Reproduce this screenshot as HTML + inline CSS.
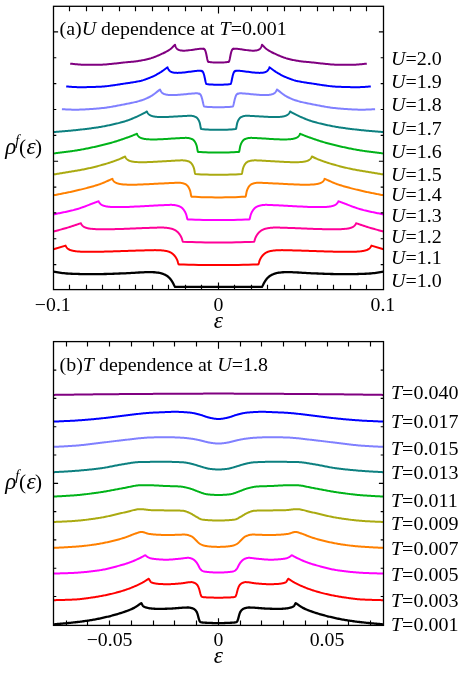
<!DOCTYPE html>
<html><head><meta charset="utf-8"><title>rho_f(epsilon): U and T dependence</title><style>
html,body{margin:0;padding:0;background:#fff;}
svg{display:block;will-change:transform;}
text{font-family:"Liberation Serif",serif;font-size:20px;fill:#000;}
.i{font-style:italic;}
.c{fill:none;stroke-width:2;stroke-linejoin:round;stroke-linecap:butt;}
.ax{fill:none;stroke:#000;stroke-width:1.3;}
.tk{stroke:#000;stroke-width:1.15;fill:none;}
</style></head><body>
<svg width="463" height="675" viewBox="0 0 463 675">
<rect width="463" height="675" fill="#fff"/>
<clipPath id="ca"><rect x="53.5" y="6.3" width="330.0" height="283.3"/></clipPath>
<g clip-path="url(#ca)"><g transform="translate(0,0.5)">
<path class="c" stroke="#000000" style="stroke-width:2.3" d="M53.50,271.10 L55.00,271.36 L56.50,271.63 L58.00,271.89 L59.50,272.13 L61.00,272.34 L62.50,272.53 L64.00,272.72 L65.50,272.88 L67.00,273.00 L68.50,273.10 L70.00,273.19 L71.50,273.26 L73.00,273.33 L74.50,273.38 L76.00,273.43 L77.50,273.47 L79.00,273.52 L80.50,273.56 L82.00,273.59 L83.50,273.63 L85.00,273.66 L86.50,273.68 L88.00,273.69 L89.50,273.70 L91.00,273.70 L92.50,273.69 L94.00,273.68 L95.50,273.66 L97.00,273.64 L98.50,273.62 L100.00,273.60 L101.50,273.58 L103.00,273.55 L104.50,273.51 L106.00,273.48 L107.50,273.43 L109.00,273.39 L110.50,273.34 L112.00,273.29 L113.50,273.24 L115.00,273.18 L116.50,273.13 L118.00,273.07 L119.50,273.01 L121.00,272.95 L122.50,272.90 L124.00,272.84 L125.50,272.78 L127.00,272.72 L128.50,272.64 L130.00,272.56 L131.50,272.47 L133.00,272.38 L134.50,272.29 L136.00,272.19 L137.50,272.10 L139.00,272.01 L140.50,271.93 L142.00,271.85 L143.50,271.78 L145.00,271.72 L146.50,271.67 L148.00,271.63 L149.50,271.61 L151.00,271.60 L152.50,271.64 L154.00,271.73 L155.50,271.86 L157.00,272.03 L158.00,272.15 L158.25,272.18 L158.50,272.21 L158.75,272.25 L159.00,272.29 L159.25,272.33 L159.50,272.38 L159.75,272.43 L160.00,272.49 L160.25,272.54 L160.50,272.61 L160.75,272.67 L161.00,272.74 L161.25,272.82 L161.50,272.89 L161.75,272.97 L162.00,273.05 L162.25,273.14 L162.50,273.23 L162.75,273.32 L163.00,273.41 L163.25,273.51 L163.50,273.61 L163.75,273.71 L164.00,273.82 L164.25,273.93 L164.50,274.04 L164.75,274.15 L165.00,274.27 L165.25,274.38 L165.50,274.50 L165.75,274.63 L166.00,274.75 L166.25,274.89 L166.50,275.03 L166.75,275.19 L167.00,275.36 L167.25,275.54 L167.50,275.73 L167.75,275.92 L168.00,276.13 L168.25,276.35 L168.50,276.57 L168.75,276.81 L169.00,277.05 L169.25,277.30 L169.50,277.55 L169.75,277.81 L170.00,278.08 L170.25,278.36 L170.50,278.65 L170.75,278.97 L171.00,279.31 L171.25,279.67 L171.50,280.05 L171.75,280.45 L172.00,280.85 L172.25,281.27 L172.50,281.69 L172.75,282.11 L173.00,282.56 L173.25,283.03 L173.50,283.53 L173.75,284.04 L174.00,284.55 L174.25,285.03 L174.50,285.47 L174.75,285.89 L175.00,286.30 L180.44,286.30 L185.88,286.30 L191.31,286.30 L196.75,286.30 L202.19,286.30 L207.62,286.30 L213.06,286.30 L218.50,286.30 L223.94,286.30 L229.38,286.30 L234.81,286.30 L240.25,286.30 L245.69,286.30 L251.12,286.30 L256.56,286.30 L262.00,286.30 L262.25,285.89 L262.50,285.47 L262.75,285.03 L263.00,284.55 L263.25,284.04 L263.50,283.53 L263.75,283.03 L264.00,282.56 L264.25,282.11 L264.50,281.69 L264.75,281.27 L265.00,280.85 L265.25,280.45 L265.50,280.05 L265.75,279.67 L266.00,279.31 L266.25,278.97 L266.50,278.65 L266.75,278.36 L267.00,278.08 L267.25,277.81 L267.50,277.55 L267.75,277.30 L268.00,277.05 L268.25,276.81 L268.50,276.57 L268.75,276.35 L269.00,276.13 L269.25,275.92 L269.50,275.73 L269.75,275.54 L270.00,275.36 L270.25,275.19 L270.50,275.03 L270.75,274.89 L271.00,274.75 L271.25,274.63 L271.50,274.50 L271.75,274.38 L272.00,274.27 L272.25,274.15 L272.50,274.04 L272.75,273.93 L273.00,273.82 L273.25,273.71 L273.50,273.61 L273.75,273.51 L274.00,273.41 L274.25,273.32 L274.50,273.23 L274.75,273.14 L275.00,273.05 L275.25,272.97 L275.50,272.89 L275.75,272.82 L276.00,272.74 L276.25,272.67 L276.50,272.61 L276.75,272.54 L277.00,272.49 L277.25,272.43 L277.50,272.38 L277.75,272.33 L278.00,272.29 L278.25,272.25 L278.50,272.21 L278.75,272.18 L279.00,272.15 L280.00,272.03 L281.50,271.86 L283.00,271.73 L284.50,271.64 L286.00,271.60 L287.50,271.61 L289.00,271.63 L290.50,271.67 L292.00,271.72 L293.50,271.78 L295.00,271.85 L296.50,271.93 L298.00,272.01 L299.50,272.10 L301.00,272.19 L302.50,272.29 L304.00,272.38 L305.50,272.47 L307.00,272.56 L308.50,272.64 L310.00,272.72 L311.50,272.78 L313.00,272.84 L314.50,272.90 L316.00,272.95 L317.50,273.01 L319.00,273.07 L320.50,273.13 L322.00,273.18 L323.50,273.24 L325.00,273.29 L326.50,273.34 L328.00,273.39 L329.50,273.43 L331.00,273.48 L332.50,273.51 L334.00,273.55 L335.50,273.58 L337.00,273.60 L338.50,273.62 L340.00,273.64 L341.50,273.66 L343.00,273.68 L344.50,273.69 L346.00,273.70 L347.50,273.70 L349.00,273.69 L350.50,273.68 L352.00,273.66 L353.50,273.63 L355.00,273.59 L356.50,273.56 L358.00,273.52 L359.50,273.47 L361.00,273.43 L362.50,273.38 L364.00,273.33 L365.50,273.26 L367.00,273.19 L368.50,273.10 L370.00,273.00 L371.50,272.88 L373.00,272.72 L374.50,272.53 L376.00,272.34 L377.50,272.13 L379.00,271.89 L380.50,271.63 L382.00,271.36 L383.50,271.10"/>
<path class="c" stroke="#ff0000" d="M53.50,248.80 L65.60,245.10 L65.85,245.63 L66.10,246.10 L66.35,246.51 L66.60,246.87 L66.85,247.18 L67.10,247.47 L67.35,247.73 L67.60,247.96 L67.85,248.17 L68.10,248.37 L68.35,248.54 L68.60,248.71 L68.85,248.86 L69.10,248.99 L69.35,249.12 L69.60,249.24 L69.85,249.35 L70.10,249.46 L70.35,249.56 L70.60,249.65 L70.85,249.73 L71.10,249.81 L71.35,249.89 L71.60,249.96 L71.85,250.03 L72.10,250.09 L72.35,250.15 L72.60,250.21 L72.85,250.26 L73.10,250.32 L73.35,250.36 L73.60,250.41 L73.85,250.45 L74.10,250.50 L74.35,250.54 L74.60,250.58 L74.85,250.61 L75.10,250.65 L75.35,250.68 L76.35,250.80 L77.85,250.94 L79.35,251.05 L80.85,251.14 L82.35,251.20 L83.85,251.25 L85.35,251.29 L86.85,251.31 L88.35,251.33 L89.85,251.33 L91.35,251.33 L92.85,251.33 L94.35,251.31 L95.85,251.30 L97.35,251.28 L98.85,251.25 L100.35,251.22 L101.85,251.19 L103.35,251.16 L104.85,251.12 L106.35,251.08 L107.85,251.04 L109.35,251.00 L110.85,250.95 L112.35,250.91 L113.85,250.86 L115.35,250.81 L116.85,250.76 L118.35,250.71 L119.85,250.66 L121.35,250.61 L122.85,250.56 L124.35,250.51 L125.85,250.46 L127.35,250.41 L128.85,250.36 L130.35,250.31 L131.85,250.26 L133.35,250.21 L134.85,250.16 L136.35,250.11 L137.85,250.06 L139.35,250.01 L140.85,249.97 L142.35,249.92 L143.85,249.88 L145.35,249.84 L146.85,249.80 L148.10,249.76 L148.35,249.76 L148.60,249.75 L148.85,249.74 L149.10,249.74 L149.35,249.73 L149.60,249.72 L149.85,249.72 L150.10,249.71 L150.35,249.71 L150.60,249.70 L150.85,249.69 L151.10,249.69 L151.35,249.68 L151.60,249.68 L151.85,249.67 L152.10,249.66 L152.35,249.66 L152.60,249.65 L152.85,249.65 L153.10,249.64 L153.35,249.64 L153.60,249.63 L153.85,249.63 L154.10,249.63 L154.35,249.63 L154.60,249.62 L154.85,249.62 L155.10,249.62 L155.35,249.62 L155.60,249.63 L155.85,249.63 L156.10,249.63 L156.35,249.64 L156.60,249.64 L156.85,249.65 L157.10,249.66 L157.35,249.66 L157.60,249.67 L157.85,249.68 L158.10,249.69 L158.35,249.70 L158.60,249.71 L158.85,249.72 L159.10,249.73 L159.35,249.74 L159.60,249.76 L159.85,249.77 L160.10,249.78 L160.35,249.80 L160.60,249.82 L160.85,249.83 L161.10,249.85 L161.35,249.87 L161.60,249.89 L161.85,249.91 L162.10,249.93 L162.35,249.95 L162.60,249.98 L162.85,250.00 L163.10,250.03 L163.35,250.06 L163.60,250.09 L163.85,250.12 L164.10,250.15 L164.35,250.19 L164.60,250.22 L164.85,250.26 L165.10,250.30 L165.35,250.35 L165.60,250.39 L165.85,250.41 L166.10,250.46 L166.35,250.51 L166.60,250.56 L166.85,250.62 L167.10,250.68 L167.35,250.74 L167.60,250.81 L167.85,250.88 L168.10,250.96 L168.35,251.04 L168.60,251.12 L168.85,251.21 L169.10,251.30 L169.35,251.40 L169.60,251.50 L169.85,251.61 L170.10,251.72 L170.35,251.84 L170.60,251.97 L170.85,252.11 L171.10,252.25 L171.35,252.40 L171.60,252.56 L171.85,252.72 L172.10,252.90 L172.35,253.08 L172.60,253.28 L172.85,253.48 L173.10,253.70 L173.35,253.93 L173.60,254.17 L173.85,254.42 L174.10,254.69 L174.35,254.98 L174.60,255.27 L174.85,255.59 L175.10,255.92 L175.35,256.27 L175.60,256.64 L175.85,257.03 L176.10,257.44 L176.35,257.87 L176.60,258.33 L176.85,258.82 L177.10,259.35 L177.35,259.95 L177.60,260.67 L177.85,261.53 L178.10,262.48 L178.35,263.30 L178.60,263.78 L178.85,263.90 L178.90,263.90 L183.85,264.06 L188.80,264.21 L193.75,264.33 L198.70,264.43 L203.65,264.50 L208.60,264.56 L213.55,264.59 L218.50,264.60 L223.45,264.59 L228.40,264.56 L233.35,264.50 L238.30,264.43 L243.25,264.33 L248.20,264.21 L253.15,264.06 L258.10,263.90 L258.15,263.90 L258.40,263.78 L258.65,263.30 L258.90,262.48 L259.15,261.53 L259.40,260.67 L259.65,259.95 L259.90,259.35 L260.15,258.82 L260.40,258.33 L260.65,257.87 L260.90,257.44 L261.15,257.03 L261.40,256.64 L261.65,256.27 L261.90,255.92 L262.15,255.59 L262.40,255.27 L262.65,254.98 L262.90,254.69 L263.15,254.42 L263.40,254.17 L263.65,253.93 L263.90,253.70 L264.15,253.48 L264.40,253.28 L264.65,253.08 L264.90,252.90 L265.15,252.72 L265.40,252.56 L265.65,252.40 L265.90,252.25 L266.15,252.11 L266.40,251.97 L266.65,251.84 L266.90,251.72 L267.15,251.61 L267.40,251.50 L267.65,251.40 L267.90,251.30 L268.15,251.21 L268.40,251.12 L268.65,251.04 L268.90,250.96 L269.15,250.88 L269.40,250.81 L269.65,250.74 L269.90,250.68 L270.15,250.62 L270.40,250.56 L270.65,250.51 L270.90,250.46 L271.15,250.41 L271.40,250.39 L271.65,250.35 L271.90,250.30 L272.15,250.26 L272.40,250.22 L272.65,250.19 L272.90,250.15 L273.15,250.12 L273.40,250.09 L273.65,250.06 L273.90,250.03 L274.15,250.00 L274.40,249.98 L274.65,249.95 L274.90,249.93 L275.15,249.91 L275.40,249.89 L275.65,249.87 L275.90,249.85 L276.15,249.83 L276.40,249.82 L276.65,249.80 L276.90,249.78 L277.15,249.77 L277.40,249.76 L277.65,249.74 L277.90,249.73 L278.15,249.72 L278.40,249.71 L278.65,249.70 L278.90,249.69 L279.15,249.68 L279.40,249.67 L279.65,249.66 L279.90,249.66 L280.15,249.65 L280.40,249.64 L280.65,249.64 L280.90,249.63 L281.15,249.63 L281.40,249.63 L281.65,249.62 L281.90,249.62 L282.15,249.62 L282.40,249.62 L282.65,249.63 L282.90,249.63 L283.15,249.63 L283.40,249.63 L283.65,249.64 L283.90,249.64 L284.15,249.65 L284.40,249.65 L284.65,249.66 L284.90,249.66 L285.15,249.67 L285.40,249.68 L285.65,249.68 L285.90,249.69 L286.15,249.69 L286.40,249.70 L286.65,249.71 L286.90,249.71 L287.15,249.72 L287.40,249.72 L287.65,249.73 L287.90,249.74 L288.15,249.74 L288.40,249.75 L288.65,249.76 L288.90,249.76 L290.15,249.80 L291.65,249.84 L293.15,249.88 L294.65,249.92 L296.15,249.97 L297.65,250.01 L299.15,250.06 L300.65,250.11 L302.15,250.16 L303.65,250.21 L305.15,250.26 L306.65,250.31 L308.15,250.36 L309.65,250.41 L311.15,250.46 L312.65,250.51 L314.15,250.56 L315.65,250.61 L317.15,250.66 L318.65,250.71 L320.15,250.76 L321.65,250.81 L323.15,250.86 L324.65,250.91 L326.15,250.95 L327.65,251.00 L329.15,251.04 L330.65,251.08 L332.15,251.12 L333.65,251.16 L335.15,251.19 L336.65,251.22 L338.15,251.25 L339.65,251.28 L341.15,251.30 L342.65,251.31 L344.15,251.33 L345.65,251.33 L347.15,251.33 L348.65,251.33 L350.15,251.31 L351.65,251.29 L353.15,251.25 L354.65,251.20 L356.15,251.14 L357.65,251.05 L359.15,250.94 L360.65,250.80 L361.65,250.68 L361.90,250.65 L362.15,250.61 L362.40,250.58 L362.65,250.54 L362.90,250.50 L363.15,250.45 L363.40,250.41 L363.65,250.36 L363.90,250.32 L364.15,250.26 L364.40,250.21 L364.65,250.15 L364.90,250.09 L365.15,250.03 L365.40,249.96 L365.65,249.89 L365.90,249.81 L366.15,249.73 L366.40,249.65 L366.65,249.56 L366.90,249.46 L367.15,249.35 L367.40,249.24 L367.65,249.12 L367.90,248.99 L368.15,248.86 L368.40,248.71 L368.65,248.54 L368.90,248.37 L369.15,248.17 L369.40,247.96 L369.65,247.73 L369.90,247.47 L370.15,247.18 L370.40,246.87 L370.65,246.51 L370.90,246.10 L371.15,245.63 L371.40,245.10 L383.50,248.80"/>
<path class="c" stroke="#ff0099" d="M53.50,231.00 L54.50,230.73 L55.50,230.46 L56.50,230.19 L57.50,229.93 L58.50,229.66 L59.50,229.39 L60.50,229.13 L61.50,228.86 L62.50,228.58 L63.50,228.31 L64.50,228.03 L65.50,227.74 L66.50,227.45 L67.50,227.15 L68.50,226.84 L69.50,226.53 L70.50,226.20 L71.50,225.88 L72.50,225.54 L73.50,225.21 L74.50,224.87 L75.50,224.53 L76.50,224.19 L77.50,223.84 L78.50,223.50 L79.50,223.17 L80.50,222.83 L80.90,222.70 L81.15,223.23 L81.40,223.70 L81.65,224.11 L81.90,224.46 L82.15,224.78 L82.40,225.07 L82.65,225.33 L82.90,225.56 L83.15,225.77 L83.40,225.96 L83.65,226.14 L83.90,226.30 L84.15,226.45 L84.40,226.59 L84.65,226.72 L84.90,226.84 L85.15,226.95 L85.40,227.05 L85.65,227.15 L85.90,227.24 L86.15,227.32 L86.40,227.40 L86.65,227.48 L86.90,227.55 L87.15,227.62 L87.40,227.68 L87.65,227.74 L87.90,227.79 L88.15,227.85 L88.40,227.90 L88.65,227.95 L88.90,227.99 L89.15,228.04 L89.40,228.08 L89.65,228.12 L89.90,228.15 L90.15,228.19 L90.40,228.22 L90.65,228.25 L91.65,228.37 L93.15,228.51 L94.65,228.61 L96.15,228.68 L97.65,228.74 L99.15,228.78 L100.65,228.80 L102.15,228.82 L103.65,228.82 L105.15,228.82 L106.65,228.81 L108.15,228.79 L109.65,228.76 L111.15,228.73 L112.65,228.70 L114.15,228.66 L115.65,228.62 L117.15,228.58 L118.65,228.53 L120.15,228.48 L121.65,228.43 L123.15,228.38 L124.65,228.32 L126.15,228.27 L127.65,228.21 L129.15,228.15 L130.65,228.09 L132.15,228.03 L133.65,227.97 L135.15,227.91 L136.65,227.85 L138.15,227.79 L139.65,227.74 L141.15,227.68 L142.65,227.62 L144.15,227.56 L145.65,227.50 L147.15,227.45 L148.65,227.40 L150.15,227.34 L151.65,227.29 L153.15,227.24 L154.65,227.19 L154.90,227.19 L155.15,227.18 L155.40,227.17 L155.65,227.16 L155.90,227.16 L156.15,227.15 L156.40,227.14 L156.65,227.13 L156.90,227.13 L157.15,227.12 L157.40,227.11 L157.65,227.11 L157.90,227.10 L158.15,227.09 L158.40,227.08 L158.65,227.08 L158.90,227.07 L159.15,227.06 L159.40,227.06 L159.65,227.05 L159.90,227.05 L160.15,227.04 L160.40,227.04 L160.65,227.04 L160.90,227.03 L161.15,227.03 L161.40,227.04 L161.65,227.04 L161.90,227.04 L162.15,227.05 L162.40,227.05 L162.65,227.06 L162.90,227.07 L163.15,227.08 L163.40,227.10 L163.65,227.11 L163.90,227.12 L164.15,227.14 L164.40,227.16 L164.65,227.17 L164.90,227.19 L165.15,227.21 L165.40,227.23 L165.65,227.26 L165.90,227.28 L166.15,227.30 L166.40,227.33 L166.65,227.35 L166.90,227.38 L167.15,227.41 L167.40,227.44 L167.65,227.48 L167.90,227.51 L168.15,227.55 L168.40,227.58 L168.65,227.62 L168.90,227.67 L169.15,227.71 L169.40,227.76 L169.65,227.80 L169.90,227.86 L170.15,227.91 L170.40,227.97 L170.65,228.03 L170.90,228.09 L171.15,228.15 L171.40,228.18 L171.65,228.25 L171.90,228.32 L172.15,228.40 L172.40,228.48 L172.65,228.56 L172.90,228.65 L173.15,228.75 L173.40,228.85 L173.65,228.95 L173.90,229.06 L174.15,229.18 L174.40,229.30 L174.65,229.43 L174.90,229.56 L175.15,229.70 L175.40,229.85 L175.65,230.01 L175.90,230.17 L176.15,230.35 L176.40,230.53 L176.65,230.72 L176.90,230.92 L177.15,231.13 L177.40,231.35 L177.65,231.58 L177.90,231.83 L178.15,232.09 L178.40,232.36 L178.65,232.64 L178.90,232.94 L179.15,233.25 L179.40,233.59 L179.65,233.93 L179.90,234.30 L180.15,234.68 L180.40,235.09 L180.65,235.51 L180.90,235.96 L181.15,236.43 L181.40,236.95 L181.65,237.53 L181.90,238.22 L182.15,239.05 L182.40,239.95 L182.65,240.73 L182.90,241.19 L183.15,241.30 L183.20,241.30 L187.61,241.46 L192.02,241.61 L196.44,241.73 L200.85,241.83 L205.26,241.90 L209.68,241.96 L214.09,241.99 L218.50,242.00 L222.91,241.99 L227.32,241.96 L231.74,241.90 L236.15,241.83 L240.56,241.73 L244.98,241.61 L249.39,241.46 L253.80,241.30 L253.85,241.30 L254.10,241.19 L254.35,240.73 L254.60,239.95 L254.85,239.05 L255.10,238.22 L255.35,237.53 L255.60,236.95 L255.85,236.43 L256.10,235.96 L256.35,235.51 L256.60,235.09 L256.85,234.68 L257.10,234.30 L257.35,233.93 L257.60,233.59 L257.85,233.25 L258.10,232.94 L258.35,232.64 L258.60,232.36 L258.85,232.09 L259.10,231.83 L259.35,231.58 L259.60,231.35 L259.85,231.13 L260.10,230.92 L260.35,230.72 L260.60,230.53 L260.85,230.35 L261.10,230.17 L261.35,230.01 L261.60,229.85 L261.85,229.70 L262.10,229.56 L262.35,229.43 L262.60,229.30 L262.85,229.18 L263.10,229.06 L263.35,228.95 L263.60,228.85 L263.85,228.75 L264.10,228.65 L264.35,228.56 L264.60,228.48 L264.85,228.40 L265.10,228.32 L265.35,228.25 L265.60,228.18 L265.85,228.15 L266.10,228.09 L266.35,228.03 L266.60,227.97 L266.85,227.91 L267.10,227.86 L267.35,227.80 L267.60,227.76 L267.85,227.71 L268.10,227.67 L268.35,227.62 L268.60,227.58 L268.85,227.55 L269.10,227.51 L269.35,227.48 L269.60,227.44 L269.85,227.41 L270.10,227.38 L270.35,227.35 L270.60,227.33 L270.85,227.30 L271.10,227.28 L271.35,227.26 L271.60,227.23 L271.85,227.21 L272.10,227.19 L272.35,227.17 L272.60,227.16 L272.85,227.14 L273.10,227.12 L273.35,227.11 L273.60,227.10 L273.85,227.08 L274.10,227.07 L274.35,227.06 L274.60,227.05 L274.85,227.05 L275.10,227.04 L275.35,227.04 L275.60,227.04 L275.85,227.03 L276.10,227.03 L276.35,227.04 L276.60,227.04 L276.85,227.04 L277.10,227.05 L277.35,227.05 L277.60,227.06 L277.85,227.06 L278.10,227.07 L278.35,227.08 L278.60,227.08 L278.85,227.09 L279.10,227.10 L279.35,227.11 L279.60,227.11 L279.85,227.12 L280.10,227.13 L280.35,227.13 L280.60,227.14 L280.85,227.15 L281.10,227.16 L281.35,227.16 L281.60,227.17 L281.85,227.18 L282.10,227.19 L282.35,227.19 L283.85,227.24 L285.35,227.29 L286.85,227.34 L288.35,227.40 L289.85,227.45 L291.35,227.50 L292.85,227.56 L294.35,227.62 L295.85,227.68 L297.35,227.74 L298.85,227.79 L300.35,227.85 L301.85,227.91 L303.35,227.97 L304.85,228.03 L306.35,228.09 L307.85,228.15 L309.35,228.21 L310.85,228.27 L312.35,228.32 L313.85,228.38 L315.35,228.43 L316.85,228.48 L318.35,228.53 L319.85,228.58 L321.35,228.62 L322.85,228.66 L324.35,228.70 L325.85,228.73 L327.35,228.76 L328.85,228.79 L330.35,228.81 L331.85,228.82 L333.35,228.82 L334.85,228.82 L336.35,228.80 L337.85,228.78 L339.35,228.74 L340.85,228.68 L342.35,228.61 L343.85,228.51 L345.35,228.37 L346.35,228.25 L346.60,228.22 L346.85,228.19 L347.10,228.15 L347.35,228.12 L347.60,228.08 L347.85,228.04 L348.10,227.99 L348.35,227.95 L348.60,227.90 L348.85,227.85 L349.10,227.79 L349.35,227.74 L349.60,227.68 L349.85,227.62 L350.10,227.55 L350.35,227.48 L350.60,227.40 L350.85,227.32 L351.10,227.24 L351.35,227.15 L351.60,227.05 L351.85,226.95 L352.10,226.84 L352.35,226.72 L352.60,226.59 L352.85,226.45 L353.10,226.30 L353.35,226.14 L353.60,225.96 L353.85,225.77 L354.10,225.56 L354.35,225.33 L354.60,225.07 L354.85,224.78 L355.10,224.46 L355.35,224.11 L355.60,223.70 L355.85,223.23 L356.10,222.70 L356.50,222.83 L357.50,223.17 L358.50,223.50 L359.50,223.84 L360.50,224.19 L361.50,224.53 L362.50,224.87 L363.50,225.21 L364.50,225.54 L365.50,225.88 L366.50,226.20 L367.50,226.53 L368.50,226.84 L369.50,227.15 L370.50,227.45 L371.50,227.74 L372.50,228.03 L373.50,228.31 L374.50,228.58 L375.50,228.86 L376.50,229.13 L377.50,229.39 L378.50,229.66 L379.50,229.93 L380.50,230.19 L381.50,230.46 L382.50,230.73 L383.50,231.00"/>
<path class="c" stroke="#ff00ff" d="M53.50,213.90 L54.50,213.68 L55.50,213.47 L56.50,213.26 L57.50,213.06 L58.50,212.85 L59.50,212.65 L60.50,212.45 L61.50,212.25 L62.50,212.05 L63.50,211.84 L64.50,211.64 L65.50,211.43 L66.50,211.22 L67.50,211.01 L68.50,210.79 L69.50,210.56 L70.50,210.33 L71.50,210.09 L72.50,209.85 L73.50,209.60 L74.50,209.33 L75.50,209.06 L76.50,208.78 L77.50,208.48 L78.50,208.17 L79.50,207.84 L80.50,207.51 L81.50,207.16 L82.50,206.81 L83.50,206.45 L84.50,206.08 L85.50,205.71 L86.50,205.33 L87.50,204.94 L88.50,204.56 L89.50,204.17 L90.50,203.78 L91.50,203.39 L92.50,203.00 L93.50,202.61 L94.50,202.23 L95.50,201.85 L96.50,201.47 L97.50,201.10 L98.50,200.74 L98.60,200.70 L98.85,201.23 L99.10,201.70 L99.35,202.10 L99.60,202.46 L99.85,202.78 L100.10,203.07 L100.35,203.32 L100.60,203.56 L100.85,203.77 L101.10,203.96 L101.35,204.13 L101.60,204.29 L101.85,204.44 L102.10,204.58 L102.35,204.71 L102.60,204.82 L102.85,204.93 L103.10,205.04 L103.35,205.13 L103.60,205.22 L103.85,205.30 L104.10,205.38 L104.35,205.46 L104.60,205.52 L104.85,205.59 L105.10,205.65 L105.35,205.71 L105.60,205.76 L105.85,205.81 L106.10,205.86 L106.35,205.91 L106.60,205.95 L106.85,205.99 L107.10,206.03 L107.35,206.07 L107.60,206.10 L107.85,206.14 L108.10,206.17 L108.35,206.20 L109.35,206.30 L110.85,206.42 L112.35,206.51 L113.85,206.57 L115.35,206.60 L116.85,206.62 L118.35,206.62 L119.85,206.61 L121.35,206.59 L122.85,206.57 L124.35,206.53 L125.85,206.48 L127.35,206.43 L128.85,206.38 L130.35,206.32 L131.85,206.25 L133.35,206.19 L134.85,206.12 L136.35,206.04 L137.85,205.97 L139.35,205.89 L140.85,205.81 L142.35,205.73 L143.85,205.65 L145.35,205.56 L146.85,205.48 L148.35,205.40 L149.85,205.32 L151.35,205.23 L152.85,205.15 L154.35,205.07 L155.85,204.99 L157.35,204.92 L158.85,204.84 L160.35,204.77 L161.85,204.70 L163.35,204.63 L164.85,204.56 L165.10,204.55 L165.35,204.54 L165.60,204.53 L165.85,204.52 L166.10,204.51 L166.35,204.50 L166.60,204.49 L166.85,204.48 L167.10,204.47 L167.35,204.46 L167.60,204.45 L167.85,204.44 L168.10,204.43 L168.35,204.42 L168.60,204.41 L168.85,204.40 L169.10,204.39 L169.35,204.38 L169.60,204.38 L169.85,204.37 L170.10,204.36 L170.35,204.36 L170.60,204.35 L170.85,204.35 L171.10,204.35 L171.35,204.35 L171.60,204.36 L171.85,204.37 L172.10,204.38 L172.35,204.39 L172.60,204.40 L172.85,204.42 L173.10,204.44 L173.35,204.46 L173.60,204.49 L173.85,204.51 L174.10,204.54 L174.35,204.58 L174.60,204.61 L174.85,204.65 L175.10,204.68 L175.35,204.72 L175.60,204.77 L175.85,204.81 L176.10,204.86 L176.35,204.92 L176.60,204.97 L176.85,205.03 L177.10,205.10 L177.35,205.17 L177.60,205.24 L177.85,205.32 L178.10,205.40 L178.35,205.49 L178.60,205.58 L178.85,205.68 L179.10,205.70 L179.35,205.80 L179.60,205.92 L179.85,206.04 L180.10,206.17 L180.35,206.31 L180.60,206.45 L180.85,206.61 L181.10,206.78 L181.35,206.95 L181.60,207.14 L181.85,207.35 L182.10,207.56 L182.35,207.79 L182.60,208.03 L182.85,208.29 L183.10,208.57 L183.35,208.87 L183.60,209.18 L183.85,209.52 L184.10,209.87 L184.35,210.25 L184.60,210.66 L184.85,211.09 L185.10,211.55 L185.35,212.04 L185.60,212.56 L185.85,213.13 L186.10,213.76 L186.35,214.51 L186.60,215.42 L186.85,216.50 L187.10,217.61 L187.35,218.47 L187.60,218.86 L187.80,218.90 L191.64,219.06 L195.48,219.21 L199.31,219.33 L203.15,219.43 L206.99,219.50 L210.82,219.56 L214.66,219.59 L218.50,219.60 L222.34,219.59 L226.18,219.56 L230.01,219.50 L233.85,219.43 L237.69,219.33 L241.52,219.21 L245.36,219.06 L249.20,218.90 L249.40,218.86 L249.65,218.47 L249.90,217.61 L250.15,216.50 L250.40,215.42 L250.65,214.51 L250.90,213.76 L251.15,213.13 L251.40,212.56 L251.65,212.04 L251.90,211.55 L252.15,211.09 L252.40,210.66 L252.65,210.25 L252.90,209.87 L253.15,209.52 L253.40,209.18 L253.65,208.87 L253.90,208.57 L254.15,208.29 L254.40,208.03 L254.65,207.79 L254.90,207.56 L255.15,207.35 L255.40,207.14 L255.65,206.95 L255.90,206.78 L256.15,206.61 L256.40,206.45 L256.65,206.31 L256.90,206.17 L257.15,206.04 L257.40,205.92 L257.65,205.80 L257.90,205.70 L258.15,205.68 L258.40,205.58 L258.65,205.49 L258.90,205.40 L259.15,205.32 L259.40,205.24 L259.65,205.17 L259.90,205.10 L260.15,205.03 L260.40,204.97 L260.65,204.92 L260.90,204.86 L261.15,204.81 L261.40,204.77 L261.65,204.72 L261.90,204.68 L262.15,204.65 L262.40,204.61 L262.65,204.58 L262.90,204.54 L263.15,204.51 L263.40,204.49 L263.65,204.46 L263.90,204.44 L264.15,204.42 L264.40,204.40 L264.65,204.39 L264.90,204.38 L265.15,204.37 L265.40,204.36 L265.65,204.35 L265.90,204.35 L266.15,204.35 L266.40,204.35 L266.65,204.36 L266.90,204.36 L267.15,204.37 L267.40,204.38 L267.65,204.38 L267.90,204.39 L268.15,204.40 L268.40,204.41 L268.65,204.42 L268.90,204.43 L269.15,204.44 L269.40,204.45 L269.65,204.46 L269.90,204.47 L270.15,204.48 L270.40,204.49 L270.65,204.50 L270.90,204.51 L271.15,204.52 L271.40,204.53 L271.65,204.54 L271.90,204.55 L272.15,204.56 L273.65,204.63 L275.15,204.70 L276.65,204.77 L278.15,204.84 L279.65,204.92 L281.15,204.99 L282.65,205.07 L284.15,205.15 L285.65,205.23 L287.15,205.32 L288.65,205.40 L290.15,205.48 L291.65,205.56 L293.15,205.65 L294.65,205.73 L296.15,205.81 L297.65,205.89 L299.15,205.97 L300.65,206.04 L302.15,206.12 L303.65,206.19 L305.15,206.25 L306.65,206.32 L308.15,206.38 L309.65,206.43 L311.15,206.48 L312.65,206.53 L314.15,206.57 L315.65,206.59 L317.15,206.61 L318.65,206.62 L320.15,206.62 L321.65,206.60 L323.15,206.57 L324.65,206.51 L326.15,206.42 L327.65,206.30 L328.65,206.20 L328.90,206.17 L329.15,206.14 L329.40,206.10 L329.65,206.07 L329.90,206.03 L330.15,205.99 L330.40,205.95 L330.65,205.91 L330.90,205.86 L331.15,205.81 L331.40,205.76 L331.65,205.71 L331.90,205.65 L332.15,205.59 L332.40,205.52 L332.65,205.46 L332.90,205.38 L333.15,205.30 L333.40,205.22 L333.65,205.13 L333.90,205.04 L334.15,204.93 L334.40,204.82 L334.65,204.71 L334.90,204.58 L335.15,204.44 L335.40,204.29 L335.65,204.13 L335.90,203.96 L336.15,203.77 L336.40,203.56 L336.65,203.32 L336.90,203.07 L337.15,202.78 L337.40,202.46 L337.65,202.10 L337.90,201.70 L338.15,201.23 L338.40,200.70 L338.50,200.74 L339.50,201.10 L340.50,201.47 L341.50,201.85 L342.50,202.23 L343.50,202.61 L344.50,203.00 L345.50,203.39 L346.50,203.78 L347.50,204.17 L348.50,204.56 L349.50,204.94 L350.50,205.33 L351.50,205.71 L352.50,206.08 L353.50,206.45 L354.50,206.81 L355.50,207.16 L356.50,207.51 L357.50,207.84 L358.50,208.17 L359.50,208.48 L360.50,208.78 L361.50,209.06 L362.50,209.33 L363.50,209.60 L364.50,209.85 L365.50,210.09 L366.50,210.33 L367.50,210.56 L368.50,210.79 L369.50,211.01 L370.50,211.22 L371.50,211.43 L372.50,211.64 L373.50,211.84 L374.50,212.05 L375.50,212.25 L376.50,212.45 L377.50,212.65 L378.50,212.85 L379.50,213.06 L380.50,213.26 L381.50,213.47 L382.50,213.68 L383.50,213.90"/>
<path class="c" stroke="#ff8000" d="M53.50,194.80 L54.50,194.60 L55.50,194.40 L56.50,194.20 L57.50,194.00 L58.50,193.80 L59.50,193.61 L60.50,193.41 L61.50,193.22 L62.50,193.02 L63.50,192.82 L64.50,192.63 L65.50,192.43 L66.50,192.23 L67.50,192.02 L68.50,191.82 L69.50,191.61 L70.50,191.40 L71.50,191.19 L72.50,190.97 L73.50,190.74 L74.50,190.52 L75.50,190.28 L76.50,190.05 L77.50,189.82 L78.50,189.58 L79.50,189.34 L80.50,189.10 L81.50,188.86 L82.50,188.61 L83.50,188.37 L84.50,188.12 L85.50,187.86 L86.50,187.60 L87.50,187.34 L88.50,187.08 L89.50,186.80 L90.50,186.53 L91.50,186.25 L92.50,185.96 L93.50,185.67 L94.50,185.37 L95.50,185.06 L96.50,184.75 L97.50,184.43 L98.50,184.10 L99.50,183.77 L100.50,183.43 L101.50,183.06 L102.50,182.66 L103.50,182.25 L104.50,181.82 L105.50,181.38 L106.50,180.93 L107.50,180.47 L108.50,180.01 L109.50,179.55 L110.50,179.10 L111.50,178.65 L112.30,178.30 L112.55,178.83 L112.80,179.30 L113.05,179.70 L113.30,180.06 L113.55,180.38 L113.80,180.67 L114.05,180.92 L114.30,181.15 L114.55,181.37 L114.80,181.56 L115.05,181.73 L115.30,181.89 L115.55,182.04 L115.80,182.18 L116.05,182.31 L116.30,182.42 L116.55,182.53 L116.80,182.63 L117.05,182.73 L117.30,182.82 L117.55,182.90 L117.80,182.98 L118.05,183.05 L118.30,183.12 L118.55,183.19 L118.80,183.25 L119.05,183.30 L119.30,183.36 L119.55,183.41 L119.80,183.46 L120.05,183.50 L120.30,183.55 L120.55,183.59 L120.80,183.62 L121.05,183.66 L121.30,183.70 L121.55,183.73 L121.80,183.76 L122.05,183.79 L123.05,183.89 L124.55,184.01 L126.05,184.09 L127.55,184.15 L129.05,184.18 L130.55,184.19 L132.05,184.19 L133.55,184.18 L135.05,184.16 L136.55,184.13 L138.05,184.09 L139.55,184.04 L141.05,183.99 L142.55,183.93 L144.05,183.87 L145.55,183.80 L147.05,183.73 L148.55,183.66 L150.05,183.58 L151.55,183.51 L153.05,183.43 L154.55,183.35 L156.05,183.27 L157.55,183.19 L159.05,183.11 L160.55,183.04 L162.05,182.96 L163.55,182.88 L165.05,182.80 L166.55,182.73 L168.05,182.66 L169.55,182.59 L171.05,182.52 L172.30,182.46 L172.55,182.45 L172.80,182.44 L173.05,182.43 L173.30,182.42 L173.55,182.41 L173.80,182.40 L174.05,182.39 L174.30,182.38 L174.55,182.37 L174.80,182.36 L175.05,182.35 L175.30,182.34 L175.55,182.33 L175.80,182.32 L176.05,182.31 L176.30,182.30 L176.55,182.29 L176.80,182.29 L177.05,182.28 L177.30,182.27 L177.55,182.26 L177.80,182.26 L178.05,182.26 L178.30,182.25 L178.55,182.25 L178.80,182.26 L179.05,182.26 L179.30,182.27 L179.55,182.28 L179.80,182.29 L180.05,182.31 L180.30,182.33 L180.55,182.35 L180.80,182.38 L181.05,182.41 L181.30,182.45 L181.55,182.48 L181.80,182.53 L182.05,182.57 L182.30,182.62 L182.55,182.68 L182.80,182.74 L183.05,182.80 L183.30,182.88 L183.55,182.95 L183.80,183.04 L184.05,183.13 L184.30,183.23 L184.55,183.34 L184.80,183.46 L185.05,183.44 L185.30,183.57 L185.55,183.71 L185.80,183.86 L186.05,184.03 L186.30,184.21 L186.55,184.41 L186.80,184.63 L187.05,184.86 L187.30,185.12 L187.55,185.40 L187.80,185.71 L188.05,186.04 L188.30,186.40 L188.55,186.80 L188.80,187.23 L189.05,187.70 L189.30,188.21 L189.55,188.78 L189.80,189.40 L190.05,190.13 L190.30,191.02 L190.55,192.14 L190.80,193.48 L191.05,194.82 L191.30,195.80 L191.55,196.18 L191.70,196.20 L195.05,196.36 L198.40,196.51 L201.75,196.63 L205.10,196.72 L208.45,196.80 L211.80,196.86 L215.15,196.89 L218.50,196.90 L221.85,196.89 L225.20,196.86 L228.55,196.80 L231.90,196.72 L235.25,196.63 L238.60,196.51 L241.95,196.36 L245.30,196.20 L245.45,196.18 L245.70,195.80 L245.95,194.82 L246.20,193.48 L246.45,192.14 L246.70,191.02 L246.95,190.13 L247.20,189.40 L247.45,188.78 L247.70,188.21 L247.95,187.70 L248.20,187.23 L248.45,186.80 L248.70,186.40 L248.95,186.04 L249.20,185.71 L249.45,185.40 L249.70,185.12 L249.95,184.86 L250.20,184.63 L250.45,184.41 L250.70,184.21 L250.95,184.03 L251.20,183.86 L251.45,183.71 L251.70,183.57 L251.95,183.44 L252.20,183.46 L252.45,183.34 L252.70,183.23 L252.95,183.13 L253.20,183.04 L253.45,182.95 L253.70,182.88 L253.95,182.80 L254.20,182.74 L254.45,182.68 L254.70,182.62 L254.95,182.57 L255.20,182.53 L255.45,182.48 L255.70,182.45 L255.95,182.41 L256.20,182.38 L256.45,182.35 L256.70,182.33 L256.95,182.31 L257.20,182.29 L257.45,182.28 L257.70,182.27 L257.95,182.26 L258.20,182.26 L258.45,182.25 L258.70,182.25 L258.95,182.26 L259.20,182.26 L259.45,182.26 L259.70,182.27 L259.95,182.28 L260.20,182.29 L260.45,182.29 L260.70,182.30 L260.95,182.31 L261.20,182.32 L261.45,182.33 L261.70,182.34 L261.95,182.35 L262.20,182.36 L262.45,182.37 L262.70,182.38 L262.95,182.39 L263.20,182.40 L263.45,182.41 L263.70,182.42 L263.95,182.43 L264.20,182.44 L264.45,182.45 L264.70,182.46 L265.95,182.52 L267.45,182.59 L268.95,182.66 L270.45,182.73 L271.95,182.80 L273.45,182.88 L274.95,182.96 L276.45,183.04 L277.95,183.11 L279.45,183.19 L280.95,183.27 L282.45,183.35 L283.95,183.43 L285.45,183.51 L286.95,183.58 L288.45,183.66 L289.95,183.73 L291.45,183.80 L292.95,183.87 L294.45,183.93 L295.95,183.99 L297.45,184.04 L298.95,184.09 L300.45,184.13 L301.95,184.16 L303.45,184.18 L304.95,184.19 L306.45,184.19 L307.95,184.18 L309.45,184.15 L310.95,184.09 L312.45,184.01 L313.95,183.89 L314.95,183.79 L315.20,183.76 L315.45,183.73 L315.70,183.70 L315.95,183.66 L316.20,183.62 L316.45,183.59 L316.70,183.55 L316.95,183.50 L317.20,183.46 L317.45,183.41 L317.70,183.36 L317.95,183.30 L318.20,183.25 L318.45,183.19 L318.70,183.12 L318.95,183.05 L319.20,182.98 L319.45,182.90 L319.70,182.82 L319.95,182.73 L320.20,182.63 L320.45,182.53 L320.70,182.42 L320.95,182.31 L321.20,182.18 L321.45,182.04 L321.70,181.89 L321.95,181.73 L322.20,181.56 L322.45,181.37 L322.70,181.15 L322.95,180.92 L323.20,180.67 L323.45,180.38 L323.70,180.06 L323.95,179.70 L324.20,179.30 L324.45,178.83 L324.70,178.30 L325.50,178.65 L326.50,179.10 L327.50,179.55 L328.50,180.01 L329.50,180.47 L330.50,180.93 L331.50,181.38 L332.50,181.82 L333.50,182.25 L334.50,182.66 L335.50,183.06 L336.50,183.43 L337.50,183.77 L338.50,184.10 L339.50,184.43 L340.50,184.75 L341.50,185.06 L342.50,185.37 L343.50,185.67 L344.50,185.96 L345.50,186.25 L346.50,186.53 L347.50,186.80 L348.50,187.08 L349.50,187.34 L350.50,187.60 L351.50,187.86 L352.50,188.12 L353.50,188.37 L354.50,188.61 L355.50,188.86 L356.50,189.10 L357.50,189.34 L358.50,189.58 L359.50,189.82 L360.50,190.05 L361.50,190.28 L362.50,190.52 L363.50,190.74 L364.50,190.97 L365.50,191.19 L366.50,191.40 L367.50,191.61 L368.50,191.82 L369.50,192.02 L370.50,192.23 L371.50,192.43 L372.50,192.63 L373.50,192.82 L374.50,193.02 L375.50,193.22 L376.50,193.41 L377.50,193.61 L378.50,193.80 L379.50,194.00 L380.50,194.20 L381.50,194.40 L382.50,194.60 L383.50,194.80"/>
<path class="c" stroke="#aaaa11" d="M53.50,174.00 L54.50,173.83 L55.50,173.67 L56.50,173.50 L57.50,173.34 L58.50,173.17 L59.50,173.01 L60.50,172.84 L61.50,172.67 L62.50,172.51 L63.50,172.34 L64.50,172.17 L65.50,172.00 L66.50,171.84 L67.50,171.67 L68.50,171.50 L69.50,171.33 L70.50,171.16 L71.50,171.00 L72.50,170.83 L73.50,170.67 L74.50,170.50 L75.50,170.34 L76.50,170.17 L77.50,170.00 L78.50,169.82 L79.50,169.65 L80.50,169.47 L81.50,169.28 L82.50,169.09 L83.50,168.90 L84.50,168.70 L85.50,168.49 L86.50,168.28 L87.50,168.07 L88.50,167.85 L89.50,167.62 L90.50,167.40 L91.50,167.16 L92.50,166.92 L93.50,166.68 L94.50,166.43 L95.50,166.18 L96.50,165.93 L97.50,165.67 L98.50,165.40 L99.50,165.13 L100.50,164.86 L101.50,164.58 L102.50,164.30 L103.50,164.02 L104.50,163.73 L105.50,163.44 L106.50,163.14 L107.50,162.84 L108.50,162.53 L109.50,162.21 L110.50,161.89 L111.50,161.56 L112.50,161.22 L113.50,160.88 L114.50,160.53 L115.50,160.17 L116.50,159.80 L117.50,159.42 L118.50,159.04 L119.50,158.64 L120.50,158.20 L121.50,157.74 L122.50,157.26 L123.50,156.77 L124.50,156.28 L125.10,156.00 L125.35,156.53 L125.60,157.00 L125.85,157.40 L126.10,157.76 L126.35,158.08 L126.60,158.36 L126.85,158.62 L127.10,158.85 L127.35,159.06 L127.60,159.25 L127.85,159.43 L128.10,159.59 L128.35,159.73 L128.60,159.87 L128.85,159.99 L129.10,160.11 L129.35,160.22 L129.60,160.32 L129.85,160.41 L130.10,160.50 L130.35,160.58 L130.60,160.66 L130.85,160.73 L131.10,160.79 L131.35,160.86 L131.60,160.91 L131.85,160.97 L132.10,161.02 L132.35,161.07 L132.60,161.12 L132.85,161.16 L133.10,161.20 L133.35,161.24 L133.60,161.28 L133.85,161.31 L134.10,161.34 L134.35,161.37 L134.60,161.40 L134.85,161.43 L135.85,161.52 L137.35,161.62 L138.85,161.68 L140.35,161.72 L141.85,161.73 L143.35,161.72 L144.85,161.70 L146.35,161.66 L147.85,161.62 L149.35,161.56 L150.85,161.50 L152.35,161.43 L153.85,161.35 L155.35,161.27 L156.85,161.19 L158.35,161.10 L159.85,161.02 L161.35,160.93 L162.85,160.83 L164.35,160.74 L165.85,160.65 L167.35,160.56 L168.85,160.47 L170.35,160.38 L171.85,160.29 L173.35,160.21 L174.85,160.13 L175.35,160.10 L175.60,160.09 L175.85,160.08 L176.10,160.07 L176.35,160.06 L176.60,160.04 L176.85,160.03 L177.10,160.02 L177.35,160.01 L177.60,159.99 L177.85,159.98 L178.10,159.97 L178.35,159.96 L178.60,159.95 L178.85,159.94 L179.10,159.93 L179.35,159.92 L179.60,159.90 L179.85,159.89 L180.10,159.88 L180.35,159.88 L180.60,159.87 L180.85,159.86 L181.10,159.86 L181.35,159.85 L181.60,159.85 L181.85,159.85 L182.10,159.85 L182.35,159.85 L182.60,159.86 L182.85,159.87 L183.10,159.88 L183.35,159.89 L183.60,159.91 L183.85,159.93 L184.10,159.95 L184.35,159.97 L184.60,160.00 L184.85,160.03 L185.10,160.06 L185.35,160.10 L185.60,160.14 L185.85,160.18 L186.10,160.22 L186.35,160.27 L186.60,160.33 L186.85,160.39 L187.10,160.46 L187.35,160.53 L187.60,160.61 L187.85,160.69 L188.10,160.79 L188.35,160.77 L188.60,160.87 L188.85,160.98 L189.10,161.10 L189.35,161.23 L189.60,161.38 L189.85,161.53 L190.10,161.71 L190.35,161.90 L190.60,162.10 L190.85,162.33 L191.10,162.57 L191.35,162.84 L191.60,163.14 L191.85,163.46 L192.10,163.82 L192.35,164.20 L192.60,164.62 L192.85,165.09 L193.10,165.59 L193.35,166.15 L193.60,166.77 L193.85,167.49 L194.10,168.38 L194.35,169.51 L194.60,170.85 L194.85,172.21 L195.10,173.19 L195.35,173.57 L195.50,173.60 L198.38,173.76 L201.25,173.91 L204.12,174.03 L207.00,174.12 L209.88,174.20 L212.75,174.26 L215.62,174.29 L218.50,174.30 L221.38,174.29 L224.25,174.26 L227.12,174.20 L230.00,174.12 L232.88,174.03 L235.75,173.91 L238.62,173.76 L241.50,173.60 L241.65,173.57 L241.90,173.19 L242.15,172.21 L242.40,170.85 L242.65,169.51 L242.90,168.38 L243.15,167.49 L243.40,166.77 L243.65,166.15 L243.90,165.59 L244.15,165.09 L244.40,164.62 L244.65,164.20 L244.90,163.82 L245.15,163.46 L245.40,163.14 L245.65,162.84 L245.90,162.57 L246.15,162.33 L246.40,162.10 L246.65,161.90 L246.90,161.71 L247.15,161.53 L247.40,161.38 L247.65,161.23 L247.90,161.10 L248.15,160.98 L248.40,160.87 L248.65,160.77 L248.90,160.79 L249.15,160.69 L249.40,160.61 L249.65,160.53 L249.90,160.46 L250.15,160.39 L250.40,160.33 L250.65,160.27 L250.90,160.22 L251.15,160.18 L251.40,160.14 L251.65,160.10 L251.90,160.06 L252.15,160.03 L252.40,160.00 L252.65,159.97 L252.90,159.95 L253.15,159.93 L253.40,159.91 L253.65,159.89 L253.90,159.88 L254.15,159.87 L254.40,159.86 L254.65,159.85 L254.90,159.85 L255.15,159.85 L255.40,159.85 L255.65,159.85 L255.90,159.86 L256.15,159.86 L256.40,159.87 L256.65,159.88 L256.90,159.88 L257.15,159.89 L257.40,159.90 L257.65,159.92 L257.90,159.93 L258.15,159.94 L258.40,159.95 L258.65,159.96 L258.90,159.97 L259.15,159.98 L259.40,159.99 L259.65,160.01 L259.90,160.02 L260.15,160.03 L260.40,160.04 L260.65,160.06 L260.90,160.07 L261.15,160.08 L261.40,160.09 L261.65,160.10 L262.15,160.13 L263.65,160.21 L265.15,160.29 L266.65,160.38 L268.15,160.47 L269.65,160.56 L271.15,160.65 L272.65,160.74 L274.15,160.83 L275.65,160.93 L277.15,161.02 L278.65,161.10 L280.15,161.19 L281.65,161.27 L283.15,161.35 L284.65,161.43 L286.15,161.50 L287.65,161.56 L289.15,161.62 L290.65,161.66 L292.15,161.70 L293.65,161.72 L295.15,161.73 L296.65,161.72 L298.15,161.68 L299.65,161.62 L301.15,161.52 L302.15,161.43 L302.40,161.40 L302.65,161.37 L302.90,161.34 L303.15,161.31 L303.40,161.28 L303.65,161.24 L303.90,161.20 L304.15,161.16 L304.40,161.12 L304.65,161.07 L304.90,161.02 L305.15,160.97 L305.40,160.91 L305.65,160.86 L305.90,160.79 L306.15,160.73 L306.40,160.66 L306.65,160.58 L306.90,160.50 L307.15,160.41 L307.40,160.32 L307.65,160.22 L307.90,160.11 L308.15,159.99 L308.40,159.87 L308.65,159.73 L308.90,159.59 L309.15,159.43 L309.40,159.25 L309.65,159.06 L309.90,158.85 L310.15,158.62 L310.40,158.36 L310.65,158.08 L310.90,157.76 L311.15,157.40 L311.40,157.00 L311.65,156.53 L311.90,156.00 L312.50,156.28 L313.50,156.77 L314.50,157.26 L315.50,157.74 L316.50,158.20 L317.50,158.64 L318.50,159.04 L319.50,159.42 L320.50,159.80 L321.50,160.17 L322.50,160.53 L323.50,160.88 L324.50,161.22 L325.50,161.56 L326.50,161.89 L327.50,162.21 L328.50,162.53 L329.50,162.84 L330.50,163.14 L331.50,163.44 L332.50,163.73 L333.50,164.02 L334.50,164.30 L335.50,164.58 L336.50,164.86 L337.50,165.13 L338.50,165.40 L339.50,165.67 L340.50,165.93 L341.50,166.18 L342.50,166.43 L343.50,166.68 L344.50,166.92 L345.50,167.16 L346.50,167.40 L347.50,167.62 L348.50,167.85 L349.50,168.07 L350.50,168.28 L351.50,168.49 L352.50,168.70 L353.50,168.90 L354.50,169.09 L355.50,169.28 L356.50,169.47 L357.50,169.65 L358.50,169.82 L359.50,170.00 L360.50,170.17 L361.50,170.34 L362.50,170.50 L363.50,170.67 L364.50,170.83 L365.50,171.00 L366.50,171.16 L367.50,171.33 L368.50,171.50 L369.50,171.67 L370.50,171.84 L371.50,172.00 L372.50,172.17 L373.50,172.34 L374.50,172.51 L375.50,172.67 L376.50,172.84 L377.50,173.01 L378.50,173.17 L379.50,173.34 L380.50,173.50 L381.50,173.67 L382.50,173.83 L383.50,174.00"/>
<path class="c" stroke="#00b319" d="M53.50,153.00 L54.50,152.87 L55.50,152.74 L56.50,152.61 L57.50,152.48 L58.50,152.35 L59.50,152.22 L60.50,152.10 L61.50,151.97 L62.50,151.85 L63.50,151.72 L64.50,151.60 L65.50,151.47 L66.50,151.34 L67.50,151.21 L68.50,151.08 L69.50,150.94 L70.50,150.81 L71.50,150.67 L72.50,150.53 L73.50,150.38 L74.50,150.24 L75.50,150.08 L76.50,149.93 L77.50,149.77 L78.50,149.60 L79.50,149.43 L80.50,149.25 L81.50,149.07 L82.50,148.89 L83.50,148.70 L84.50,148.50 L85.50,148.31 L86.50,148.10 L87.50,147.90 L88.50,147.69 L89.50,147.48 L90.50,147.27 L91.50,147.05 L92.50,146.84 L93.50,146.62 L94.50,146.40 L95.50,146.18 L96.50,145.95 L97.50,145.73 L98.50,145.50 L99.50,145.27 L100.50,145.03 L101.50,144.79 L102.50,144.55 L103.50,144.30 L104.50,144.05 L105.50,143.80 L106.50,143.54 L107.50,143.28 L108.50,143.01 L109.50,142.74 L110.50,142.47 L111.50,142.19 L112.50,141.90 L113.50,141.61 L114.50,141.31 L115.50,141.00 L116.50,140.69 L117.50,140.37 L118.50,140.05 L119.50,139.72 L120.50,139.39 L121.50,139.05 L122.50,138.71 L123.50,138.36 L124.50,138.01 L125.50,137.66 L126.50,137.30 L127.50,136.94 L128.50,136.58 L129.50,136.22 L130.50,135.84 L131.50,135.45 L132.50,135.06 L133.50,134.66 L134.50,134.26 L135.50,133.86 L136.50,133.46 L136.90,133.30 L137.15,133.83 L137.40,134.30 L137.65,134.70 L137.90,135.06 L138.15,135.38 L138.40,135.66 L138.65,135.92 L138.90,136.15 L139.15,136.36 L139.40,136.55 L139.65,136.72 L139.90,136.88 L140.15,137.03 L140.40,137.16 L140.65,137.28 L140.90,137.40 L141.15,137.51 L141.40,137.61 L141.65,137.70 L141.90,137.78 L142.15,137.86 L142.40,137.94 L142.65,138.01 L142.90,138.07 L143.15,138.14 L143.40,138.19 L143.65,138.25 L143.90,138.30 L144.15,138.35 L144.40,138.39 L144.65,138.43 L144.90,138.47 L145.15,138.51 L145.40,138.54 L145.65,138.57 L145.90,138.61 L146.15,138.63 L146.40,138.66 L146.65,138.69 L147.65,138.77 L149.15,138.86 L150.65,138.91 L152.15,138.93 L153.65,138.93 L155.15,138.91 L156.65,138.88 L158.15,138.83 L159.65,138.77 L161.15,138.70 L162.65,138.63 L164.15,138.55 L165.65,138.47 L167.15,138.38 L168.65,138.29 L170.15,138.20 L171.65,138.10 L173.15,138.01 L174.65,137.92 L176.15,137.83 L177.65,137.74 L179.15,137.66 L179.65,137.63 L179.90,137.61 L180.15,137.60 L180.40,137.59 L180.65,137.58 L180.90,137.56 L181.15,137.55 L181.40,137.54 L181.65,137.52 L181.90,137.51 L182.15,137.50 L182.40,137.49 L182.65,137.47 L182.90,137.46 L183.15,137.45 L183.40,137.44 L183.65,137.43 L183.90,137.42 L184.15,137.41 L184.40,137.40 L184.65,137.39 L184.90,137.38 L185.15,137.37 L185.40,137.37 L185.65,137.36 L185.90,137.36 L186.15,137.36 L186.40,137.37 L186.65,137.38 L186.90,137.39 L187.15,137.40 L187.40,137.42 L187.65,137.44 L187.90,137.47 L188.15,137.50 L188.40,137.54 L188.65,137.58 L188.90,137.62 L189.15,137.67 L189.40,137.72 L189.65,137.78 L189.90,137.85 L190.15,137.92 L190.40,138.00 L190.65,138.08 L190.90,138.18 L191.15,138.28 L191.40,138.40 L191.65,138.52 L191.90,138.49 L192.15,138.63 L192.40,138.77 L192.65,138.94 L192.90,139.11 L193.15,139.31 L193.40,139.52 L193.65,139.76 L193.90,140.01 L194.15,140.29 L194.40,140.60 L194.65,140.94 L194.90,141.32 L195.15,141.72 L195.40,142.17 L195.65,142.66 L195.90,143.21 L196.15,143.81 L196.40,144.49 L196.65,145.30 L196.90,146.33 L197.15,147.62 L197.40,149.08 L197.65,150.41 L197.90,151.20 L198.15,151.40 L198.20,151.40 L200.74,151.56 L203.27,151.71 L205.81,151.83 L208.35,151.93 L210.89,152.00 L213.43,152.06 L215.96,152.09 L218.50,152.10 L221.04,152.09 L223.57,152.06 L226.11,152.00 L228.65,151.93 L231.19,151.83 L233.73,151.71 L236.26,151.56 L238.80,151.40 L238.85,151.40 L239.10,151.20 L239.35,150.41 L239.60,149.08 L239.85,147.62 L240.10,146.33 L240.35,145.30 L240.60,144.49 L240.85,143.81 L241.10,143.21 L241.35,142.66 L241.60,142.17 L241.85,141.72 L242.10,141.32 L242.35,140.94 L242.60,140.60 L242.85,140.29 L243.10,140.01 L243.35,139.76 L243.60,139.52 L243.85,139.31 L244.10,139.11 L244.35,138.94 L244.60,138.77 L244.85,138.63 L245.10,138.49 L245.35,138.52 L245.60,138.40 L245.85,138.28 L246.10,138.18 L246.35,138.08 L246.60,138.00 L246.85,137.92 L247.10,137.85 L247.35,137.78 L247.60,137.72 L247.85,137.67 L248.10,137.62 L248.35,137.58 L248.60,137.54 L248.85,137.50 L249.10,137.47 L249.35,137.44 L249.60,137.42 L249.85,137.40 L250.10,137.39 L250.35,137.38 L250.60,137.37 L250.85,137.36 L251.10,137.36 L251.35,137.36 L251.60,137.37 L251.85,137.37 L252.10,137.38 L252.35,137.39 L252.60,137.40 L252.85,137.41 L253.10,137.42 L253.35,137.43 L253.60,137.44 L253.85,137.45 L254.10,137.46 L254.35,137.47 L254.60,137.49 L254.85,137.50 L255.10,137.51 L255.35,137.52 L255.60,137.54 L255.85,137.55 L256.10,137.56 L256.35,137.58 L256.60,137.59 L256.85,137.60 L257.10,137.61 L257.35,137.63 L257.85,137.66 L259.35,137.74 L260.85,137.83 L262.35,137.92 L263.85,138.01 L265.35,138.10 L266.85,138.20 L268.35,138.29 L269.85,138.38 L271.35,138.47 L272.85,138.55 L274.35,138.63 L275.85,138.70 L277.35,138.77 L278.85,138.83 L280.35,138.88 L281.85,138.91 L283.35,138.93 L284.85,138.93 L286.35,138.91 L287.85,138.86 L289.35,138.77 L290.35,138.69 L290.60,138.66 L290.85,138.63 L291.10,138.61 L291.35,138.57 L291.60,138.54 L291.85,138.51 L292.10,138.47 L292.35,138.43 L292.60,138.39 L292.85,138.35 L293.10,138.30 L293.35,138.25 L293.60,138.19 L293.85,138.14 L294.10,138.07 L294.35,138.01 L294.60,137.94 L294.85,137.86 L295.10,137.78 L295.35,137.70 L295.60,137.61 L295.85,137.51 L296.10,137.40 L296.35,137.28 L296.60,137.16 L296.85,137.03 L297.10,136.88 L297.35,136.72 L297.60,136.55 L297.85,136.36 L298.10,136.15 L298.35,135.92 L298.60,135.66 L298.85,135.38 L299.10,135.06 L299.35,134.70 L299.60,134.30 L299.85,133.83 L300.10,133.30 L300.50,133.46 L301.50,133.86 L302.50,134.26 L303.50,134.66 L304.50,135.06 L305.50,135.45 L306.50,135.84 L307.50,136.22 L308.50,136.58 L309.50,136.94 L310.50,137.30 L311.50,137.66 L312.50,138.01 L313.50,138.36 L314.50,138.71 L315.50,139.05 L316.50,139.39 L317.50,139.72 L318.50,140.05 L319.50,140.37 L320.50,140.69 L321.50,141.00 L322.50,141.31 L323.50,141.61 L324.50,141.90 L325.50,142.19 L326.50,142.47 L327.50,142.74 L328.50,143.01 L329.50,143.28 L330.50,143.54 L331.50,143.80 L332.50,144.05 L333.50,144.30 L334.50,144.55 L335.50,144.79 L336.50,145.03 L337.50,145.27 L338.50,145.50 L339.50,145.73 L340.50,145.95 L341.50,146.18 L342.50,146.40 L343.50,146.62 L344.50,146.84 L345.50,147.05 L346.50,147.27 L347.50,147.48 L348.50,147.69 L349.50,147.90 L350.50,148.10 L351.50,148.31 L352.50,148.50 L353.50,148.70 L354.50,148.89 L355.50,149.07 L356.50,149.25 L357.50,149.43 L358.50,149.60 L359.50,149.77 L360.50,149.93 L361.50,150.08 L362.50,150.24 L363.50,150.38 L364.50,150.53 L365.50,150.67 L366.50,150.81 L367.50,150.94 L368.50,151.08 L369.50,151.21 L370.50,151.34 L371.50,151.47 L372.50,151.60 L373.50,151.72 L374.50,151.85 L375.50,151.97 L376.50,152.10 L377.50,152.22 L378.50,152.35 L379.50,152.48 L380.50,152.61 L381.50,152.74 L382.50,152.87 L383.50,153.00"/>
<path class="c" stroke="#0d8080" d="M53.50,131.60 L54.50,131.51 L55.50,131.43 L56.50,131.34 L57.50,131.26 L58.50,131.17 L59.50,131.09 L60.50,131.01 L61.50,130.92 L62.50,130.84 L63.50,130.76 L64.50,130.67 L65.50,130.59 L66.50,130.50 L67.50,130.41 L68.50,130.32 L69.50,130.23 L70.50,130.14 L71.50,130.05 L72.50,129.95 L73.50,129.85 L74.50,129.75 L75.50,129.65 L76.50,129.54 L77.50,129.44 L78.50,129.33 L79.50,129.22 L80.50,129.11 L81.50,128.99 L82.50,128.88 L83.50,128.76 L84.50,128.64 L85.50,128.52 L86.50,128.40 L87.50,128.27 L88.50,128.15 L89.50,128.02 L90.50,127.89 L91.50,127.75 L92.50,127.61 L93.50,127.48 L94.50,127.33 L95.50,127.19 L96.50,127.04 L97.50,126.89 L98.50,126.74 L99.50,126.58 L100.50,126.42 L101.50,126.25 L102.50,126.08 L103.50,125.89 L104.50,125.70 L105.50,125.51 L106.50,125.31 L107.50,125.10 L108.50,124.89 L109.50,124.68 L110.50,124.46 L111.50,124.24 L112.50,124.01 L113.50,123.79 L114.50,123.56 L115.50,123.33 L116.50,123.09 L117.50,122.85 L118.50,122.61 L119.50,122.35 L120.50,122.09 L121.50,121.82 L122.50,121.55 L123.50,121.26 L124.50,120.96 L125.50,120.64 L126.50,120.31 L127.50,119.97 L128.50,119.61 L129.50,119.24 L130.50,118.85 L131.50,118.45 L132.50,118.04 L133.50,117.63 L134.50,117.20 L135.50,116.76 L136.50,116.31 L137.50,115.86 L138.50,115.40 L139.50,114.93 L140.50,114.46 L141.50,113.96 L142.50,113.43 L143.50,112.88 L144.50,112.32 L145.50,111.77 L146.50,111.22 L146.90,111.00 L147.15,111.53 L147.40,112.00 L147.65,112.40 L147.90,112.76 L148.15,113.08 L148.40,113.36 L148.65,113.62 L148.90,113.85 L149.15,114.05 L149.40,114.24 L149.65,114.42 L149.90,114.57 L150.15,114.72 L150.40,114.85 L150.65,114.98 L150.90,115.09 L151.15,115.20 L151.40,115.30 L151.65,115.39 L151.90,115.47 L152.15,115.55 L152.40,115.62 L152.65,115.69 L152.90,115.76 L153.15,115.82 L153.40,115.87 L153.65,115.93 L153.90,115.98 L154.15,116.02 L154.40,116.07 L154.65,116.11 L154.90,116.14 L155.15,116.18 L155.40,116.21 L155.65,116.24 L155.90,116.27 L156.15,116.30 L156.40,116.32 L156.65,116.35 L157.65,116.43 L159.15,116.50 L160.65,116.55 L162.15,116.56 L163.65,116.55 L165.15,116.52 L166.65,116.47 L168.15,116.42 L169.65,116.35 L171.15,116.28 L172.65,116.20 L174.15,116.11 L175.65,116.02 L177.15,115.93 L178.65,115.84 L180.15,115.75 L181.65,115.66 L183.15,115.58 L184.15,115.52 L184.40,115.51 L184.65,115.49 L184.90,115.48 L185.15,115.47 L185.40,115.45 L185.65,115.44 L185.90,115.43 L186.15,115.42 L186.40,115.40 L186.65,115.39 L186.90,115.38 L187.15,115.37 L187.40,115.35 L187.65,115.34 L187.90,115.33 L188.15,115.32 L188.40,115.31 L188.65,115.30 L188.90,115.29 L189.15,115.28 L189.40,115.27 L189.65,115.27 L189.90,115.27 L190.15,115.27 L190.40,115.27 L190.65,115.27 L190.90,115.28 L191.15,115.30 L191.40,115.32 L191.65,115.34 L191.90,115.37 L192.15,115.40 L192.40,115.44 L192.65,115.48 L192.90,115.53 L193.15,115.59 L193.40,115.65 L193.65,115.72 L193.90,115.80 L194.15,115.88 L194.40,115.97 L194.65,116.08 L194.90,116.19 L195.15,116.32 L195.40,116.46 L195.65,116.41 L195.90,116.56 L196.15,116.72 L196.40,116.90 L196.65,117.11 L196.90,117.33 L197.15,117.58 L197.40,117.85 L197.65,118.15 L197.90,118.48 L198.15,118.85 L198.40,119.25 L198.65,119.70 L198.90,120.20 L199.15,120.75 L199.40,121.38 L199.65,122.12 L199.90,123.04 L200.15,124.22 L200.40,125.65 L200.65,127.09 L200.90,128.15 L201.15,128.57 L201.30,128.60 L203.45,128.76 L205.60,128.91 L207.75,129.03 L209.90,129.13 L212.05,129.20 L214.20,129.26 L216.35,129.29 L218.50,129.30 L220.65,129.29 L222.80,129.26 L224.95,129.20 L227.10,129.13 L229.25,129.03 L231.40,128.91 L233.55,128.76 L235.70,128.60 L235.85,128.57 L236.10,128.15 L236.35,127.09 L236.60,125.65 L236.85,124.22 L237.10,123.04 L237.35,122.12 L237.60,121.38 L237.85,120.75 L238.10,120.20 L238.35,119.70 L238.60,119.25 L238.85,118.85 L239.10,118.48 L239.35,118.15 L239.60,117.85 L239.85,117.58 L240.10,117.33 L240.35,117.11 L240.60,116.90 L240.85,116.72 L241.10,116.56 L241.35,116.41 L241.60,116.46 L241.85,116.32 L242.10,116.19 L242.35,116.08 L242.60,115.97 L242.85,115.88 L243.10,115.80 L243.35,115.72 L243.60,115.65 L243.85,115.59 L244.10,115.53 L244.35,115.48 L244.60,115.44 L244.85,115.40 L245.10,115.37 L245.35,115.34 L245.60,115.32 L245.85,115.30 L246.10,115.28 L246.35,115.27 L246.60,115.27 L246.85,115.27 L247.10,115.27 L247.35,115.27 L247.60,115.27 L247.85,115.28 L248.10,115.29 L248.35,115.30 L248.60,115.31 L248.85,115.32 L249.10,115.33 L249.35,115.34 L249.60,115.35 L249.85,115.37 L250.10,115.38 L250.35,115.39 L250.60,115.40 L250.85,115.42 L251.10,115.43 L251.35,115.44 L251.60,115.45 L251.85,115.47 L252.10,115.48 L252.35,115.49 L252.60,115.51 L252.85,115.52 L253.85,115.58 L255.35,115.66 L256.85,115.75 L258.35,115.84 L259.85,115.93 L261.35,116.02 L262.85,116.11 L264.35,116.20 L265.85,116.28 L267.35,116.35 L268.85,116.42 L270.35,116.47 L271.85,116.52 L273.35,116.55 L274.85,116.56 L276.35,116.55 L277.85,116.50 L279.35,116.43 L280.35,116.35 L280.60,116.32 L280.85,116.30 L281.10,116.27 L281.35,116.24 L281.60,116.21 L281.85,116.18 L282.10,116.14 L282.35,116.11 L282.60,116.07 L282.85,116.02 L283.10,115.98 L283.35,115.93 L283.60,115.87 L283.85,115.82 L284.10,115.76 L284.35,115.69 L284.60,115.62 L284.85,115.55 L285.10,115.47 L285.35,115.39 L285.60,115.30 L285.85,115.20 L286.10,115.09 L286.35,114.98 L286.60,114.85 L286.85,114.72 L287.10,114.57 L287.35,114.42 L287.60,114.24 L287.85,114.05 L288.10,113.85 L288.35,113.62 L288.60,113.36 L288.85,113.08 L289.10,112.76 L289.35,112.40 L289.60,112.00 L289.85,111.53 L290.10,111.00 L290.50,111.22 L291.50,111.77 L292.50,112.32 L293.50,112.88 L294.50,113.43 L295.50,113.96 L296.50,114.46 L297.50,114.93 L298.50,115.40 L299.50,115.86 L300.50,116.31 L301.50,116.76 L302.50,117.20 L303.50,117.63 L304.50,118.04 L305.50,118.45 L306.50,118.85 L307.50,119.24 L308.50,119.61 L309.50,119.97 L310.50,120.31 L311.50,120.64 L312.50,120.96 L313.50,121.26 L314.50,121.55 L315.50,121.82 L316.50,122.09 L317.50,122.35 L318.50,122.61 L319.50,122.85 L320.50,123.09 L321.50,123.33 L322.50,123.56 L323.50,123.79 L324.50,124.01 L325.50,124.24 L326.50,124.46 L327.50,124.68 L328.50,124.89 L329.50,125.10 L330.50,125.31 L331.50,125.51 L332.50,125.70 L333.50,125.89 L334.50,126.08 L335.50,126.25 L336.50,126.42 L337.50,126.58 L338.50,126.74 L339.50,126.89 L340.50,127.04 L341.50,127.19 L342.50,127.33 L343.50,127.48 L344.50,127.61 L345.50,127.75 L346.50,127.89 L347.50,128.02 L348.50,128.15 L349.50,128.27 L350.50,128.40 L351.50,128.52 L352.50,128.64 L353.50,128.76 L354.50,128.88 L355.50,128.99 L356.50,129.11 L357.50,129.22 L358.50,129.33 L359.50,129.44 L360.50,129.54 L361.50,129.65 L362.50,129.75 L363.50,129.85 L364.50,129.95 L365.50,130.05 L366.50,130.14 L367.50,130.23 L368.50,130.32 L369.50,130.41 L370.50,130.50 L371.50,130.59 L372.50,130.67 L373.50,130.76 L374.50,130.84 L375.50,130.92 L376.50,131.01 L377.50,131.09 L378.50,131.17 L379.50,131.26 L380.50,131.34 L381.50,131.43 L382.50,131.51 L383.50,131.60"/>
<path class="c" stroke="#8080ff" d="M61.90,108.70 L62.90,108.74 L63.90,108.79 L64.90,108.83 L65.90,108.89 L66.90,108.94 L67.90,108.99 L68.90,109.03 L69.90,109.08 L70.90,109.12 L71.90,109.15 L72.90,109.18 L73.90,109.19 L74.90,109.20 L75.90,109.20 L76.90,109.19 L77.90,109.17 L78.90,109.15 L79.90,109.12 L80.90,109.09 L81.90,109.05 L82.90,109.01 L83.90,108.96 L84.90,108.91 L85.90,108.86 L86.90,108.80 L87.90,108.74 L88.90,108.67 L89.90,108.60 L90.90,108.53 L91.90,108.45 L92.90,108.38 L93.90,108.30 L94.90,108.22 L95.90,108.14 L96.90,108.06 L97.90,107.98 L98.90,107.89 L99.90,107.81 L100.90,107.72 L101.90,107.62 L102.90,107.52 L103.90,107.40 L104.90,107.27 L105.90,107.14 L106.90,107.00 L107.90,106.85 L108.90,106.70 L109.90,106.54 L110.90,106.37 L111.90,106.20 L112.90,106.02 L113.90,105.84 L114.90,105.66 L115.90,105.47 L116.90,105.28 L117.90,105.09 L118.90,104.89 L119.90,104.70 L120.90,104.50 L121.90,104.30 L122.90,104.11 L123.90,103.91 L124.90,103.72 L125.90,103.53 L126.90,103.33 L127.90,103.14 L128.90,102.94 L129.90,102.74 L130.90,102.54 L131.90,102.33 L132.90,102.11 L133.90,101.88 L134.90,101.65 L135.90,101.41 L136.90,101.16 L137.90,100.89 L138.90,100.62 L139.90,100.33 L140.90,100.02 L141.90,99.69 L142.90,99.34 L143.90,98.97 L144.90,98.57 L145.90,98.15 L146.90,97.71 L147.90,97.24 L148.90,96.76 L149.90,96.25 L150.90,95.70 L151.90,95.09 L152.90,94.42 L153.90,93.70 L154.90,92.96 L155.90,92.19 L156.90,91.41 L157.90,90.64 L158.90,89.88 L159.90,89.14 L160.10,89.00 L160.35,89.64 L160.60,90.18 L160.85,90.64 L161.10,91.04 L161.35,91.39 L161.60,91.70 L161.85,91.97 L162.10,92.21 L162.35,92.43 L162.60,92.63 L162.85,92.80 L163.10,92.96 L163.35,93.11 L163.60,93.24 L163.85,93.36 L164.10,93.47 L164.35,93.57 L164.60,93.66 L164.85,93.75 L165.10,93.82 L165.35,93.90 L165.60,93.96 L165.85,94.02 L166.10,94.08 L166.35,94.13 L166.60,94.18 L166.85,94.22 L167.10,94.26 L167.35,94.30 L167.60,94.33 L167.85,94.36 L168.10,94.39 L168.35,94.41 L168.60,94.44 L168.85,94.46 L169.10,94.47 L169.35,94.49 L169.60,94.50 L169.85,94.52 L170.85,94.55 L172.35,94.56 L173.85,94.53 L175.35,94.47 L176.85,94.38 L178.35,94.28 L179.85,94.17 L181.35,94.04 L182.85,93.91 L184.35,93.77 L185.85,93.63 L187.35,93.49 L188.85,93.35 L190.35,93.21 L190.60,93.19 L190.85,93.17 L191.10,93.15 L191.35,93.13 L191.60,93.11 L191.85,93.09 L192.10,93.07 L192.35,93.05 L192.60,93.03 L192.85,93.01 L193.10,92.99 L193.35,92.97 L193.60,92.95 L193.85,92.93 L194.10,92.91 L194.35,92.89 L194.60,92.88 L194.85,92.86 L195.10,92.84 L195.35,92.83 L195.60,92.82 L195.85,92.80 L196.10,92.80 L196.35,92.79 L196.60,92.79 L196.85,92.80 L197.10,92.81 L197.35,92.83 L197.60,92.86 L197.85,92.91 L198.10,92.97 L198.35,93.04 L198.60,93.14 L198.85,93.27 L199.10,93.43 L199.35,93.11 L199.60,93.26 L199.85,93.45 L200.10,93.68 L200.35,93.98 L200.60,94.34 L200.85,94.78 L201.10,95.30 L201.35,95.92 L201.60,96.63 L201.85,97.44 L202.10,98.34 L202.35,99.32 L202.60,100.37 L202.85,101.46 L203.10,102.54 L203.35,103.59 L203.60,104.54 L203.85,105.34 L204.10,105.90 L204.30,106.10 L206.08,106.26 L207.85,106.41 L209.62,106.53 L211.40,106.62 L213.18,106.70 L214.95,106.76 L216.72,106.79 L218.50,106.80 L220.28,106.79 L222.05,106.76 L223.82,106.70 L225.60,106.62 L227.38,106.53 L229.15,106.41 L230.92,106.26 L232.70,106.10 L232.90,105.90 L233.15,105.34 L233.40,104.54 L233.65,103.59 L233.90,102.54 L234.15,101.46 L234.40,100.37 L234.65,99.32 L234.90,98.34 L235.15,97.44 L235.40,96.63 L235.65,95.92 L235.90,95.30 L236.15,94.78 L236.40,94.34 L236.65,93.98 L236.90,93.68 L237.15,93.45 L237.40,93.26 L237.65,93.11 L237.90,93.43 L238.15,93.27 L238.40,93.14 L238.65,93.04 L238.90,92.97 L239.15,92.91 L239.40,92.86 L239.65,92.83 L239.90,92.81 L240.15,92.80 L240.40,92.79 L240.65,92.79 L240.90,92.80 L241.15,92.80 L241.40,92.82 L241.65,92.83 L241.90,92.84 L242.15,92.86 L242.40,92.88 L242.65,92.89 L242.90,92.91 L243.15,92.93 L243.40,92.95 L243.65,92.97 L243.90,92.99 L244.15,93.01 L244.40,93.03 L244.65,93.05 L244.90,93.07 L245.15,93.09 L245.40,93.11 L245.65,93.13 L245.90,93.15 L246.15,93.17 L246.40,93.19 L246.65,93.21 L248.15,93.35 L249.65,93.49 L251.15,93.63 L252.65,93.77 L254.15,93.91 L255.65,94.04 L257.15,94.17 L258.65,94.28 L260.15,94.38 L261.65,94.47 L263.15,94.53 L264.65,94.56 L266.15,94.55 L267.15,94.52 L267.40,94.50 L267.65,94.49 L267.90,94.47 L268.15,94.46 L268.40,94.44 L268.65,94.41 L268.90,94.39 L269.15,94.36 L269.40,94.33 L269.65,94.30 L269.90,94.26 L270.15,94.22 L270.40,94.18 L270.65,94.13 L270.90,94.08 L271.15,94.02 L271.40,93.96 L271.65,93.90 L271.90,93.82 L272.15,93.75 L272.40,93.66 L272.65,93.57 L272.90,93.47 L273.15,93.36 L273.40,93.24 L273.65,93.11 L273.90,92.96 L274.15,92.80 L274.40,92.63 L274.65,92.43 L274.90,92.21 L275.15,91.97 L275.40,91.70 L275.65,91.39 L275.90,91.04 L276.15,90.64 L276.40,90.18 L276.65,89.64 L276.90,89.00 L277.10,89.14 L278.10,89.88 L279.10,90.64 L280.10,91.41 L281.10,92.19 L282.10,92.96 L283.10,93.70 L284.10,94.42 L285.10,95.09 L286.10,95.70 L287.10,96.25 L288.10,96.76 L289.10,97.24 L290.10,97.71 L291.10,98.15 L292.10,98.57 L293.10,98.97 L294.10,99.34 L295.10,99.69 L296.10,100.02 L297.10,100.33 L298.10,100.62 L299.10,100.89 L300.10,101.16 L301.10,101.41 L302.10,101.65 L303.10,101.88 L304.10,102.11 L305.10,102.33 L306.10,102.54 L307.10,102.74 L308.10,102.94 L309.10,103.14 L310.10,103.33 L311.10,103.53 L312.10,103.72 L313.10,103.91 L314.10,104.11 L315.10,104.30 L316.10,104.50 L317.10,104.70 L318.10,104.89 L319.10,105.09 L320.10,105.28 L321.10,105.47 L322.10,105.66 L323.10,105.84 L324.10,106.02 L325.10,106.20 L326.10,106.37 L327.10,106.54 L328.10,106.70 L329.10,106.85 L330.10,107.00 L331.10,107.14 L332.10,107.27 L333.10,107.40 L334.10,107.52 L335.10,107.62 L336.10,107.72 L337.10,107.81 L338.10,107.89 L339.10,107.98 L340.10,108.06 L341.10,108.14 L342.10,108.22 L343.10,108.30 L344.10,108.38 L345.10,108.45 L346.10,108.53 L347.10,108.60 L348.10,108.67 L349.10,108.74 L350.10,108.80 L351.10,108.86 L352.10,108.91 L353.10,108.96 L354.10,109.01 L355.10,109.05 L356.10,109.09 L357.10,109.12 L358.10,109.15 L359.10,109.17 L360.10,109.19 L361.10,109.20 L362.10,109.20 L363.10,109.19 L364.10,109.18 L365.10,109.15 L366.10,109.12 L367.10,109.08 L368.10,109.03 L369.10,108.99 L370.10,108.94 L371.10,108.89 L372.10,108.83 L373.10,108.79 L374.10,108.74 L375.10,108.70"/>
<path class="c" stroke="#0000ff" d="M66.20,86.00 L67.20,86.05 L68.20,86.11 L69.20,86.18 L70.20,86.24 L71.20,86.31 L72.20,86.38 L73.20,86.44 L74.20,86.50 L75.20,86.56 L76.20,86.61 L77.20,86.65 L78.20,86.68 L79.20,86.70 L80.20,86.70 L81.20,86.70 L82.20,86.69 L83.20,86.68 L84.20,86.67 L85.20,86.66 L86.20,86.64 L87.20,86.62 L88.20,86.60 L89.20,86.57 L90.20,86.55 L91.20,86.52 L92.20,86.49 L93.20,86.45 L94.20,86.42 L95.20,86.39 L96.20,86.35 L97.20,86.31 L98.20,86.27 L99.20,86.23 L100.20,86.19 L101.20,86.14 L102.20,86.08 L103.20,86.01 L104.20,85.93 L105.20,85.83 L106.20,85.73 L107.20,85.62 L108.20,85.51 L109.20,85.38 L110.20,85.25 L111.20,85.11 L112.20,84.97 L113.20,84.83 L114.20,84.68 L115.20,84.52 L116.20,84.37 L117.20,84.21 L118.20,84.05 L119.20,83.90 L120.20,83.74 L121.20,83.58 L122.20,83.42 L123.20,83.27 L124.20,83.12 L125.20,82.97 L126.20,82.83 L127.20,82.68 L128.20,82.54 L129.20,82.39 L130.20,82.25 L131.20,82.10 L132.20,81.95 L133.20,81.79 L134.20,81.62 L135.20,81.45 L136.20,81.27 L137.20,81.09 L138.20,80.89 L139.20,80.68 L140.20,80.45 L141.20,80.21 L142.20,79.94 L143.20,79.65 L144.20,79.33 L145.20,79.00 L146.20,78.65 L147.20,78.29 L148.20,77.91 L149.20,77.52 L150.20,77.12 L151.20,76.70 L152.20,76.26 L153.20,75.79 L154.20,75.30 L155.20,74.79 L156.20,74.26 L157.20,73.71 L158.20,73.15 L159.20,72.57 L160.20,71.98 L161.20,71.35 L162.20,70.68 L163.20,69.98 L164.20,69.26 L165.20,68.53 L166.20,67.80 L167.20,67.08 L167.60,66.80 L167.85,67.53 L168.10,68.13 L168.35,68.64 L168.60,69.07 L168.85,69.44 L169.10,69.77 L169.35,70.05 L169.60,70.30 L169.85,70.52 L170.10,70.72 L170.35,70.90 L170.60,71.06 L170.85,71.20 L171.10,71.33 L171.35,71.44 L171.60,71.55 L171.85,71.64 L172.10,71.73 L172.35,71.81 L172.60,71.88 L172.85,71.94 L173.10,72.00 L173.35,72.05 L173.60,72.10 L173.85,72.14 L174.10,72.18 L174.35,72.21 L174.60,72.24 L174.85,72.27 L175.10,72.29 L175.35,72.31 L175.60,72.33 L175.85,72.34 L176.10,72.35 L176.35,72.36 L176.60,72.37 L176.85,72.37 L177.10,72.38 L177.35,72.38 L178.35,72.36 L179.85,72.30 L181.35,72.20 L182.85,72.06 L184.35,71.90 L185.85,71.73 L187.35,71.54 L188.85,71.35 L190.35,71.15 L191.85,70.96 L193.35,70.76 L193.60,70.73 L193.85,70.70 L194.10,70.67 L194.35,70.64 L194.60,70.61 L194.85,70.58 L195.10,70.55 L195.35,70.52 L195.60,70.50 L195.85,70.47 L196.10,70.44 L196.35,70.41 L196.60,70.38 L196.85,70.36 L197.10,70.33 L197.35,70.30 L197.60,70.28 L197.85,70.25 L198.10,70.23 L198.35,70.21 L198.60,70.19 L198.85,70.17 L199.10,70.16 L199.35,70.15 L199.60,70.15 L199.85,70.16 L200.10,70.18 L200.35,70.22 L200.60,70.27 L200.85,70.35 L201.10,70.45 L201.35,70.59 L201.60,70.23 L201.85,70.34 L202.10,70.50 L202.35,70.71 L202.60,70.98 L202.85,71.32 L203.10,71.76 L203.35,72.30 L203.60,72.94 L203.85,73.71 L204.10,74.59 L204.35,75.58 L204.60,76.67 L204.85,77.83 L205.10,79.02 L205.35,80.19 L205.60,81.30 L205.85,82.27 L206.10,83.03 L206.35,83.50 L206.50,83.60 L208.00,83.76 L209.50,83.91 L211.00,84.03 L212.50,84.12 L214.00,84.20 L215.50,84.26 L217.00,84.29 L218.50,84.30 L220.00,84.29 L221.50,84.26 L223.00,84.20 L224.50,84.12 L226.00,84.03 L227.50,83.91 L229.00,83.76 L230.50,83.60 L230.65,83.50 L230.90,83.03 L231.15,82.27 L231.40,81.30 L231.65,80.19 L231.90,79.02 L232.15,77.83 L232.40,76.67 L232.65,75.58 L232.90,74.59 L233.15,73.71 L233.40,72.94 L233.65,72.30 L233.90,71.76 L234.15,71.32 L234.40,70.98 L234.65,70.71 L234.90,70.50 L235.15,70.34 L235.40,70.23 L235.65,70.59 L235.90,70.45 L236.15,70.35 L236.40,70.27 L236.65,70.22 L236.90,70.18 L237.15,70.16 L237.40,70.15 L237.65,70.15 L237.90,70.16 L238.15,70.17 L238.40,70.19 L238.65,70.21 L238.90,70.23 L239.15,70.25 L239.40,70.28 L239.65,70.30 L239.90,70.33 L240.15,70.36 L240.40,70.38 L240.65,70.41 L240.90,70.44 L241.15,70.47 L241.40,70.50 L241.65,70.52 L241.90,70.55 L242.15,70.58 L242.40,70.61 L242.65,70.64 L242.90,70.67 L243.15,70.70 L243.40,70.73 L243.65,70.76 L245.15,70.96 L246.65,71.15 L248.15,71.35 L249.65,71.54 L251.15,71.73 L252.65,71.90 L254.15,72.06 L255.65,72.20 L257.15,72.30 L258.65,72.36 L259.65,72.38 L259.90,72.38 L260.15,72.37 L260.40,72.37 L260.65,72.36 L260.90,72.35 L261.15,72.34 L261.40,72.33 L261.65,72.31 L261.90,72.29 L262.15,72.27 L262.40,72.24 L262.65,72.21 L262.90,72.18 L263.15,72.14 L263.40,72.10 L263.65,72.05 L263.90,72.00 L264.15,71.94 L264.40,71.88 L264.65,71.81 L264.90,71.73 L265.15,71.64 L265.40,71.55 L265.65,71.44 L265.90,71.33 L266.15,71.20 L266.40,71.06 L266.65,70.90 L266.90,70.72 L267.15,70.52 L267.40,70.30 L267.65,70.05 L267.90,69.77 L268.15,69.44 L268.40,69.07 L268.65,68.64 L268.90,68.13 L269.15,67.53 L269.40,66.80 L269.80,67.08 L270.80,67.80 L271.80,68.53 L272.80,69.26 L273.80,69.98 L274.80,70.68 L275.80,71.35 L276.80,71.98 L277.80,72.57 L278.80,73.15 L279.80,73.71 L280.80,74.26 L281.80,74.79 L282.80,75.30 L283.80,75.79 L284.80,76.26 L285.80,76.70 L286.80,77.12 L287.80,77.52 L288.80,77.91 L289.80,78.29 L290.80,78.65 L291.80,79.00 L292.80,79.33 L293.80,79.65 L294.80,79.94 L295.80,80.21 L296.80,80.45 L297.80,80.68 L298.80,80.89 L299.80,81.09 L300.80,81.27 L301.80,81.45 L302.80,81.62 L303.80,81.79 L304.80,81.95 L305.80,82.10 L306.80,82.25 L307.80,82.39 L308.80,82.54 L309.80,82.68 L310.80,82.83 L311.80,82.97 L312.80,83.12 L313.80,83.27 L314.80,83.42 L315.80,83.58 L316.80,83.74 L317.80,83.90 L318.80,84.05 L319.80,84.21 L320.80,84.37 L321.80,84.52 L322.80,84.68 L323.80,84.83 L324.80,84.97 L325.80,85.11 L326.80,85.25 L327.80,85.38 L328.80,85.51 L329.80,85.62 L330.80,85.73 L331.80,85.83 L332.80,85.93 L333.80,86.01 L334.80,86.08 L335.80,86.14 L336.80,86.19 L337.80,86.23 L338.80,86.27 L339.80,86.31 L340.80,86.35 L341.80,86.39 L342.80,86.42 L343.80,86.45 L344.80,86.49 L345.80,86.52 L346.80,86.55 L347.80,86.57 L348.80,86.60 L349.80,86.62 L350.80,86.64 L351.80,86.66 L352.80,86.67 L353.80,86.68 L354.80,86.69 L355.80,86.70 L356.80,86.70 L357.80,86.70 L358.80,86.68 L359.80,86.65 L360.80,86.61 L361.80,86.56 L362.80,86.50 L363.80,86.44 L364.80,86.38 L365.80,86.31 L366.80,86.24 L367.80,86.18 L368.80,86.11 L369.80,86.05 L370.80,86.00"/>
<path class="c" stroke="#800080" d="M70.20,63.20 L71.20,63.28 L72.20,63.37 L73.20,63.46 L74.20,63.56 L75.20,63.65 L76.20,63.75 L77.20,63.85 L78.20,63.94 L79.20,64.03 L80.20,64.11 L81.20,64.17 L82.20,64.23 L83.20,64.27 L84.20,64.29 L85.20,64.30 L86.20,64.30 L87.20,64.30 L88.20,64.29 L89.20,64.29 L90.20,64.29 L91.20,64.28 L92.20,64.27 L93.20,64.27 L94.20,64.26 L95.20,64.25 L96.20,64.24 L97.20,64.23 L98.20,64.22 L99.20,64.21 L100.20,64.20 L101.20,64.18 L102.20,64.14 L103.20,64.09 L104.20,64.03 L105.20,63.96 L106.20,63.89 L107.20,63.80 L108.20,63.71 L109.20,63.61 L110.20,63.51 L111.20,63.41 L112.20,63.30 L113.20,63.19 L114.20,63.09 L115.20,62.98 L116.20,62.88 L117.20,62.78 L118.20,62.68 L119.20,62.57 L120.20,62.45 L121.20,62.33 L122.20,62.21 L123.20,62.10 L124.20,61.99 L125.20,61.88 L126.20,61.78 L127.20,61.69 L128.20,61.60 L129.20,61.51 L130.20,61.43 L131.20,61.34 L132.20,61.24 L133.20,61.14 L134.20,61.03 L135.20,60.92 L136.20,60.79 L137.20,60.64 L138.20,60.49 L139.20,60.33 L140.20,60.17 L141.20,59.99 L142.20,59.80 L143.20,59.61 L144.20,59.40 L145.20,59.19 L146.20,58.96 L147.20,58.73 L148.20,58.48 L149.20,58.22 L150.20,57.94 L151.20,57.65 L152.20,57.32 L153.20,56.98 L154.20,56.61 L155.20,56.23 L156.20,55.83 L157.20,55.41 L158.20,54.99 L159.20,54.55 L160.20,54.11 L161.20,53.67 L162.20,53.21 L163.20,52.75 L164.20,52.26 L165.20,51.76 L166.20,51.23 L167.20,50.67 L168.20,50.07 L169.20,49.44 L170.20,48.76 L171.20,47.95 L172.20,47.03 L173.20,46.05 L174.20,45.06 L175.00,44.30 L175.25,45.15 L175.50,45.85 L175.75,46.42 L176.00,46.90 L176.25,47.31 L176.50,47.66 L176.75,47.97 L177.00,48.23 L177.25,48.46 L177.50,48.67 L177.75,48.85 L178.00,49.01 L178.25,49.15 L178.50,49.28 L178.75,49.39 L179.00,49.49 L179.25,49.58 L179.50,49.66 L179.75,49.73 L180.00,49.80 L180.25,49.86 L180.50,49.91 L180.75,49.95 L181.00,49.99 L181.25,50.03 L181.50,50.06 L181.75,50.08 L182.00,50.10 L182.25,50.12 L182.50,50.14 L182.75,50.15 L183.00,50.16 L183.25,50.16 L183.50,50.16 L183.75,50.16 L184.00,50.16 L184.25,50.16 L184.50,50.15 L184.75,50.14 L185.75,50.09 L187.25,49.97 L188.75,49.81 L190.25,49.62 L191.75,49.42 L193.25,49.20 L194.75,48.98 L195.75,48.84 L196.00,48.80 L196.25,48.77 L196.50,48.73 L196.75,48.70 L197.00,48.67 L197.25,48.63 L197.50,48.60 L197.75,48.56 L198.00,48.53 L198.25,48.50 L198.50,48.47 L198.75,48.43 L199.00,48.40 L199.25,48.37 L199.50,48.34 L199.75,48.31 L200.00,48.28 L200.25,48.26 L200.50,48.23 L200.75,48.21 L201.00,48.19 L201.25,48.17 L201.50,48.17 L201.75,48.16 L202.00,48.17 L202.25,48.20 L202.50,48.24 L202.75,48.30 L203.00,48.39 L203.25,48.51 L203.50,48.13 L203.75,48.22 L204.00,48.35 L204.25,48.52 L204.50,48.77 L204.75,49.09 L205.00,49.52 L205.25,50.06 L205.50,50.73 L205.75,51.54 L206.00,52.49 L206.25,53.57 L206.50,54.75 L206.75,56.00 L207.00,57.26 L207.25,58.48 L207.50,59.57 L207.75,60.47 L208.00,61.10 L208.25,61.39 L208.30,61.40 L209.58,61.56 L210.85,61.71 L212.12,61.83 L213.40,61.92 L214.68,62.00 L215.95,62.06 L217.22,62.09 L218.50,62.10 L219.78,62.09 L221.05,62.06 L222.32,62.00 L223.60,61.92 L224.88,61.83 L226.15,61.71 L227.42,61.56 L228.70,61.40 L228.75,61.39 L229.00,61.10 L229.25,60.47 L229.50,59.57 L229.75,58.48 L230.00,57.26 L230.25,56.00 L230.50,54.75 L230.75,53.57 L231.00,52.49 L231.25,51.54 L231.50,50.73 L231.75,50.06 L232.00,49.52 L232.25,49.09 L232.50,48.77 L232.75,48.52 L233.00,48.35 L233.25,48.22 L233.50,48.13 L233.75,48.51 L234.00,48.39 L234.25,48.30 L234.50,48.24 L234.75,48.20 L235.00,48.17 L235.25,48.16 L235.50,48.17 L235.75,48.17 L236.00,48.19 L236.25,48.21 L236.50,48.23 L236.75,48.26 L237.00,48.28 L237.25,48.31 L237.50,48.34 L237.75,48.37 L238.00,48.40 L238.25,48.43 L238.50,48.47 L238.75,48.50 L239.00,48.53 L239.25,48.56 L239.50,48.60 L239.75,48.63 L240.00,48.67 L240.25,48.70 L240.50,48.73 L240.75,48.77 L241.00,48.80 L241.25,48.84 L242.25,48.98 L243.75,49.20 L245.25,49.42 L246.75,49.62 L248.25,49.81 L249.75,49.97 L251.25,50.09 L252.25,50.14 L252.50,50.15 L252.75,50.16 L253.00,50.16 L253.25,50.16 L253.50,50.16 L253.75,50.16 L254.00,50.16 L254.25,50.15 L254.50,50.14 L254.75,50.12 L255.00,50.10 L255.25,50.08 L255.50,50.06 L255.75,50.03 L256.00,49.99 L256.25,49.95 L256.50,49.91 L256.75,49.86 L257.00,49.80 L257.25,49.73 L257.50,49.66 L257.75,49.58 L258.00,49.49 L258.25,49.39 L258.50,49.28 L258.75,49.15 L259.00,49.01 L259.25,48.85 L259.50,48.67 L259.75,48.46 L260.00,48.23 L260.25,47.97 L260.50,47.66 L260.75,47.31 L261.00,46.90 L261.25,46.42 L261.50,45.85 L261.75,45.15 L262.00,44.30 L262.80,45.06 L263.80,46.05 L264.80,47.03 L265.80,47.95 L266.80,48.76 L267.80,49.44 L268.80,50.07 L269.80,50.67 L270.80,51.23 L271.80,51.76 L272.80,52.26 L273.80,52.75 L274.80,53.21 L275.80,53.67 L276.80,54.11 L277.80,54.55 L278.80,54.99 L279.80,55.41 L280.80,55.83 L281.80,56.23 L282.80,56.61 L283.80,56.98 L284.80,57.32 L285.80,57.65 L286.80,57.94 L287.80,58.22 L288.80,58.48 L289.80,58.73 L290.80,58.96 L291.80,59.19 L292.80,59.40 L293.80,59.61 L294.80,59.80 L295.80,59.99 L296.80,60.17 L297.80,60.33 L298.80,60.49 L299.80,60.64 L300.80,60.79 L301.80,60.92 L302.80,61.03 L303.80,61.14 L304.80,61.24 L305.80,61.34 L306.80,61.43 L307.80,61.51 L308.80,61.60 L309.80,61.69 L310.80,61.78 L311.80,61.88 L312.80,61.99 L313.80,62.10 L314.80,62.21 L315.80,62.33 L316.80,62.45 L317.80,62.57 L318.80,62.68 L319.80,62.78 L320.80,62.88 L321.80,62.98 L322.80,63.09 L323.80,63.19 L324.80,63.30 L325.80,63.41 L326.80,63.51 L327.80,63.61 L328.80,63.71 L329.80,63.80 L330.80,63.89 L331.80,63.96 L332.80,64.03 L333.80,64.09 L334.80,64.14 L335.80,64.18 L336.80,64.20 L337.80,64.21 L338.80,64.22 L339.80,64.23 L340.80,64.24 L341.80,64.25 L342.80,64.26 L343.80,64.27 L344.80,64.27 L345.80,64.28 L346.80,64.29 L347.80,64.29 L348.80,64.29 L349.80,64.30 L350.80,64.30 L351.80,64.30 L352.80,64.29 L353.80,64.27 L354.80,64.23 L355.80,64.17 L356.80,64.11 L357.80,64.03 L358.80,63.94 L359.80,63.85 L360.80,63.75 L361.80,63.65 L362.80,63.56 L363.80,63.46 L364.80,63.37 L365.80,63.28 L366.80,63.20"/>
</g></g>
<path class="tk" d="M69.50,289.60v-4.90 M69.50,6.30v4.90 M86.50,289.60v-4.90 M86.50,6.30v4.90 M102.50,289.60v-4.90 M102.50,6.30v4.90 M119.50,289.60v-4.90 M119.50,6.30v4.90 M135.50,289.60v-4.90 M135.50,6.30v4.90 M152.50,289.60v-4.90 M152.50,6.30v4.90 M168.50,289.60v-4.90 M168.50,6.30v4.90 M185.50,289.60v-4.90 M185.50,6.30v4.90 M201.50,289.60v-4.90 M201.50,6.30v4.90 M218.50,289.60v-7.10 M218.50,6.30v7.10 M234.50,289.60v-4.90 M234.50,6.30v4.90 M251.50,289.60v-4.90 M251.50,6.30v4.90 M267.50,289.60v-4.90 M267.50,6.30v4.90 M284.50,289.60v-4.90 M284.50,6.30v4.90 M300.50,289.60v-4.90 M300.50,6.30v4.90 M317.50,289.60v-4.90 M317.50,6.30v4.90 M333.50,289.60v-4.90 M333.50,6.30v4.90 M350.50,289.60v-4.90 M350.50,6.30v4.90 M366.50,289.60v-4.90 M366.50,6.30v4.90 M53.50,31.90h4.6 M383.50,31.90h-4.6 M53.50,57.76h2.8 M383.50,57.76h-2.8 M53.50,83.62h2.8 M383.50,83.62h-2.8 M53.50,109.48h2.8 M383.50,109.48h-2.8 M53.50,135.34h2.8 M383.50,135.34h-2.8 M53.50,161.20h4.6 M383.50,161.20h-4.6 M53.50,187.06h2.8 M383.50,187.06h-2.8 M53.50,212.92h2.8 M383.50,212.92h-2.8 M53.50,238.78h2.8 M383.50,238.78h-2.8 M53.50,264.64h2.8 M383.50,264.64h-2.8"/>
<rect class="ax" x="53.5" y="6.3" width="330.0" height="283.3"/>
<text transform="translate(59.60,35.10) scale(1,0.975)" style="font-size:19.95px" text-anchor="start">(a)<tspan class="i">U</tspan> dependence at <tspan class="i">T</tspan>=0.001</text>
<text transform="translate(391.00,64.80) scale(1,0.975)" style="font-size:20.00px" text-anchor="start"><tspan class="i">U</tspan>=2.0</text>
<text transform="translate(391.00,87.50) scale(1,0.975)" style="font-size:20.00px" text-anchor="start"><tspan class="i">U</tspan>=1.9</text>
<text transform="translate(391.00,111.00) scale(1,0.975)" style="font-size:20.00px" text-anchor="start"><tspan class="i">U</tspan>=1.8</text>
<text transform="translate(391.00,134.70) scale(1,0.975)" style="font-size:20.00px" text-anchor="start"><tspan class="i">U</tspan>=1.7</text>
<text transform="translate(391.00,158.20) scale(1,0.975)" style="font-size:20.00px" text-anchor="start"><tspan class="i">U</tspan>=1.6</text>
<text transform="translate(391.00,181.10) scale(1,0.975)" style="font-size:20.00px" text-anchor="start"><tspan class="i">U</tspan>=1.5</text>
<text transform="translate(391.00,201.30) scale(1,0.975)" style="font-size:20.00px" text-anchor="start"><tspan class="i">U</tspan>=1.4</text>
<text transform="translate(391.00,222.30) scale(1,0.975)" style="font-size:20.00px" text-anchor="start"><tspan class="i">U</tspan>=1.3</text>
<text transform="translate(391.00,243.20) scale(1,0.975)" style="font-size:20.00px" text-anchor="start"><tspan class="i">U</tspan>=1.2</text>
<text transform="translate(391.00,263.80) scale(1,0.975)" style="font-size:20.00px" text-anchor="start"><tspan class="i">U</tspan>=1.1</text>
<text transform="translate(391.00,286.50) scale(1,0.975)" style="font-size:20.00px" text-anchor="start"><tspan class="i">U</tspan>=1.0</text>
<text transform="translate(52.80,310.80) scale(1,0.975)" style="font-size:19.80px" text-anchor="middle">−0.1</text>
<text transform="translate(218.50,310.80) scale(1,0.975)" style="font-size:19.80px" text-anchor="middle">0</text>
<text transform="translate(382.90,310.80) scale(1,0.975)" style="font-size:19.80px" text-anchor="middle">0.1</text>
<text transform="translate(218.30,327.80) scale(1,0.975)" style="font-size:23.50px" text-anchor="middle" class="i">ε</text>
<text transform="translate(5.20,154.30) scale(1,0.975)" style="font-size:20.00px" text-anchor="start"><tspan class="i" style="font-size:23px">ρ</tspan><tspan class="i" dx="-0.9" dy="-9.5" style="font-size:14.5px">f</tspan><tspan dx="-0.4" dy="9.5" style="font-size:21.2px">(</tspan><tspan class="i" dx="0.4" style="font-size:23.5px">ε</tspan><tspan dx="-0.6" style="font-size:21.2px">)</tspan></text>
<clipPath id="cb"><rect x="53.5" y="341.6" width="330.0" height="283.8"/></clipPath>
<g clip-path="url(#cb)"><g>
<path class="c" stroke="#800080" d="M53.50,394.89 L54.50,394.89 L55.50,394.87 L56.50,394.86 L57.50,394.85 L58.50,394.83 L59.50,394.82 L60.50,394.81 L61.50,394.79 L62.50,394.78 L63.50,394.77 L64.50,394.75 L65.50,394.74 L66.50,394.72 L67.50,394.71 L68.50,394.70 L69.50,394.68 L70.50,394.67 L71.50,394.65 L72.50,394.64 L73.50,394.63 L74.50,394.61 L75.50,394.60 L76.50,394.58 L77.50,394.57 L78.50,394.56 L79.50,394.54 L80.50,394.53 L81.50,394.52 L82.50,394.50 L83.50,394.49 L84.50,394.48 L85.50,394.47 L86.50,394.45 L87.50,394.44 L88.50,394.43 L89.50,394.42 L90.50,394.40 L91.50,394.39 L92.50,394.38 L93.50,394.37 L94.50,394.36 L95.50,394.35 L96.50,394.34 L97.50,394.33 L98.50,394.32 L99.50,394.31 L100.50,394.30 L101.50,394.29 L102.50,394.28 L103.50,394.27 L104.50,394.26 L105.50,394.25 L106.50,394.24 L107.50,394.23 L108.50,394.22 L109.50,394.21 L110.50,394.20 L111.50,394.19 L112.50,394.18 L113.50,394.17 L114.50,394.17 L115.50,394.16 L116.50,394.15 L117.50,394.14 L118.50,394.13 L119.50,394.12 L120.50,394.11 L121.50,394.10 L122.50,394.10 L123.50,394.09 L124.50,394.08 L125.50,394.07 L126.50,394.06 L127.50,394.05 L128.50,394.05 L129.50,394.04 L130.50,394.03 L131.50,394.02 L132.50,394.02 L133.50,394.01 L134.50,394.00 L135.50,393.99 L136.50,393.98 L137.50,393.98 L138.50,393.97 L139.50,393.96 L140.50,393.96 L141.50,393.95 L142.50,393.94 L143.50,393.93 L144.50,393.93 L145.50,393.92 L146.50,393.91 L147.50,393.91 L148.50,393.90 L149.50,393.89 L150.50,393.89 L151.50,393.88 L152.50,393.88 L153.50,393.87 L154.50,393.86 L155.50,393.86 L156.50,393.85 L157.50,393.85 L158.50,393.84 L159.50,393.83 L160.50,393.83 L161.50,393.82 L162.50,393.82 L163.50,393.81 L164.50,393.81 L165.50,393.80 L166.50,393.80 L167.50,393.79 L168.50,393.79 L169.50,393.78 L170.50,393.78 L171.50,393.77 L172.50,393.77 L173.50,393.76 L174.00,393.76 L174.50,393.76 L175.00,393.75 L175.50,393.75 L176.00,393.75 L176.50,393.75 L177.00,393.74 L177.50,393.74 L178.00,393.74 L178.50,393.74 L179.00,393.73 L179.50,393.73 L180.00,393.73 L180.50,393.72 L181.00,393.72 L181.50,393.72 L182.00,393.72 L182.50,393.71 L183.00,393.71 L183.50,393.71 L184.00,393.71 L184.50,393.70 L185.00,393.70 L185.50,393.70 L186.00,393.70 L186.50,393.69 L187.00,393.69 L187.50,393.69 L188.00,393.69 L188.50,393.68 L189.00,393.68 L189.50,393.68 L190.00,393.68 L190.50,393.68 L191.00,393.67 L191.50,393.67 L192.00,393.67 L192.50,393.67 L193.00,393.66 L193.50,393.66 L194.00,393.66 L194.50,393.66 L195.00,393.66 L195.50,393.65 L196.00,393.65 L196.50,393.65 L197.00,393.65 L197.50,393.65 L198.00,393.64 L198.50,393.64 L199.00,393.64 L199.50,393.64 L200.00,393.64 L200.50,393.63 L201.00,393.63 L201.50,393.63 L202.00,393.63 L202.50,393.63 L203.00,393.63 L203.50,393.62 L204.00,393.62 L204.50,393.62 L205.00,393.62 L205.50,393.62 L206.00,393.62 L206.50,393.62 L207.00,393.61 L207.50,393.61 L208.00,393.61 L208.50,393.61 L209.00,393.61 L209.50,393.61 L210.00,393.61 L210.50,393.61 L211.00,393.61 L211.50,393.61 L212.00,393.61 L212.50,393.60 L213.00,393.60 L213.50,393.60 L214.00,393.60 L214.50,393.60 L215.00,393.60 L215.50,393.60 L216.00,393.60 L216.50,393.60 L217.00,393.60 L217.50,393.60 L218.00,393.60 L218.50,393.60 L219.00,393.60 L219.50,393.60 L220.00,393.60 L220.50,393.60 L221.00,393.60 L221.50,393.60 L222.00,393.60 L222.50,393.60 L223.00,393.60 L223.50,393.60 L224.00,393.60 L224.50,393.60 L225.00,393.61 L225.50,393.61 L226.00,393.61 L226.50,393.61 L227.00,393.61 L227.50,393.61 L228.00,393.61 L228.50,393.61 L229.00,393.61 L229.50,393.61 L230.00,393.61 L230.50,393.62 L231.00,393.62 L231.50,393.62 L232.00,393.62 L232.50,393.62 L233.00,393.62 L233.50,393.62 L234.00,393.63 L234.50,393.63 L235.00,393.63 L235.50,393.63 L236.00,393.63 L236.50,393.63 L237.00,393.64 L237.50,393.64 L238.00,393.64 L238.50,393.64 L239.00,393.64 L239.50,393.65 L240.00,393.65 L240.50,393.65 L241.00,393.65 L241.50,393.65 L242.00,393.66 L242.50,393.66 L243.00,393.66 L243.50,393.66 L244.00,393.66 L244.50,393.67 L245.00,393.67 L245.50,393.67 L246.00,393.67 L246.50,393.68 L247.00,393.68 L247.50,393.68 L248.00,393.68 L248.50,393.68 L249.00,393.69 L249.50,393.69 L250.00,393.69 L250.50,393.69 L251.00,393.70 L251.50,393.70 L252.00,393.70 L252.50,393.70 L253.00,393.71 L253.50,393.71 L254.00,393.71 L254.50,393.71 L255.00,393.72 L255.50,393.72 L256.00,393.72 L256.50,393.72 L257.00,393.73 L257.50,393.73 L258.00,393.73 L258.50,393.74 L259.00,393.74 L259.50,393.74 L260.00,393.74 L260.50,393.75 L261.00,393.75 L261.50,393.75 L262.00,393.75 L262.50,393.76 L263.00,393.76 L263.50,393.76 L264.50,393.77 L265.50,393.77 L266.50,393.78 L267.50,393.78 L268.50,393.79 L269.50,393.79 L270.50,393.80 L271.50,393.80 L272.50,393.81 L273.50,393.81 L274.50,393.82 L275.50,393.82 L276.50,393.83 L277.50,393.83 L278.50,393.84 L279.50,393.85 L280.50,393.85 L281.50,393.86 L282.50,393.86 L283.50,393.87 L284.50,393.88 L285.50,393.88 L286.50,393.89 L287.50,393.89 L288.50,393.90 L289.50,393.91 L290.50,393.91 L291.50,393.92 L292.50,393.93 L293.50,393.93 L294.50,393.94 L295.50,393.95 L296.50,393.96 L297.50,393.96 L298.50,393.97 L299.50,393.98 L300.50,393.98 L301.50,393.99 L302.50,394.00 L303.50,394.01 L304.50,394.02 L305.50,394.02 L306.50,394.03 L307.50,394.04 L308.50,394.05 L309.50,394.05 L310.50,394.06 L311.50,394.07 L312.50,394.08 L313.50,394.09 L314.50,394.10 L315.50,394.10 L316.50,394.11 L317.50,394.12 L318.50,394.13 L319.50,394.14 L320.50,394.15 L321.50,394.16 L322.50,394.17 L323.50,394.17 L324.50,394.18 L325.50,394.19 L326.50,394.20 L327.50,394.21 L328.50,394.22 L329.50,394.23 L330.50,394.24 L331.50,394.25 L332.50,394.26 L333.50,394.27 L334.50,394.28 L335.50,394.29 L336.50,394.30 L337.50,394.31 L338.50,394.32 L339.50,394.33 L340.50,394.34 L341.50,394.35 L342.50,394.36 L343.50,394.37 L344.50,394.38 L345.50,394.39 L346.50,394.40 L347.50,394.42 L348.50,394.43 L349.50,394.44 L350.50,394.45 L351.50,394.47 L352.50,394.48 L353.50,394.49 L354.50,394.50 L355.50,394.52 L356.50,394.53 L357.50,394.54 L358.50,394.56 L359.50,394.57 L360.50,394.58 L361.50,394.60 L362.50,394.61 L363.50,394.63 L364.50,394.64 L365.50,394.65 L366.50,394.67 L367.50,394.68 L368.50,394.70 L369.50,394.71 L370.50,394.72 L371.50,394.74 L372.50,394.75 L373.50,394.77 L374.50,394.78 L375.50,394.79 L376.50,394.81 L377.50,394.82 L378.50,394.83 L379.50,394.85 L380.50,394.86 L381.50,394.87 L382.50,394.89 L383.50,394.89"/>
<path class="c" stroke="#0000ff" d="M53.50,421.58 L54.50,421.55 L55.50,421.51 L56.50,421.47 L57.50,421.42 L58.50,421.38 L59.50,421.34 L60.50,421.29 L61.50,421.25 L62.50,421.21 L63.50,421.17 L64.50,421.12 L65.50,421.08 L66.50,421.03 L67.50,420.99 L68.50,420.94 L69.50,420.89 L70.50,420.84 L71.50,420.79 L72.50,420.74 L73.50,420.68 L74.50,420.63 L75.50,420.57 L76.50,420.51 L77.50,420.44 L78.50,420.37 L79.50,420.30 L80.50,420.23 L81.50,420.16 L82.50,420.08 L83.50,420.00 L84.50,419.92 L85.50,419.84 L86.50,419.76 L87.50,419.67 L88.50,419.58 L89.50,419.50 L90.50,419.41 L91.50,419.31 L92.50,419.22 L93.50,419.13 L94.50,419.03 L95.50,418.94 L96.50,418.84 L97.50,418.75 L98.50,418.65 L99.50,418.55 L100.50,418.45 L101.50,418.35 L102.50,418.24 L103.50,418.13 L104.50,418.02 L105.50,417.90 L106.50,417.79 L107.50,417.67 L108.50,417.55 L109.50,417.42 L110.50,417.30 L111.50,417.17 L112.50,417.05 L113.50,416.92 L114.50,416.79 L115.50,416.66 L116.50,416.54 L117.50,416.41 L118.50,416.28 L119.50,416.16 L120.50,416.04 L121.50,415.91 L122.50,415.79 L123.50,415.67 L124.50,415.56 L125.50,415.44 L126.50,415.32 L127.50,415.21 L128.50,415.09 L129.50,414.96 L130.50,414.84 L131.50,414.72 L132.50,414.59 L133.50,414.47 L134.50,414.35 L135.50,414.23 L136.50,414.10 L137.50,413.99 L138.50,413.87 L139.50,413.75 L140.50,413.64 L141.50,413.53 L142.50,413.43 L143.50,413.33 L144.50,413.23 L145.50,413.14 L146.50,413.06 L147.50,412.98 L148.50,412.90 L149.50,412.84 L150.50,412.77 L151.50,412.72 L152.50,412.66 L153.50,412.61 L154.50,412.56 L155.50,412.51 L156.50,412.47 L157.50,412.43 L158.50,412.38 L159.50,412.34 L160.50,412.31 L161.50,412.27 L162.50,412.23 L163.50,412.19 L164.50,412.16 L165.50,412.12 L166.50,412.08 L167.50,412.04 L168.50,411.99 L169.50,411.95 L170.50,411.91 L171.50,411.87 L172.50,411.84 L173.50,411.82 L174.00,411.81 L174.50,411.81 L175.00,411.81 L175.50,411.81 L176.00,411.81 L176.50,411.82 L177.00,411.82 L177.50,411.83 L178.00,411.85 L178.50,411.86 L179.00,411.88 L179.50,411.89 L180.00,411.91 L180.50,411.94 L181.00,411.96 L181.50,411.98 L182.00,412.01 L182.50,412.04 L183.00,412.07 L183.50,412.10 L184.00,412.13 L184.50,412.16 L185.00,412.20 L185.50,412.24 L186.00,412.27 L186.50,412.31 L187.00,412.35 L187.50,412.39 L188.00,412.43 L188.50,412.47 L189.00,412.52 L189.50,412.56 L190.00,412.61 L190.50,412.67 L191.00,412.73 L191.50,412.80 L192.00,412.87 L192.50,412.95 L193.00,413.04 L193.50,413.14 L194.00,413.24 L194.50,413.34 L195.00,413.45 L195.50,413.57 L196.00,413.69 L196.50,413.81 L197.00,413.93 L197.50,414.06 L198.00,414.19 L198.50,414.32 L199.00,414.45 L199.50,414.58 L200.00,414.72 L200.50,414.86 L201.00,415.01 L201.50,415.16 L202.00,415.32 L202.50,415.49 L203.00,415.67 L203.50,415.85 L204.00,416.02 L204.50,416.20 L205.00,416.38 L205.50,416.56 L206.00,416.73 L206.50,416.89 L207.00,417.05 L207.50,417.20 L208.00,417.33 L208.50,417.46 L209.00,417.58 L209.50,417.69 L210.00,417.80 L210.50,417.91 L211.00,418.01 L211.50,418.11 L212.00,418.21 L212.50,418.30 L213.00,418.40 L213.50,418.48 L214.00,418.57 L214.50,418.64 L215.00,418.71 L215.50,418.78 L216.00,418.83 L216.50,418.88 L217.00,418.92 L217.50,418.94 L218.00,418.96 L218.50,418.97 L219.00,418.96 L219.50,418.94 L220.00,418.92 L220.50,418.88 L221.00,418.83 L221.50,418.78 L222.00,418.71 L222.50,418.64 L223.00,418.57 L223.50,418.48 L224.00,418.40 L224.50,418.30 L225.00,418.21 L225.50,418.11 L226.00,418.01 L226.50,417.91 L227.00,417.80 L227.50,417.69 L228.00,417.58 L228.50,417.46 L229.00,417.33 L229.50,417.20 L230.00,417.05 L230.50,416.89 L231.00,416.73 L231.50,416.56 L232.00,416.38 L232.50,416.20 L233.00,416.02 L233.50,415.85 L234.00,415.67 L234.50,415.49 L235.00,415.32 L235.50,415.16 L236.00,415.01 L236.50,414.86 L237.00,414.72 L237.50,414.58 L238.00,414.45 L238.50,414.32 L239.00,414.19 L239.50,414.06 L240.00,413.93 L240.50,413.81 L241.00,413.69 L241.50,413.57 L242.00,413.45 L242.50,413.34 L243.00,413.24 L243.50,413.14 L244.00,413.04 L244.50,412.95 L245.00,412.87 L245.50,412.80 L246.00,412.73 L246.50,412.67 L247.00,412.61 L247.50,412.56 L248.00,412.52 L248.50,412.47 L249.00,412.43 L249.50,412.39 L250.00,412.35 L250.50,412.31 L251.00,412.27 L251.50,412.24 L252.00,412.20 L252.50,412.16 L253.00,412.13 L253.50,412.10 L254.00,412.07 L254.50,412.04 L255.00,412.01 L255.50,411.98 L256.00,411.96 L256.50,411.94 L257.00,411.91 L257.50,411.89 L258.00,411.88 L258.50,411.86 L259.00,411.85 L259.50,411.83 L260.00,411.82 L260.50,411.82 L261.00,411.81 L261.50,411.81 L262.00,411.81 L262.50,411.81 L263.00,411.81 L263.50,411.82 L264.50,411.84 L265.50,411.87 L266.50,411.91 L267.50,411.95 L268.50,411.99 L269.50,412.04 L270.50,412.08 L271.50,412.12 L272.50,412.16 L273.50,412.19 L274.50,412.23 L275.50,412.27 L276.50,412.31 L277.50,412.34 L278.50,412.38 L279.50,412.43 L280.50,412.47 L281.50,412.51 L282.50,412.56 L283.50,412.61 L284.50,412.66 L285.50,412.72 L286.50,412.77 L287.50,412.84 L288.50,412.90 L289.50,412.98 L290.50,413.06 L291.50,413.14 L292.50,413.23 L293.50,413.33 L294.50,413.43 L295.50,413.53 L296.50,413.64 L297.50,413.75 L298.50,413.87 L299.50,413.99 L300.50,414.10 L301.50,414.23 L302.50,414.35 L303.50,414.47 L304.50,414.59 L305.50,414.72 L306.50,414.84 L307.50,414.96 L308.50,415.09 L309.50,415.21 L310.50,415.32 L311.50,415.44 L312.50,415.56 L313.50,415.67 L314.50,415.79 L315.50,415.91 L316.50,416.04 L317.50,416.16 L318.50,416.28 L319.50,416.41 L320.50,416.54 L321.50,416.66 L322.50,416.79 L323.50,416.92 L324.50,417.05 L325.50,417.17 L326.50,417.30 L327.50,417.42 L328.50,417.55 L329.50,417.67 L330.50,417.79 L331.50,417.90 L332.50,418.02 L333.50,418.13 L334.50,418.24 L335.50,418.35 L336.50,418.45 L337.50,418.55 L338.50,418.65 L339.50,418.75 L340.50,418.84 L341.50,418.94 L342.50,419.03 L343.50,419.13 L344.50,419.22 L345.50,419.31 L346.50,419.41 L347.50,419.50 L348.50,419.58 L349.50,419.67 L350.50,419.76 L351.50,419.84 L352.50,419.92 L353.50,420.00 L354.50,420.08 L355.50,420.16 L356.50,420.23 L357.50,420.30 L358.50,420.37 L359.50,420.44 L360.50,420.51 L361.50,420.57 L362.50,420.63 L363.50,420.68 L364.50,420.74 L365.50,420.79 L366.50,420.84 L367.50,420.89 L368.50,420.94 L369.50,420.99 L370.50,421.03 L371.50,421.08 L372.50,421.12 L373.50,421.17 L374.50,421.21 L375.50,421.25 L376.50,421.29 L377.50,421.34 L378.50,421.38 L379.50,421.42 L380.50,421.47 L381.50,421.51 L382.50,421.55 L383.50,421.58"/>
<path class="c" stroke="#8080ff" d="M53.50,446.87 L54.50,446.84 L55.50,446.79 L56.50,446.74 L57.50,446.69 L58.50,446.64 L59.50,446.59 L60.50,446.54 L61.50,446.49 L62.50,446.44 L63.50,446.39 L64.50,446.34 L65.50,446.28 L66.50,446.23 L67.50,446.17 L68.50,446.12 L69.50,446.06 L70.50,446.00 L71.50,445.94 L72.50,445.87 L73.50,445.80 L74.50,445.73 L75.50,445.66 L76.50,445.58 L77.50,445.49 L78.50,445.40 L79.50,445.31 L80.50,445.21 L81.50,445.11 L82.50,445.00 L83.50,444.89 L84.50,444.78 L85.50,444.67 L86.50,444.55 L87.50,444.43 L88.50,444.31 L89.50,444.19 L90.50,444.06 L91.50,443.94 L92.50,443.81 L93.50,443.69 L94.50,443.57 L95.50,443.44 L96.50,443.32 L97.50,443.20 L98.50,443.08 L99.50,442.96 L100.50,442.84 L101.50,442.72 L102.50,442.60 L103.50,442.48 L104.50,442.36 L105.50,442.24 L106.50,442.12 L107.50,441.99 L108.50,441.87 L109.50,441.75 L110.50,441.62 L111.50,441.50 L112.50,441.37 L113.50,441.25 L114.50,441.12 L115.50,441.00 L116.50,440.88 L117.50,440.76 L118.50,440.64 L119.50,440.52 L120.50,440.40 L121.50,440.29 L122.50,440.18 L123.50,440.06 L124.50,439.95 L125.50,439.84 L126.50,439.73 L127.50,439.62 L128.50,439.51 L129.50,439.39 L130.50,439.27 L131.50,439.16 L132.50,439.04 L133.50,438.92 L134.50,438.80 L135.50,438.69 L136.50,438.57 L137.50,438.46 L138.50,438.35 L139.50,438.25 L140.50,438.15 L141.50,438.05 L142.50,437.96 L143.50,437.88 L144.50,437.80 L145.50,437.73 L146.50,437.67 L147.50,437.61 L148.50,437.56 L149.50,437.52 L150.50,437.49 L151.50,437.46 L152.50,437.43 L153.50,437.40 L154.50,437.37 L155.50,437.35 L156.50,437.32 L157.50,437.30 L158.50,437.28 L159.50,437.26 L160.50,437.25 L161.50,437.23 L162.50,437.22 L163.50,437.21 L164.50,437.21 L165.50,437.20 L166.50,437.20 L167.50,437.21 L168.50,437.22 L169.50,437.24 L170.50,437.26 L171.50,437.28 L172.50,437.31 L173.50,437.34 L174.00,437.36 L174.50,437.37 L175.00,437.39 L175.50,437.41 L176.00,437.43 L176.50,437.45 L177.00,437.47 L177.50,437.49 L178.00,437.51 L178.50,437.53 L179.00,437.56 L179.50,437.58 L180.00,437.60 L180.50,437.63 L181.00,437.66 L181.50,437.69 L182.00,437.72 L182.50,437.75 L183.00,437.79 L183.50,437.83 L184.00,437.87 L184.50,437.92 L185.00,437.96 L185.50,438.01 L186.00,438.06 L186.50,438.11 L187.00,438.16 L187.50,438.22 L188.00,438.27 L188.50,438.33 L189.00,438.39 L189.50,438.45 L190.00,438.51 L190.50,438.57 L191.00,438.64 L191.50,438.71 L192.00,438.78 L192.50,438.86 L193.00,438.94 L193.50,439.03 L194.00,439.11 L194.50,439.20 L195.00,439.30 L195.50,439.39 L196.00,439.49 L196.50,439.59 L197.00,439.68 L197.50,439.79 L198.00,439.89 L198.50,439.99 L199.00,440.10 L199.50,440.20 L200.00,440.31 L200.50,440.42 L201.00,440.54 L201.50,440.66 L202.00,440.79 L202.50,440.92 L203.00,441.05 L203.50,441.18 L204.00,441.32 L204.50,441.45 L205.00,441.59 L205.50,441.72 L206.00,441.84 L206.50,441.97 L207.00,442.08 L207.50,442.19 L208.00,442.30 L208.50,442.40 L209.00,442.49 L209.50,442.57 L210.00,442.66 L210.50,442.74 L211.00,442.82 L211.50,442.90 L212.00,442.98 L212.50,443.05 L213.00,443.12 L213.50,443.19 L214.00,443.26 L214.50,443.32 L215.00,443.37 L215.50,443.42 L216.00,443.47 L216.50,443.51 L217.00,443.53 L217.50,443.56 L218.00,443.57 L218.50,443.57 L219.00,443.57 L219.50,443.56 L220.00,443.53 L220.50,443.51 L221.00,443.47 L221.50,443.42 L222.00,443.37 L222.50,443.32 L223.00,443.26 L223.50,443.19 L224.00,443.12 L224.50,443.05 L225.00,442.98 L225.50,442.90 L226.00,442.82 L226.50,442.74 L227.00,442.66 L227.50,442.57 L228.00,442.49 L228.50,442.40 L229.00,442.30 L229.50,442.19 L230.00,442.08 L230.50,441.97 L231.00,441.84 L231.50,441.72 L232.00,441.59 L232.50,441.45 L233.00,441.32 L233.50,441.18 L234.00,441.05 L234.50,440.92 L235.00,440.79 L235.50,440.66 L236.00,440.54 L236.50,440.42 L237.00,440.31 L237.50,440.20 L238.00,440.10 L238.50,439.99 L239.00,439.89 L239.50,439.79 L240.00,439.68 L240.50,439.59 L241.00,439.49 L241.50,439.39 L242.00,439.30 L242.50,439.20 L243.00,439.11 L243.50,439.03 L244.00,438.94 L244.50,438.86 L245.00,438.78 L245.50,438.71 L246.00,438.64 L246.50,438.57 L247.00,438.51 L247.50,438.45 L248.00,438.39 L248.50,438.33 L249.00,438.27 L249.50,438.22 L250.00,438.16 L250.50,438.11 L251.00,438.06 L251.50,438.01 L252.00,437.96 L252.50,437.92 L253.00,437.87 L253.50,437.83 L254.00,437.79 L254.50,437.75 L255.00,437.72 L255.50,437.69 L256.00,437.66 L256.50,437.63 L257.00,437.60 L257.50,437.58 L258.00,437.56 L258.50,437.53 L259.00,437.51 L259.50,437.49 L260.00,437.47 L260.50,437.45 L261.00,437.43 L261.50,437.41 L262.00,437.39 L262.50,437.37 L263.00,437.36 L263.50,437.34 L264.50,437.31 L265.50,437.28 L266.50,437.26 L267.50,437.24 L268.50,437.22 L269.50,437.21 L270.50,437.20 L271.50,437.20 L272.50,437.21 L273.50,437.21 L274.50,437.22 L275.50,437.23 L276.50,437.25 L277.50,437.26 L278.50,437.28 L279.50,437.30 L280.50,437.32 L281.50,437.35 L282.50,437.37 L283.50,437.40 L284.50,437.43 L285.50,437.46 L286.50,437.49 L287.50,437.52 L288.50,437.56 L289.50,437.61 L290.50,437.67 L291.50,437.73 L292.50,437.80 L293.50,437.88 L294.50,437.96 L295.50,438.05 L296.50,438.15 L297.50,438.25 L298.50,438.35 L299.50,438.46 L300.50,438.57 L301.50,438.69 L302.50,438.80 L303.50,438.92 L304.50,439.04 L305.50,439.16 L306.50,439.27 L307.50,439.39 L308.50,439.51 L309.50,439.62 L310.50,439.73 L311.50,439.84 L312.50,439.95 L313.50,440.06 L314.50,440.18 L315.50,440.29 L316.50,440.40 L317.50,440.52 L318.50,440.64 L319.50,440.76 L320.50,440.88 L321.50,441.00 L322.50,441.12 L323.50,441.25 L324.50,441.37 L325.50,441.50 L326.50,441.62 L327.50,441.75 L328.50,441.87 L329.50,441.99 L330.50,442.12 L331.50,442.24 L332.50,442.36 L333.50,442.48 L334.50,442.60 L335.50,442.72 L336.50,442.84 L337.50,442.96 L338.50,443.08 L339.50,443.20 L340.50,443.32 L341.50,443.44 L342.50,443.57 L343.50,443.69 L344.50,443.81 L345.50,443.94 L346.50,444.06 L347.50,444.19 L348.50,444.31 L349.50,444.43 L350.50,444.55 L351.50,444.67 L352.50,444.78 L353.50,444.89 L354.50,445.00 L355.50,445.11 L356.50,445.21 L357.50,445.31 L358.50,445.40 L359.50,445.49 L360.50,445.58 L361.50,445.66 L362.50,445.73 L363.50,445.80 L364.50,445.87 L365.50,445.94 L366.50,446.00 L367.50,446.06 L368.50,446.12 L369.50,446.17 L370.50,446.23 L371.50,446.28 L372.50,446.34 L373.50,446.39 L374.50,446.44 L375.50,446.49 L376.50,446.54 L377.50,446.59 L378.50,446.64 L379.50,446.69 L380.50,446.74 L381.50,446.79 L382.50,446.84 L383.50,446.87"/>
<path class="c" stroke="#0d8080" d="M53.50,472.17 L54.50,472.13 L55.50,472.08 L56.50,472.02 L57.50,471.97 L58.50,471.91 L59.50,471.85 L60.50,471.80 L61.50,471.74 L62.50,471.69 L63.50,471.63 L64.50,471.57 L65.50,471.52 L66.50,471.46 L67.50,471.40 L68.50,471.34 L69.50,471.28 L70.50,471.21 L71.50,471.15 L72.50,471.08 L73.50,471.01 L74.50,470.94 L75.50,470.86 L76.50,470.78 L77.50,470.71 L78.50,470.63 L79.50,470.54 L80.50,470.46 L81.50,470.37 L82.50,470.29 L83.50,470.20 L84.50,470.10 L85.50,470.01 L86.50,469.91 L87.50,469.82 L88.50,469.72 L89.50,469.61 L90.50,469.51 L91.50,469.40 L92.50,469.29 L93.50,469.18 L94.50,469.07 L95.50,468.95 L96.50,468.83 L97.50,468.71 L98.50,468.59 L99.50,468.46 L100.50,468.33 L101.50,468.19 L102.50,468.04 L103.50,467.88 L104.50,467.72 L105.50,467.55 L106.50,467.37 L107.50,467.18 L108.50,466.99 L109.50,466.80 L110.50,466.60 L111.50,466.41 L112.50,466.21 L113.50,466.00 L114.50,465.80 L115.50,465.60 L116.50,465.41 L117.50,465.21 L118.50,465.02 L119.50,464.83 L120.50,464.65 L121.50,464.47 L122.50,464.30 L123.50,464.14 L124.50,463.98 L125.50,463.82 L126.50,463.67 L127.50,463.51 L128.50,463.35 L129.50,463.18 L130.50,463.02 L131.50,462.86 L132.50,462.71 L133.50,462.57 L134.50,462.44 L135.50,462.32 L136.50,462.22 L137.50,462.13 L138.50,462.07 L139.50,462.02 L140.50,462.00 L141.50,461.98 L142.50,461.96 L143.50,461.95 L144.50,461.94 L145.50,461.92 L146.50,461.91 L147.50,461.90 L148.50,461.89 L149.50,461.88 L150.50,461.87 L151.50,461.86 L152.50,461.85 L153.50,461.85 L154.50,461.84 L155.50,461.83 L156.50,461.83 L157.50,461.82 L158.50,461.82 L159.50,461.81 L160.50,461.81 L161.50,461.81 L162.50,461.80 L163.50,461.80 L164.50,461.80 L165.50,461.80 L166.50,461.80 L167.50,461.81 L168.50,461.81 L169.50,461.83 L170.50,461.84 L171.50,461.86 L172.50,461.88 L173.50,461.91 L174.00,461.92 L174.50,461.94 L175.00,461.95 L175.50,461.97 L176.00,461.99 L176.50,462.00 L177.00,462.02 L177.50,462.04 L178.00,462.06 L178.50,462.08 L179.00,462.10 L179.50,462.13 L180.00,462.15 L180.50,462.17 L181.00,462.20 L181.50,462.22 L182.00,462.25 L182.50,462.28 L183.00,462.32 L183.50,462.35 L184.00,462.40 L184.50,462.45 L185.00,462.51 L185.50,462.58 L186.00,462.66 L186.50,462.74 L187.00,462.83 L187.50,462.92 L188.00,463.02 L188.50,463.12 L189.00,463.23 L189.50,463.34 L190.00,463.45 L190.50,463.56 L191.00,463.68 L191.50,463.79 L192.00,463.91 L192.50,464.04 L193.00,464.16 L193.50,464.30 L194.00,464.44 L194.50,464.59 L195.00,464.74 L195.50,464.89 L196.00,465.05 L196.50,465.21 L197.00,465.37 L197.50,465.53 L198.00,465.69 L198.50,465.84 L199.00,466.00 L199.50,466.15 L200.00,466.30 L200.50,466.45 L201.00,466.60 L201.50,466.75 L202.00,466.90 L202.50,467.05 L203.00,467.20 L203.50,467.35 L204.00,467.51 L204.50,467.65 L205.00,467.80 L205.50,467.94 L206.00,468.08 L206.50,468.21 L207.00,468.33 L207.50,468.44 L208.00,468.55 L208.50,468.65 L209.00,468.73 L209.50,468.81 L210.00,468.88 L210.50,468.94 L211.00,469.00 L211.50,469.06 L212.00,469.11 L212.50,469.16 L213.00,469.20 L213.50,469.25 L214.00,469.29 L214.50,469.33 L215.00,469.36 L215.50,469.39 L216.00,469.42 L216.50,469.44 L217.00,469.46 L217.50,469.47 L218.00,469.48 L218.50,469.48 L219.00,469.48 L219.50,469.47 L220.00,469.46 L220.50,469.44 L221.00,469.42 L221.50,469.39 L222.00,469.36 L222.50,469.33 L223.00,469.29 L223.50,469.25 L224.00,469.20 L224.50,469.16 L225.00,469.11 L225.50,469.06 L226.00,469.00 L226.50,468.94 L227.00,468.88 L227.50,468.81 L228.00,468.73 L228.50,468.65 L229.00,468.55 L229.50,468.44 L230.00,468.33 L230.50,468.21 L231.00,468.08 L231.50,467.94 L232.00,467.80 L232.50,467.65 L233.00,467.51 L233.50,467.35 L234.00,467.20 L234.50,467.05 L235.00,466.90 L235.50,466.75 L236.00,466.60 L236.50,466.45 L237.00,466.30 L237.50,466.15 L238.00,466.00 L238.50,465.84 L239.00,465.69 L239.50,465.53 L240.00,465.37 L240.50,465.21 L241.00,465.05 L241.50,464.89 L242.00,464.74 L242.50,464.59 L243.00,464.44 L243.50,464.30 L244.00,464.16 L244.50,464.04 L245.00,463.91 L245.50,463.79 L246.00,463.68 L246.50,463.56 L247.00,463.45 L247.50,463.34 L248.00,463.23 L248.50,463.12 L249.00,463.02 L249.50,462.92 L250.00,462.83 L250.50,462.74 L251.00,462.66 L251.50,462.58 L252.00,462.51 L252.50,462.45 L253.00,462.40 L253.50,462.35 L254.00,462.32 L254.50,462.28 L255.00,462.25 L255.50,462.22 L256.00,462.20 L256.50,462.17 L257.00,462.15 L257.50,462.13 L258.00,462.10 L258.50,462.08 L259.00,462.06 L259.50,462.04 L260.00,462.02 L260.50,462.00 L261.00,461.99 L261.50,461.97 L262.00,461.95 L262.50,461.94 L263.00,461.92 L263.50,461.91 L264.50,461.88 L265.50,461.86 L266.50,461.84 L267.50,461.83 L268.50,461.81 L269.50,461.81 L270.50,461.80 L271.50,461.80 L272.50,461.80 L273.50,461.80 L274.50,461.80 L275.50,461.81 L276.50,461.81 L277.50,461.81 L278.50,461.82 L279.50,461.82 L280.50,461.83 L281.50,461.83 L282.50,461.84 L283.50,461.85 L284.50,461.85 L285.50,461.86 L286.50,461.87 L287.50,461.88 L288.50,461.89 L289.50,461.90 L290.50,461.91 L291.50,461.92 L292.50,461.94 L293.50,461.95 L294.50,461.96 L295.50,461.98 L296.50,462.00 L297.50,462.02 L298.50,462.07 L299.50,462.13 L300.50,462.22 L301.50,462.32 L302.50,462.44 L303.50,462.57 L304.50,462.71 L305.50,462.86 L306.50,463.02 L307.50,463.18 L308.50,463.35 L309.50,463.51 L310.50,463.67 L311.50,463.82 L312.50,463.98 L313.50,464.14 L314.50,464.30 L315.50,464.47 L316.50,464.65 L317.50,464.83 L318.50,465.02 L319.50,465.21 L320.50,465.41 L321.50,465.60 L322.50,465.80 L323.50,466.00 L324.50,466.21 L325.50,466.41 L326.50,466.60 L327.50,466.80 L328.50,466.99 L329.50,467.18 L330.50,467.37 L331.50,467.55 L332.50,467.72 L333.50,467.88 L334.50,468.04 L335.50,468.19 L336.50,468.33 L337.50,468.46 L338.50,468.59 L339.50,468.71 L340.50,468.83 L341.50,468.95 L342.50,469.07 L343.50,469.18 L344.50,469.29 L345.50,469.40 L346.50,469.51 L347.50,469.61 L348.50,469.72 L349.50,469.82 L350.50,469.91 L351.50,470.01 L352.50,470.10 L353.50,470.20 L354.50,470.29 L355.50,470.37 L356.50,470.46 L357.50,470.54 L358.50,470.63 L359.50,470.71 L360.50,470.78 L361.50,470.86 L362.50,470.94 L363.50,471.01 L364.50,471.08 L365.50,471.15 L366.50,471.21 L367.50,471.28 L368.50,471.34 L369.50,471.40 L370.50,471.46 L371.50,471.52 L372.50,471.57 L373.50,471.63 L374.50,471.69 L375.50,471.74 L376.50,471.80 L377.50,471.85 L378.50,471.91 L379.50,471.97 L380.50,472.02 L381.50,472.08 L382.50,472.13 L383.50,472.17"/>
<path class="c" stroke="#00b319" d="M53.50,496.57 L54.50,496.53 L55.50,496.48 L56.50,496.43 L57.50,496.37 L58.50,496.32 L59.50,496.26 L60.50,496.21 L61.50,496.15 L62.50,496.10 L63.50,496.04 L64.50,495.99 L65.50,495.93 L66.50,495.87 L67.50,495.81 L68.50,495.75 L69.50,495.69 L70.50,495.62 L71.50,495.56 L72.50,495.49 L73.50,495.41 L74.50,495.34 L75.50,495.26 L76.50,495.17 L77.50,495.08 L78.50,494.99 L79.50,494.89 L80.50,494.79 L81.50,494.69 L82.50,494.58 L83.50,494.47 L84.50,494.36 L85.50,494.24 L86.50,494.12 L87.50,494.00 L88.50,493.87 L89.50,493.75 L90.50,493.62 L91.50,493.48 L92.50,493.35 L93.50,493.21 L94.50,493.08 L95.50,492.94 L96.50,492.80 L97.50,492.66 L98.50,492.51 L99.50,492.37 L100.50,492.22 L101.50,492.07 L102.50,491.92 L103.50,491.76 L104.50,491.59 L105.50,491.42 L106.50,491.25 L107.50,491.07 L108.50,490.89 L109.50,490.70 L110.50,490.52 L111.50,490.33 L112.50,490.14 L113.50,489.95 L114.50,489.76 L115.50,489.56 L116.50,489.37 L117.50,489.18 L118.50,488.99 L119.50,488.80 L120.50,488.61 L121.50,488.43 L122.50,488.25 L123.50,488.06 L124.50,487.89 L125.50,487.70 L126.50,487.51 L127.50,487.31 L128.50,487.10 L129.50,486.88 L130.50,486.66 L131.50,486.44 L132.50,486.23 L133.50,486.04 L134.50,485.86 L135.50,485.69 L136.50,485.56 L137.50,485.45 L138.50,485.37 L139.50,485.33 L140.50,485.31 L141.50,485.30 L142.50,485.30 L143.50,485.30 L144.50,485.30 L145.50,485.30 L146.50,485.30 L147.50,485.30 L148.50,485.30 L149.50,485.30 L150.50,485.31 L151.50,485.32 L152.50,485.34 L153.50,485.37 L154.50,485.40 L155.50,485.45 L156.50,485.49 L157.50,485.55 L158.50,485.60 L159.50,485.66 L160.50,485.72 L161.50,485.77 L162.50,485.83 L163.50,485.88 L164.50,485.93 L165.50,485.98 L166.50,486.02 L167.50,486.05 L168.50,486.08 L169.50,486.11 L170.50,486.14 L171.50,486.17 L172.50,486.20 L173.50,486.22 L174.00,486.24 L174.50,486.26 L175.00,486.27 L175.50,486.29 L176.00,486.31 L176.50,486.33 L177.00,486.35 L177.50,486.37 L178.00,486.39 L178.50,486.42 L179.00,486.45 L179.50,486.48 L180.00,486.52 L180.50,486.56 L181.00,486.61 L181.50,486.66 L182.00,486.73 L182.50,486.80 L183.00,486.88 L183.50,486.97 L184.00,487.06 L184.50,487.16 L185.00,487.26 L185.50,487.37 L186.00,487.49 L186.50,487.61 L187.00,487.73 L187.50,487.85 L188.00,487.98 L188.50,488.11 L189.00,488.24 L189.50,488.38 L190.00,488.52 L190.50,488.67 L191.00,488.83 L191.50,488.99 L192.00,489.17 L192.50,489.35 L193.00,489.54 L193.50,489.73 L194.00,489.93 L194.50,490.14 L195.00,490.34 L195.50,490.54 L196.00,490.74 L196.50,490.93 L197.00,491.12 L197.50,491.31 L198.00,491.49 L198.50,491.68 L199.00,491.86 L199.50,492.04 L200.00,492.22 L200.50,492.40 L201.00,492.58 L201.50,492.77 L202.00,492.94 L202.50,493.12 L203.00,493.29 L203.50,493.45 L204.00,493.60 L204.50,493.75 L205.00,493.88 L205.50,494.00 L206.00,494.11 L206.50,494.21 L207.00,494.29 L207.50,494.36 L208.00,494.42 L208.50,494.47 L209.00,494.52 L209.50,494.57 L210.00,494.61 L210.50,494.65 L211.00,494.69 L211.50,494.72 L212.00,494.76 L212.50,494.79 L213.00,494.82 L213.50,494.85 L214.00,494.87 L214.50,494.90 L215.00,494.92 L215.50,494.94 L216.00,494.95 L216.50,494.97 L217.00,494.98 L217.50,494.98 L218.00,494.99 L218.50,494.99 L219.00,494.99 L219.50,494.98 L220.00,494.98 L220.50,494.97 L221.00,494.95 L221.50,494.94 L222.00,494.92 L222.50,494.90 L223.00,494.87 L223.50,494.85 L224.00,494.82 L224.50,494.79 L225.00,494.76 L225.50,494.72 L226.00,494.69 L226.50,494.65 L227.00,494.61 L227.50,494.57 L228.00,494.52 L228.50,494.47 L229.00,494.42 L229.50,494.36 L230.00,494.29 L230.50,494.21 L231.00,494.11 L231.50,494.00 L232.00,493.88 L232.50,493.75 L233.00,493.60 L233.50,493.45 L234.00,493.29 L234.50,493.12 L235.00,492.94 L235.50,492.77 L236.00,492.58 L236.50,492.40 L237.00,492.22 L237.50,492.04 L238.00,491.86 L238.50,491.68 L239.00,491.49 L239.50,491.31 L240.00,491.12 L240.50,490.93 L241.00,490.74 L241.50,490.54 L242.00,490.34 L242.50,490.14 L243.00,489.93 L243.50,489.73 L244.00,489.54 L244.50,489.35 L245.00,489.17 L245.50,488.99 L246.00,488.83 L246.50,488.67 L247.00,488.52 L247.50,488.38 L248.00,488.24 L248.50,488.11 L249.00,487.98 L249.50,487.85 L250.00,487.73 L250.50,487.61 L251.00,487.49 L251.50,487.37 L252.00,487.26 L252.50,487.16 L253.00,487.06 L253.50,486.97 L254.00,486.88 L254.50,486.80 L255.00,486.73 L255.50,486.66 L256.00,486.61 L256.50,486.56 L257.00,486.52 L257.50,486.48 L258.00,486.45 L258.50,486.42 L259.00,486.39 L259.50,486.37 L260.00,486.35 L260.50,486.33 L261.00,486.31 L261.50,486.29 L262.00,486.27 L262.50,486.26 L263.00,486.24 L263.50,486.22 L264.50,486.20 L265.50,486.17 L266.50,486.14 L267.50,486.11 L268.50,486.08 L269.50,486.05 L270.50,486.02 L271.50,485.98 L272.50,485.93 L273.50,485.88 L274.50,485.83 L275.50,485.77 L276.50,485.72 L277.50,485.66 L278.50,485.60 L279.50,485.55 L280.50,485.49 L281.50,485.45 L282.50,485.40 L283.50,485.37 L284.50,485.34 L285.50,485.32 L286.50,485.31 L287.50,485.30 L288.50,485.30 L289.50,485.30 L290.50,485.30 L291.50,485.30 L292.50,485.30 L293.50,485.30 L294.50,485.30 L295.50,485.30 L296.50,485.31 L297.50,485.33 L298.50,485.37 L299.50,485.45 L300.50,485.56 L301.50,485.69 L302.50,485.86 L303.50,486.04 L304.50,486.23 L305.50,486.44 L306.50,486.66 L307.50,486.88 L308.50,487.10 L309.50,487.31 L310.50,487.51 L311.50,487.70 L312.50,487.89 L313.50,488.06 L314.50,488.25 L315.50,488.43 L316.50,488.61 L317.50,488.80 L318.50,488.99 L319.50,489.18 L320.50,489.37 L321.50,489.56 L322.50,489.76 L323.50,489.95 L324.50,490.14 L325.50,490.33 L326.50,490.52 L327.50,490.70 L328.50,490.89 L329.50,491.07 L330.50,491.25 L331.50,491.42 L332.50,491.59 L333.50,491.76 L334.50,491.92 L335.50,492.07 L336.50,492.22 L337.50,492.37 L338.50,492.51 L339.50,492.66 L340.50,492.80 L341.50,492.94 L342.50,493.08 L343.50,493.21 L344.50,493.35 L345.50,493.48 L346.50,493.62 L347.50,493.75 L348.50,493.87 L349.50,494.00 L350.50,494.12 L351.50,494.24 L352.50,494.36 L353.50,494.47 L354.50,494.58 L355.50,494.69 L356.50,494.79 L357.50,494.89 L358.50,494.99 L359.50,495.08 L360.50,495.17 L361.50,495.26 L362.50,495.34 L363.50,495.41 L364.50,495.49 L365.50,495.56 L366.50,495.62 L367.50,495.69 L368.50,495.75 L369.50,495.81 L370.50,495.87 L371.50,495.93 L372.50,495.99 L373.50,496.04 L374.50,496.10 L375.50,496.15 L376.50,496.21 L377.50,496.26 L378.50,496.32 L379.50,496.37 L380.50,496.43 L381.50,496.48 L382.50,496.53 L383.50,496.57"/>
<path class="c" stroke="#aaaa11" d="M53.50,521.98 L54.50,521.94 L55.50,521.90 L56.50,521.85 L57.50,521.81 L58.50,521.76 L59.50,521.72 L60.50,521.67 L61.50,521.63 L62.50,521.58 L63.50,521.54 L64.50,521.49 L65.50,521.45 L66.50,521.40 L67.50,521.35 L68.50,521.30 L69.50,521.24 L70.50,521.19 L71.50,521.13 L72.50,521.07 L73.50,521.00 L74.50,520.93 L75.50,520.86 L76.50,520.78 L77.50,520.70 L78.50,520.61 L79.50,520.52 L80.50,520.42 L81.50,520.32 L82.50,520.21 L83.50,520.10 L84.50,519.99 L85.50,519.87 L86.50,519.75 L87.50,519.62 L88.50,519.49 L89.50,519.36 L90.50,519.22 L91.50,519.08 L92.50,518.94 L93.50,518.79 L94.50,518.65 L95.50,518.50 L96.50,518.34 L97.50,518.19 L98.50,518.03 L99.50,517.88 L100.50,517.71 L101.50,517.54 L102.50,517.37 L103.50,517.18 L104.50,516.98 L105.50,516.78 L106.50,516.57 L107.50,516.36 L108.50,516.14 L109.50,515.91 L110.50,515.68 L111.50,515.45 L112.50,515.21 L113.50,514.97 L114.50,514.73 L115.50,514.49 L116.50,514.25 L117.50,514.01 L118.50,513.78 L119.50,513.54 L120.50,513.31 L121.50,513.08 L122.50,512.85 L123.50,512.63 L124.50,512.41 L125.50,512.18 L126.50,511.95 L127.50,511.70 L128.50,511.44 L129.50,511.18 L130.50,510.91 L131.50,510.64 L132.50,510.38 L133.50,510.14 L134.50,509.91 L135.50,509.70 L136.50,509.51 L137.50,509.36 L138.50,509.24 L139.50,509.17 L140.50,509.14 L141.50,509.15 L142.50,509.22 L143.50,509.32 L144.50,509.44 L145.50,509.58 L146.50,509.73 L147.50,509.86 L148.50,509.97 L149.50,510.05 L150.50,510.11 L151.50,510.14 L152.50,510.17 L153.50,510.20 L154.50,510.22 L155.50,510.24 L156.50,510.26 L157.50,510.27 L158.50,510.29 L159.50,510.30 L160.50,510.32 L161.50,510.33 L162.50,510.34 L163.50,510.36 L164.50,510.38 L165.50,510.39 L166.50,510.41 L167.50,510.42 L168.50,510.44 L169.50,510.45 L170.50,510.46 L171.50,510.48 L172.50,510.49 L173.50,510.50 L174.00,510.50 L174.50,510.51 L175.00,510.52 L175.50,510.53 L176.00,510.53 L176.50,510.54 L177.00,510.55 L177.50,510.56 L178.00,510.57 L178.50,510.58 L179.00,510.59 L179.50,510.60 L180.00,510.62 L180.50,510.63 L181.00,510.65 L181.50,510.67 L182.00,510.70 L182.50,510.73 L183.00,510.78 L183.50,510.85 L184.00,510.94 L184.50,511.04 L185.00,511.17 L185.50,511.32 L186.00,511.48 L186.50,511.66 L187.00,511.84 L187.50,512.04 L188.00,512.25 L188.50,512.46 L189.00,512.68 L189.50,512.90 L190.00,513.13 L190.50,513.38 L191.00,513.63 L191.50,513.90 L192.00,514.19 L192.50,514.48 L193.00,514.79 L193.50,515.09 L194.00,515.40 L194.50,515.71 L195.00,516.01 L195.50,516.30 L196.00,516.59 L196.50,516.88 L197.00,517.17 L197.50,517.45 L198.00,517.74 L198.50,518.02 L199.00,518.29 L199.50,518.55 L200.00,518.79 L200.50,519.01 L201.00,519.21 L201.50,519.37 L202.00,519.51 L202.50,519.61 L203.00,519.70 L203.50,519.77 L204.00,519.83 L204.50,519.87 L205.00,519.92 L205.50,519.96 L206.00,520.00 L206.50,520.04 L207.00,520.08 L207.50,520.12 L208.00,520.15 L208.50,520.18 L209.00,520.21 L209.50,520.24 L210.00,520.27 L210.50,520.30 L211.00,520.32 L211.50,520.34 L212.00,520.36 L212.50,520.38 L213.00,520.40 L213.50,520.42 L214.00,520.43 L214.50,520.45 L215.00,520.46 L215.50,520.47 L216.00,520.48 L216.50,520.48 L217.00,520.49 L217.50,520.49 L218.00,520.49 L218.50,520.50 L219.00,520.49 L219.50,520.49 L220.00,520.49 L220.50,520.48 L221.00,520.48 L221.50,520.47 L222.00,520.46 L222.50,520.45 L223.00,520.43 L223.50,520.42 L224.00,520.40 L224.50,520.38 L225.00,520.36 L225.50,520.34 L226.00,520.32 L226.50,520.30 L227.00,520.27 L227.50,520.24 L228.00,520.21 L228.50,520.18 L229.00,520.15 L229.50,520.12 L230.00,520.08 L230.50,520.04 L231.00,520.00 L231.50,519.96 L232.00,519.92 L232.50,519.87 L233.00,519.83 L233.50,519.77 L234.00,519.70 L234.50,519.61 L235.00,519.51 L235.50,519.37 L236.00,519.21 L236.50,519.01 L237.00,518.79 L237.50,518.55 L238.00,518.29 L238.50,518.02 L239.00,517.74 L239.50,517.45 L240.00,517.17 L240.50,516.88 L241.00,516.59 L241.50,516.30 L242.00,516.01 L242.50,515.71 L243.00,515.40 L243.50,515.09 L244.00,514.79 L244.50,514.48 L245.00,514.19 L245.50,513.90 L246.00,513.63 L246.50,513.38 L247.00,513.13 L247.50,512.90 L248.00,512.68 L248.50,512.46 L249.00,512.25 L249.50,512.04 L250.00,511.84 L250.50,511.66 L251.00,511.48 L251.50,511.32 L252.00,511.17 L252.50,511.04 L253.00,510.94 L253.50,510.85 L254.00,510.78 L254.50,510.73 L255.00,510.70 L255.50,510.67 L256.00,510.65 L256.50,510.63 L257.00,510.62 L257.50,510.60 L258.00,510.59 L258.50,510.58 L259.00,510.57 L259.50,510.56 L260.00,510.55 L260.50,510.54 L261.00,510.53 L261.50,510.53 L262.00,510.52 L262.50,510.51 L263.00,510.50 L263.50,510.50 L264.50,510.49 L265.50,510.48 L266.50,510.46 L267.50,510.45 L268.50,510.44 L269.50,510.42 L270.50,510.41 L271.50,510.39 L272.50,510.38 L273.50,510.36 L274.50,510.34 L275.50,510.33 L276.50,510.32 L277.50,510.30 L278.50,510.29 L279.50,510.27 L280.50,510.26 L281.50,510.24 L282.50,510.22 L283.50,510.20 L284.50,510.17 L285.50,510.14 L286.50,510.11 L287.50,510.05 L288.50,509.97 L289.50,509.86 L290.50,509.73 L291.50,509.58 L292.50,509.44 L293.50,509.32 L294.50,509.22 L295.50,509.15 L296.50,509.14 L297.50,509.17 L298.50,509.24 L299.50,509.36 L300.50,509.51 L301.50,509.70 L302.50,509.91 L303.50,510.14 L304.50,510.38 L305.50,510.64 L306.50,510.91 L307.50,511.18 L308.50,511.44 L309.50,511.70 L310.50,511.95 L311.50,512.18 L312.50,512.41 L313.50,512.63 L314.50,512.85 L315.50,513.08 L316.50,513.31 L317.50,513.54 L318.50,513.78 L319.50,514.01 L320.50,514.25 L321.50,514.49 L322.50,514.73 L323.50,514.97 L324.50,515.21 L325.50,515.45 L326.50,515.68 L327.50,515.91 L328.50,516.14 L329.50,516.36 L330.50,516.57 L331.50,516.78 L332.50,516.98 L333.50,517.18 L334.50,517.37 L335.50,517.54 L336.50,517.71 L337.50,517.88 L338.50,518.03 L339.50,518.19 L340.50,518.34 L341.50,518.50 L342.50,518.65 L343.50,518.79 L344.50,518.94 L345.50,519.08 L346.50,519.22 L347.50,519.36 L348.50,519.49 L349.50,519.62 L350.50,519.75 L351.50,519.87 L352.50,519.99 L353.50,520.10 L354.50,520.21 L355.50,520.32 L356.50,520.42 L357.50,520.52 L358.50,520.61 L359.50,520.70 L360.50,520.78 L361.50,520.86 L362.50,520.93 L363.50,521.00 L364.50,521.07 L365.50,521.13 L366.50,521.19 L367.50,521.24 L368.50,521.30 L369.50,521.35 L370.50,521.40 L371.50,521.45 L372.50,521.49 L373.50,521.54 L374.50,521.58 L375.50,521.63 L376.50,521.67 L377.50,521.72 L378.50,521.76 L379.50,521.81 L380.50,521.85 L381.50,521.90 L382.50,521.94 L383.50,521.98"/>
<path class="c" stroke="#ff8000" d="M53.50,547.88 L54.50,547.84 L55.50,547.79 L56.50,547.74 L57.50,547.69 L58.50,547.64 L59.50,547.59 L60.50,547.54 L61.50,547.49 L62.50,547.43 L63.50,547.38 L64.50,547.33 L65.50,547.28 L66.50,547.23 L67.50,547.17 L68.50,547.12 L69.50,547.06 L70.50,547.00 L71.50,546.94 L72.50,546.87 L73.50,546.80 L74.50,546.73 L75.50,546.66 L76.50,546.58 L77.50,546.50 L78.50,546.42 L79.50,546.33 L80.50,546.24 L81.50,546.15 L82.50,546.05 L83.50,545.95 L84.50,545.84 L85.50,545.73 L86.50,545.62 L87.50,545.50 L88.50,545.38 L89.50,545.26 L90.50,545.13 L91.50,545.00 L92.50,544.86 L93.50,544.72 L94.50,544.56 L95.50,544.41 L96.50,544.24 L97.50,544.08 L98.50,543.90 L99.50,543.73 L100.50,543.54 L101.50,543.36 L102.50,543.16 L103.50,542.97 L104.50,542.77 L105.50,542.57 L106.50,542.36 L107.50,542.16 L108.50,541.94 L109.50,541.72 L110.50,541.50 L111.50,541.27 L112.50,541.03 L113.50,540.78 L114.50,540.53 L115.50,540.28 L116.50,540.01 L117.50,539.74 L118.50,539.47 L119.50,539.19 L120.50,538.90 L121.50,538.61 L122.50,538.31 L123.50,538.01 L124.50,537.69 L125.50,537.36 L126.50,537.01 L127.50,536.64 L128.50,536.25 L129.50,535.85 L130.50,535.45 L131.50,535.05 L132.50,534.66 L133.50,534.28 L134.50,533.91 L135.50,533.56 L136.50,533.19 L137.50,532.82 L138.50,532.46 L139.50,532.15 L140.50,531.94 L141.50,531.88 L142.50,531.99 L143.50,532.23 L144.50,532.54 L145.50,532.86 L146.50,533.19 L147.50,533.50 L148.50,533.77 L149.50,533.96 L150.50,534.10 L151.50,534.23 L152.50,534.34 L153.50,534.44 L154.50,534.52 L155.50,534.60 L156.50,534.67 L157.50,534.72 L158.50,534.78 L159.50,534.82 L160.50,534.86 L161.50,534.90 L162.50,534.94 L163.50,534.97 L164.50,535.01 L165.50,535.03 L166.50,535.06 L167.50,535.08 L168.50,535.09 L169.50,535.09 L170.50,535.09 L171.50,535.06 L172.50,535.01 L173.50,534.95 L174.00,534.92 L174.50,534.89 L175.00,534.85 L175.50,534.82 L176.00,534.79 L176.50,534.76 L177.00,534.74 L177.50,534.72 L178.00,534.70 L178.50,534.69 L179.00,534.68 L179.50,534.67 L180.00,534.66 L180.50,534.65 L181.00,534.64 L181.50,534.63 L182.00,534.62 L182.50,534.62 L183.00,534.61 L183.50,534.61 L184.00,534.61 L184.50,534.61 L185.00,534.62 L185.50,534.65 L186.00,534.69 L186.50,534.76 L187.00,534.85 L187.50,534.95 L188.00,535.08 L188.50,535.23 L189.00,535.39 L189.50,535.57 L190.00,535.75 L190.50,535.96 L191.00,536.17 L191.50,536.42 L192.00,536.69 L192.50,537.01 L193.00,537.39 L193.50,537.80 L194.00,538.26 L194.50,538.73 L195.00,539.22 L195.50,539.73 L196.00,540.25 L196.50,540.78 L197.00,541.30 L197.50,541.80 L198.00,542.27 L198.50,542.70 L199.00,543.10 L199.50,543.47 L200.00,543.81 L200.50,544.12 L201.00,544.40 L201.50,544.66 L202.00,544.88 L202.50,545.09 L203.00,545.27 L203.50,545.43 L204.00,545.58 L204.50,545.71 L205.00,545.82 L205.50,545.92 L206.00,546.01 L206.50,546.09 L207.00,546.17 L207.50,546.24 L208.00,546.31 L208.50,546.37 L209.00,546.42 L209.50,546.47 L210.00,546.52 L210.50,546.56 L211.00,546.60 L211.50,546.63 L212.00,546.66 L212.50,546.69 L213.00,546.72 L213.50,546.74 L214.00,546.77 L214.50,546.79 L215.00,546.82 L215.50,546.84 L216.00,546.85 L216.50,546.87 L217.00,546.88 L217.50,546.89 L218.00,546.89 L218.50,546.89 L219.00,546.89 L219.50,546.89 L220.00,546.88 L220.50,546.87 L221.00,546.85 L221.50,546.84 L222.00,546.82 L222.50,546.79 L223.00,546.77 L223.50,546.74 L224.00,546.72 L224.50,546.69 L225.00,546.66 L225.50,546.63 L226.00,546.60 L226.50,546.56 L227.00,546.52 L227.50,546.47 L228.00,546.42 L228.50,546.37 L229.00,546.31 L229.50,546.24 L230.00,546.17 L230.50,546.09 L231.00,546.01 L231.50,545.92 L232.00,545.82 L232.50,545.71 L233.00,545.58 L233.50,545.43 L234.00,545.27 L234.50,545.09 L235.00,544.88 L235.50,544.66 L236.00,544.40 L236.50,544.12 L237.00,543.81 L237.50,543.47 L238.00,543.10 L238.50,542.70 L239.00,542.27 L239.50,541.80 L240.00,541.30 L240.50,540.78 L241.00,540.25 L241.50,539.73 L242.00,539.22 L242.50,538.73 L243.00,538.26 L243.50,537.80 L244.00,537.39 L244.50,537.01 L245.00,536.69 L245.50,536.42 L246.00,536.17 L246.50,535.96 L247.00,535.75 L247.50,535.57 L248.00,535.39 L248.50,535.23 L249.00,535.08 L249.50,534.95 L250.00,534.85 L250.50,534.76 L251.00,534.69 L251.50,534.65 L252.00,534.62 L252.50,534.61 L253.00,534.61 L253.50,534.61 L254.00,534.61 L254.50,534.62 L255.00,534.62 L255.50,534.63 L256.00,534.64 L256.50,534.65 L257.00,534.66 L257.50,534.67 L258.00,534.68 L258.50,534.69 L259.00,534.70 L259.50,534.72 L260.00,534.74 L260.50,534.76 L261.00,534.79 L261.50,534.82 L262.00,534.85 L262.50,534.89 L263.00,534.92 L263.50,534.95 L264.50,535.01 L265.50,535.06 L266.50,535.09 L267.50,535.09 L268.50,535.09 L269.50,535.08 L270.50,535.06 L271.50,535.03 L272.50,535.01 L273.50,534.97 L274.50,534.94 L275.50,534.90 L276.50,534.86 L277.50,534.82 L278.50,534.78 L279.50,534.72 L280.50,534.67 L281.50,534.60 L282.50,534.52 L283.50,534.44 L284.50,534.34 L285.50,534.23 L286.50,534.10 L287.50,533.96 L288.50,533.77 L289.50,533.50 L290.50,533.19 L291.50,532.86 L292.50,532.54 L293.50,532.23 L294.50,531.99 L295.50,531.88 L296.50,531.94 L297.50,532.15 L298.50,532.46 L299.50,532.82 L300.50,533.19 L301.50,533.56 L302.50,533.91 L303.50,534.28 L304.50,534.66 L305.50,535.05 L306.50,535.45 L307.50,535.85 L308.50,536.25 L309.50,536.64 L310.50,537.01 L311.50,537.36 L312.50,537.69 L313.50,538.01 L314.50,538.31 L315.50,538.61 L316.50,538.90 L317.50,539.19 L318.50,539.47 L319.50,539.74 L320.50,540.01 L321.50,540.28 L322.50,540.53 L323.50,540.78 L324.50,541.03 L325.50,541.27 L326.50,541.50 L327.50,541.72 L328.50,541.94 L329.50,542.16 L330.50,542.36 L331.50,542.57 L332.50,542.77 L333.50,542.97 L334.50,543.16 L335.50,543.36 L336.50,543.54 L337.50,543.73 L338.50,543.90 L339.50,544.08 L340.50,544.24 L341.50,544.41 L342.50,544.56 L343.50,544.72 L344.50,544.86 L345.50,545.00 L346.50,545.13 L347.50,545.26 L348.50,545.38 L349.50,545.50 L350.50,545.62 L351.50,545.73 L352.50,545.84 L353.50,545.95 L354.50,546.05 L355.50,546.15 L356.50,546.24 L357.50,546.33 L358.50,546.42 L359.50,546.50 L360.50,546.58 L361.50,546.66 L362.50,546.73 L363.50,546.80 L364.50,546.87 L365.50,546.94 L366.50,547.00 L367.50,547.06 L368.50,547.12 L369.50,547.17 L370.50,547.23 L371.50,547.28 L372.50,547.33 L373.50,547.38 L374.50,547.43 L375.50,547.49 L376.50,547.54 L377.50,547.59 L378.50,547.64 L379.50,547.69 L380.50,547.74 L381.50,547.79 L382.50,547.84 L383.50,547.88"/>
<path class="c" stroke="#ff00ff" d="M53.50,573.60 L54.50,573.56 L55.50,573.53 L56.50,573.49 L57.50,573.46 L58.50,573.43 L59.50,573.40 L60.50,573.37 L61.50,573.33 L62.50,573.30 L63.50,573.27 L64.50,573.24 L65.50,573.20 L66.50,573.17 L67.50,573.13 L68.50,573.10 L69.50,573.06 L70.50,573.02 L71.50,572.97 L72.50,572.93 L73.50,572.88 L74.50,572.83 L75.50,572.77 L76.50,572.71 L77.50,572.65 L78.50,572.58 L79.50,572.51 L80.50,572.44 L81.50,572.35 L82.50,572.27 L83.50,572.18 L84.50,572.09 L85.50,571.99 L86.50,571.89 L87.50,571.79 L88.50,571.68 L89.50,571.57 L90.50,571.46 L91.50,571.34 L92.50,571.22 L93.50,571.09 L94.50,570.96 L95.50,570.83 L96.50,570.70 L97.50,570.56 L98.50,570.42 L99.50,570.27 L100.50,570.12 L101.50,569.96 L102.50,569.79 L103.50,569.60 L104.50,569.40 L105.50,569.19 L106.50,568.97 L107.50,568.74 L108.50,568.51 L109.50,568.26 L110.50,568.01 L111.50,567.75 L112.50,567.49 L113.50,567.23 L114.50,566.96 L115.50,566.69 L116.50,566.42 L117.50,566.15 L118.50,565.88 L119.50,565.61 L120.50,565.34 L121.50,565.06 L122.50,564.77 L123.50,564.48 L124.50,564.18 L125.50,563.87 L126.50,563.56 L127.50,563.23 L128.50,562.89 L129.50,562.54 L130.50,562.17 L131.50,561.79 L132.50,561.39 L133.50,560.97 L134.50,560.54 L135.50,560.10 L136.50,559.65 L137.50,559.19 L138.50,558.72 L139.25,558.36 L139.50,558.24 L139.75,558.12 L140.00,558.00 L140.25,557.87 L140.50,557.75 L140.75,557.63 L141.00,557.50 L141.25,557.37 L141.50,557.24 L141.75,557.11 L142.00,556.97 L142.25,556.83 L142.50,556.70 L142.75,556.56 L143.00,556.42 L143.25,556.28 L143.50,556.14 L143.75,556.00 L144.00,555.86 L144.25,555.72 L144.50,555.58 L144.75,555.45 L145.00,555.31 L145.25,555.24 L145.50,555.42 L145.75,555.61 L146.00,555.80 L146.25,556.00 L146.50,556.19 L146.75,556.38 L147.00,556.57 L147.25,556.74 L147.50,556.91 L147.75,557.06 L148.00,557.20 L148.25,557.33 L148.50,557.45 L148.75,557.57 L149.00,557.69 L149.25,557.80 L149.50,557.91 L149.75,558.01 L150.00,558.10 L150.25,558.19 L150.50,558.27 L150.75,558.34 L151.00,558.40 L151.25,558.45 L151.50,558.51 L151.75,558.55 L152.00,558.60 L152.25,558.65 L152.50,558.69 L152.75,558.73 L153.00,558.76 L153.25,558.80 L153.50,558.83 L153.75,558.86 L154.00,558.89 L154.25,558.92 L154.50,558.95 L154.75,558.97 L155.50,559.05 L156.50,559.14 L157.50,559.23 L158.50,559.32 L159.50,559.40 L160.50,559.48 L161.50,559.55 L162.50,559.60 L163.50,559.65 L164.50,559.68 L165.50,559.69 L166.50,559.69 L167.50,559.68 L168.50,559.64 L169.50,559.60 L170.50,559.54 L171.50,559.47 L172.50,559.39 L173.50,559.31 L174.00,559.26 L174.50,559.22 L175.00,559.17 L175.50,559.12 L176.00,559.08 L176.50,559.03 L177.00,558.98 L177.50,558.93 L178.00,558.88 L178.50,558.84 L179.00,558.79 L179.50,558.74 L180.00,558.70 L180.50,558.65 L181.00,558.59 L181.50,558.53 L182.00,558.47 L182.50,558.40 L183.00,558.33 L183.50,558.26 L184.00,558.19 L184.50,558.12 L185.00,558.06 L185.50,558.00 L186.00,557.94 L186.50,557.90 L187.00,557.86 L187.50,557.83 L188.00,557.82 L188.50,557.83 L189.00,557.87 L189.50,557.95 L190.00,558.06 L190.50,558.19 L191.00,558.35 L191.50,558.53 L192.00,558.73 L192.50,558.96 L193.00,559.23 L193.50,559.54 L194.00,559.89 L194.50,560.29 L195.00,560.74 L195.50,561.25 L196.00,561.82 L196.50,562.46 L197.00,563.15 L197.50,563.91 L198.00,564.76 L198.50,565.69 L199.00,566.70 L199.50,567.70 L200.00,568.58 L200.50,569.29 L201.00,569.85 L201.50,570.29 L202.00,570.65 L202.50,570.94 L203.00,571.17 L203.50,571.35 L204.00,571.48 L204.50,571.59 L205.00,571.67 L205.50,571.74 L206.00,571.80 L206.50,571.86 L207.00,571.91 L207.50,571.96 L208.00,572.00 L208.50,572.04 L209.00,572.08 L209.50,572.13 L210.00,572.17 L210.50,572.21 L211.00,572.25 L211.50,572.29 L212.00,572.32 L212.50,572.36 L213.00,572.39 L213.50,572.42 L214.00,572.45 L214.50,572.48 L215.00,572.51 L215.50,572.53 L216.00,572.55 L216.50,572.57 L217.00,572.58 L217.50,572.59 L218.00,572.59 L218.50,572.60 L219.00,572.59 L219.50,572.59 L220.00,572.58 L220.50,572.57 L221.00,572.55 L221.50,572.53 L222.00,572.51 L222.50,572.48 L223.00,572.45 L223.50,572.42 L224.00,572.39 L224.50,572.36 L225.00,572.32 L225.50,572.29 L226.00,572.25 L226.50,572.21 L227.00,572.17 L227.50,572.13 L228.00,572.08 L228.50,572.04 L229.00,572.00 L229.50,571.96 L230.00,571.91 L230.50,571.86 L231.00,571.80 L231.50,571.74 L232.00,571.67 L232.50,571.59 L233.00,571.48 L233.50,571.35 L234.00,571.17 L234.50,570.94 L235.00,570.65 L235.50,570.29 L236.00,569.85 L236.50,569.29 L237.00,568.58 L237.50,567.70 L238.00,566.70 L238.50,565.69 L239.00,564.76 L239.50,563.91 L240.00,563.15 L240.50,562.46 L241.00,561.82 L241.50,561.25 L242.00,560.74 L242.50,560.29 L243.00,559.89 L243.50,559.54 L244.00,559.23 L244.50,558.96 L245.00,558.73 L245.50,558.53 L246.00,558.35 L246.50,558.19 L247.00,558.06 L247.50,557.95 L248.00,557.87 L248.50,557.83 L249.00,557.82 L249.50,557.83 L250.00,557.86 L250.50,557.90 L251.00,557.94 L251.50,558.00 L252.00,558.06 L252.50,558.12 L253.00,558.19 L253.50,558.26 L254.00,558.33 L254.50,558.40 L255.00,558.47 L255.50,558.53 L256.00,558.59 L256.50,558.65 L257.00,558.70 L257.50,558.74 L258.00,558.79 L258.50,558.84 L259.00,558.88 L259.50,558.93 L260.00,558.98 L260.50,559.03 L261.00,559.08 L261.50,559.12 L262.00,559.17 L262.50,559.22 L263.00,559.26 L263.50,559.31 L264.50,559.39 L265.50,559.47 L266.50,559.54 L267.50,559.60 L268.50,559.64 L269.50,559.68 L270.50,559.69 L271.50,559.69 L272.50,559.68 L273.50,559.65 L274.50,559.60 L275.50,559.55 L276.50,559.48 L277.50,559.40 L278.50,559.32 L279.50,559.23 L280.50,559.14 L281.50,559.05 L282.25,558.97 L282.50,558.95 L282.75,558.92 L283.00,558.89 L283.25,558.86 L283.50,558.83 L283.75,558.80 L284.00,558.76 L284.25,558.73 L284.50,558.69 L284.75,558.65 L285.00,558.60 L285.25,558.55 L285.50,558.51 L285.75,558.45 L286.00,558.40 L286.25,558.34 L286.50,558.27 L286.75,558.19 L287.00,558.10 L287.25,558.01 L287.50,557.91 L287.75,557.80 L288.00,557.69 L288.25,557.57 L288.50,557.45 L288.75,557.33 L289.00,557.20 L289.25,557.06 L289.50,556.91 L289.75,556.74 L290.00,556.57 L290.25,556.38 L290.50,556.19 L290.75,556.00 L291.00,555.80 L291.25,555.61 L291.50,555.42 L291.75,555.24 L292.00,555.31 L292.25,555.45 L292.50,555.58 L292.75,555.72 L293.00,555.86 L293.25,556.00 L293.50,556.14 L293.75,556.28 L294.00,556.42 L294.25,556.56 L294.50,556.70 L294.75,556.83 L295.00,556.97 L295.25,557.11 L295.50,557.24 L295.75,557.37 L296.00,557.50 L296.25,557.63 L296.50,557.75 L296.75,557.87 L297.00,558.00 L297.25,558.12 L297.50,558.24 L297.75,558.36 L298.50,558.72 L299.50,559.19 L300.50,559.65 L301.50,560.10 L302.50,560.54 L303.50,560.97 L304.50,561.39 L305.50,561.79 L306.50,562.17 L307.50,562.54 L308.50,562.89 L309.50,563.23 L310.50,563.56 L311.50,563.87 L312.50,564.18 L313.50,564.48 L314.50,564.77 L315.50,565.06 L316.50,565.34 L317.50,565.61 L318.50,565.88 L319.50,566.15 L320.50,566.42 L321.50,566.69 L322.50,566.96 L323.50,567.23 L324.50,567.49 L325.50,567.75 L326.50,568.01 L327.50,568.26 L328.50,568.51 L329.50,568.74 L330.50,568.97 L331.50,569.19 L332.50,569.40 L333.50,569.60 L334.50,569.79 L335.50,569.96 L336.50,570.12 L337.50,570.27 L338.50,570.42 L339.50,570.56 L340.50,570.70 L341.50,570.83 L342.50,570.96 L343.50,571.09 L344.50,571.22 L345.50,571.34 L346.50,571.46 L347.50,571.57 L348.50,571.68 L349.50,571.79 L350.50,571.89 L351.50,571.99 L352.50,572.09 L353.50,572.18 L354.50,572.27 L355.50,572.35 L356.50,572.44 L357.50,572.51 L358.50,572.58 L359.50,572.65 L360.50,572.71 L361.50,572.77 L362.50,572.83 L363.50,572.88 L364.50,572.93 L365.50,572.97 L366.50,573.02 L367.50,573.06 L368.50,573.10 L369.50,573.13 L370.50,573.17 L371.50,573.20 L372.50,573.24 L373.50,573.27 L374.50,573.30 L375.50,573.33 L376.50,573.37 L377.50,573.40 L378.50,573.43 L379.50,573.46 L380.50,573.49 L381.50,573.53 L382.50,573.56 L383.50,573.60"/>
<path class="c" stroke="#ff0000" d="M53.50,600.20 L54.50,600.17 L55.50,600.14 L56.50,600.11 L57.50,600.08 L58.50,600.05 L59.50,600.03 L60.50,600.00 L61.50,599.98 L62.50,599.95 L63.50,599.92 L64.50,599.90 L65.50,599.87 L66.50,599.84 L67.50,599.81 L68.50,599.77 L69.50,599.74 L70.50,599.70 L71.50,599.66 L72.50,599.62 L73.50,599.57 L74.50,599.53 L75.50,599.47 L76.50,599.41 L77.50,599.33 L78.50,599.24 L79.50,599.15 L80.50,599.04 L81.50,598.93 L82.50,598.81 L83.50,598.68 L84.50,598.55 L85.50,598.42 L86.50,598.28 L87.50,598.14 L88.50,598.01 L89.50,597.87 L90.50,597.73 L91.50,597.59 L92.50,597.45 L93.50,597.30 L94.50,597.14 L95.50,596.99 L96.50,596.82 L97.50,596.66 L98.50,596.49 L99.50,596.31 L100.50,596.13 L101.50,595.95 L102.50,595.76 L103.50,595.57 L104.50,595.37 L105.50,595.17 L106.50,594.97 L107.50,594.76 L108.50,594.54 L109.50,594.32 L110.50,594.09 L111.50,593.86 L112.50,593.62 L113.50,593.37 L114.50,593.11 L115.50,592.85 L116.50,592.59 L117.50,592.31 L118.50,592.03 L119.50,591.74 L120.50,591.45 L121.50,591.15 L122.50,590.84 L123.50,590.52 L124.50,590.20 L125.50,589.87 L126.50,589.53 L127.50,589.18 L128.50,588.82 L129.50,588.45 L130.50,588.07 L131.50,587.68 L132.50,587.27 L133.50,586.86 L134.50,586.44 L135.50,586.00 L136.50,585.56 L137.50,585.10 L138.50,584.63 L139.50,584.15 L140.50,583.66 L141.50,583.15 L142.50,582.63 L143.25,582.20 L143.50,582.05 L143.75,581.89 L144.00,581.74 L144.25,581.58 L144.50,581.43 L144.75,581.27 L145.00,581.11 L145.25,580.94 L145.50,580.78 L145.75,580.62 L146.00,580.45 L146.25,580.29 L146.50,580.12 L146.75,579.96 L147.00,579.79 L147.25,579.63 L147.50,579.47 L147.75,579.30 L148.00,579.14 L148.25,578.98 L148.50,578.83 L148.75,578.77 L149.00,579.14 L149.25,579.54 L149.50,579.96 L149.75,580.38 L150.00,580.78 L150.25,581.17 L150.50,581.53 L150.75,581.84 L151.00,582.09 L151.25,582.27 L151.50,582.40 L151.75,582.51 L152.00,582.62 L152.25,582.72 L152.50,582.80 L152.75,582.89 L153.00,582.96 L153.25,583.03 L153.50,583.10 L153.75,583.15 L154.00,583.21 L154.25,583.26 L154.50,583.31 L154.75,583.36 L155.00,583.40 L155.25,583.44 L155.50,583.49 L155.75,583.53 L156.00,583.57 L156.25,583.61 L156.50,583.64 L156.75,583.68 L157.00,583.72 L157.25,583.75 L157.50,583.78 L157.75,583.81 L158.00,583.84 L158.25,583.87 L158.50,583.89 L158.75,583.91 L159.50,583.97 L160.50,584.02 L161.50,584.06 L162.50,584.10 L163.50,584.13 L164.50,584.16 L165.50,584.18 L166.50,584.19 L167.50,584.20 L168.50,584.20 L169.50,584.18 L170.50,584.15 L171.50,584.11 L172.50,584.06 L173.50,584.00 L174.00,583.97 L174.50,583.93 L175.00,583.90 L175.50,583.86 L176.00,583.82 L176.50,583.78 L177.00,583.74 L177.50,583.70 L178.00,583.66 L178.50,583.62 L179.00,583.58 L179.50,583.54 L180.00,583.50 L180.50,583.45 L181.00,583.40 L181.50,583.34 L182.00,583.28 L182.50,583.21 L183.00,583.14 L183.50,583.06 L184.00,582.98 L184.50,582.90 L185.00,582.82 L185.50,582.73 L186.00,582.65 L186.50,582.58 L187.00,582.50 L187.50,582.43 L188.00,582.36 L188.50,582.30 L189.00,582.25 L189.50,582.20 L190.00,582.16 L190.50,582.13 L191.00,582.12 L191.50,582.12 L192.00,582.15 L192.50,582.23 L193.00,582.36 L193.50,582.52 L194.00,582.71 L194.50,582.91 L195.00,583.15 L195.50,583.43 L196.00,583.76 L196.50,584.17 L197.00,584.68 L197.50,585.34 L198.00,586.19 L198.50,587.25 L199.00,588.55 L199.50,590.21 L200.00,592.20 L200.50,594.11 L201.00,595.54 L201.50,596.40 L202.00,596.84 L202.50,597.03 L203.00,597.12 L203.50,597.17 L204.00,597.22 L204.50,597.27 L205.00,597.30 L205.50,597.33 L206.00,597.36 L206.50,597.38 L207.00,597.40 L207.50,597.42 L208.00,597.44 L208.50,597.45 L209.00,597.47 L209.50,597.48 L210.00,597.50 L210.50,597.52 L211.00,597.53 L211.50,597.55 L212.00,597.57 L212.50,597.58 L213.00,597.60 L213.50,597.62 L214.00,597.63 L214.50,597.64 L215.00,597.65 L215.50,597.67 L216.00,597.68 L216.50,597.68 L217.00,597.69 L217.50,597.69 L218.00,597.70 L218.50,597.70 L219.00,597.70 L219.50,597.69 L220.00,597.69 L220.50,597.68 L221.00,597.68 L221.50,597.67 L222.00,597.65 L222.50,597.64 L223.00,597.63 L223.50,597.62 L224.00,597.60 L224.50,597.58 L225.00,597.57 L225.50,597.55 L226.00,597.53 L226.50,597.52 L227.00,597.50 L227.50,597.48 L228.00,597.47 L228.50,597.45 L229.00,597.44 L229.50,597.42 L230.00,597.40 L230.50,597.38 L231.00,597.36 L231.50,597.33 L232.00,597.30 L232.50,597.27 L233.00,597.22 L233.50,597.17 L234.00,597.12 L234.50,597.03 L235.00,596.84 L235.50,596.40 L236.00,595.54 L236.50,594.11 L237.00,592.20 L237.50,590.21 L238.00,588.55 L238.50,587.25 L239.00,586.19 L239.50,585.34 L240.00,584.68 L240.50,584.17 L241.00,583.76 L241.50,583.43 L242.00,583.15 L242.50,582.91 L243.00,582.71 L243.50,582.52 L244.00,582.36 L244.50,582.23 L245.00,582.15 L245.50,582.12 L246.00,582.12 L246.50,582.13 L247.00,582.16 L247.50,582.20 L248.00,582.25 L248.50,582.30 L249.00,582.36 L249.50,582.43 L250.00,582.50 L250.50,582.58 L251.00,582.65 L251.50,582.73 L252.00,582.82 L252.50,582.90 L253.00,582.98 L253.50,583.06 L254.00,583.14 L254.50,583.21 L255.00,583.28 L255.50,583.34 L256.00,583.40 L256.50,583.45 L257.00,583.50 L257.50,583.54 L258.00,583.58 L258.50,583.62 L259.00,583.66 L259.50,583.70 L260.00,583.74 L260.50,583.78 L261.00,583.82 L261.50,583.86 L262.00,583.90 L262.50,583.93 L263.00,583.97 L263.50,584.00 L264.50,584.06 L265.50,584.11 L266.50,584.15 L267.50,584.18 L268.50,584.20 L269.50,584.20 L270.50,584.19 L271.50,584.18 L272.50,584.16 L273.50,584.13 L274.50,584.10 L275.50,584.06 L276.50,584.02 L277.50,583.97 L278.25,583.91 L278.50,583.89 L278.75,583.87 L279.00,583.84 L279.25,583.81 L279.50,583.78 L279.75,583.75 L280.00,583.72 L280.25,583.68 L280.50,583.64 L280.75,583.61 L281.00,583.57 L281.25,583.53 L281.50,583.49 L281.75,583.44 L282.00,583.40 L282.25,583.36 L282.50,583.31 L282.75,583.26 L283.00,583.21 L283.25,583.15 L283.50,583.10 L283.75,583.03 L284.00,582.96 L284.25,582.89 L284.50,582.80 L284.75,582.72 L285.00,582.62 L285.25,582.51 L285.50,582.40 L285.75,582.27 L286.00,582.09 L286.25,581.84 L286.50,581.53 L286.75,581.17 L287.00,580.78 L287.25,580.38 L287.50,579.96 L287.75,579.54 L288.00,579.14 L288.25,578.77 L288.50,578.83 L288.75,578.98 L289.00,579.14 L289.25,579.30 L289.50,579.47 L289.75,579.63 L290.00,579.79 L290.25,579.96 L290.50,580.12 L290.75,580.29 L291.00,580.45 L291.25,580.62 L291.50,580.78 L291.75,580.94 L292.00,581.11 L292.25,581.27 L292.50,581.43 L292.75,581.58 L293.00,581.74 L293.25,581.89 L293.50,582.05 L293.75,582.20 L294.50,582.63 L295.50,583.15 L296.50,583.66 L297.50,584.15 L298.50,584.63 L299.50,585.10 L300.50,585.56 L301.50,586.00 L302.50,586.44 L303.50,586.86 L304.50,587.27 L305.50,587.68 L306.50,588.07 L307.50,588.45 L308.50,588.82 L309.50,589.18 L310.50,589.53 L311.50,589.87 L312.50,590.20 L313.50,590.52 L314.50,590.84 L315.50,591.15 L316.50,591.45 L317.50,591.74 L318.50,592.03 L319.50,592.31 L320.50,592.59 L321.50,592.85 L322.50,593.11 L323.50,593.37 L324.50,593.62 L325.50,593.86 L326.50,594.09 L327.50,594.32 L328.50,594.54 L329.50,594.76 L330.50,594.97 L331.50,595.17 L332.50,595.37 L333.50,595.57 L334.50,595.76 L335.50,595.95 L336.50,596.13 L337.50,596.31 L338.50,596.49 L339.50,596.66 L340.50,596.82 L341.50,596.99 L342.50,597.14 L343.50,597.30 L344.50,597.45 L345.50,597.59 L346.50,597.73 L347.50,597.87 L348.50,598.01 L349.50,598.14 L350.50,598.28 L351.50,598.42 L352.50,598.55 L353.50,598.68 L354.50,598.81 L355.50,598.93 L356.50,599.04 L357.50,599.15 L358.50,599.24 L359.50,599.33 L360.50,599.41 L361.50,599.47 L362.50,599.53 L363.50,599.57 L364.50,599.62 L365.50,599.66 L366.50,599.70 L367.50,599.74 L368.50,599.77 L369.50,599.81 L370.50,599.84 L371.50,599.87 L372.50,599.90 L373.50,599.92 L374.50,599.95 L375.50,599.98 L376.50,600.00 L377.50,600.03 L378.50,600.05 L379.50,600.08 L380.50,600.11 L381.50,600.14 L382.50,600.17 L383.50,600.20"/>
<path class="c" stroke="#000000" style="stroke-width:2.3" d="M53.50,624.40 L54.50,624.30 L55.50,624.21 L56.50,624.11 L57.50,624.02 L58.50,623.93 L59.50,623.83 L60.50,623.74 L61.50,623.65 L62.50,623.56 L63.50,623.46 L64.50,623.37 L65.50,623.28 L66.50,623.18 L67.50,623.08 L68.50,622.99 L69.50,622.89 L70.50,622.78 L71.50,622.68 L72.50,622.58 L73.50,622.47 L74.50,622.36 L75.50,622.24 L76.50,622.13 L77.50,622.01 L78.50,621.89 L79.50,621.77 L80.50,621.64 L81.50,621.52 L82.50,621.39 L83.50,621.25 L84.50,621.12 L85.50,620.98 L86.50,620.83 L87.50,620.69 L88.50,620.53 L89.50,620.38 L90.50,620.22 L91.50,620.05 L92.50,619.88 L93.50,619.71 L94.50,619.53 L95.50,619.34 L96.50,619.15 L97.50,618.95 L98.50,618.75 L99.50,618.55 L100.50,618.34 L101.50,618.12 L102.50,617.90 L103.50,617.68 L104.50,617.45 L105.50,617.22 L106.50,616.99 L107.50,616.75 L108.50,616.51 L109.50,616.26 L110.50,616.01 L111.50,615.75 L112.50,615.48 L113.50,615.21 L114.50,614.93 L115.50,614.64 L116.50,614.35 L117.50,614.06 L118.50,613.75 L119.50,613.44 L120.50,613.13 L121.50,612.81 L122.50,612.48 L123.50,612.14 L124.50,611.80 L125.50,611.45 L126.50,611.10 L127.50,610.73 L128.50,610.35 L129.50,609.95 L130.50,609.53 L131.50,609.10 L132.50,608.64 L133.50,608.15 L134.50,607.62 L135.50,607.02 L136.25,606.55 L136.50,606.38 L136.75,606.22 L137.00,606.05 L137.25,605.88 L137.50,605.71 L137.75,605.53 L138.00,605.36 L138.25,605.19 L138.50,605.01 L138.75,604.84 L139.00,604.66 L139.25,604.49 L139.50,604.32 L139.75,604.14 L140.00,603.97 L140.25,603.80 L140.50,603.63 L140.75,603.46 L141.00,603.30 L141.25,603.13 L141.50,603.41 L141.75,603.84 L142.00,604.28 L142.25,604.72 L142.50,605.15 L142.75,605.55 L143.00,605.90 L143.25,606.19 L143.50,606.40 L143.75,606.56 L144.00,606.70 L144.25,606.82 L144.50,606.94 L144.75,607.04 L145.00,607.14 L145.25,607.23 L145.50,607.31 L145.75,607.39 L146.00,607.46 L146.25,607.53 L146.50,607.60 L146.75,607.67 L147.00,607.74 L147.25,607.80 L147.50,607.86 L147.75,607.93 L148.00,607.99 L148.25,608.04 L148.50,608.10 L148.75,608.15 L149.00,608.20 L149.25,608.24 L149.50,608.28 L149.75,608.32 L150.00,608.36 L150.25,608.38 L150.50,608.41 L150.75,608.43 L151.00,608.46 L151.25,608.48 L151.50,608.50 L151.75,608.53 L152.50,608.59 L153.50,608.67 L154.50,608.74 L155.50,608.80 L156.50,608.85 L157.50,608.88 L158.50,608.90 L159.50,608.90 L160.50,608.89 L161.50,608.88 L162.50,608.86 L163.50,608.83 L164.50,608.80 L165.50,608.77 L166.50,608.73 L167.50,608.69 L168.50,608.66 L169.50,608.62 L170.50,608.58 L171.50,608.53 L172.50,608.48 L173.50,608.41 L174.00,608.38 L174.50,608.34 L175.00,608.30 L175.50,608.27 L176.00,608.23 L176.50,608.19 L177.00,608.15 L177.50,608.11 L178.00,608.06 L178.50,608.02 L179.00,607.98 L179.50,607.94 L180.00,607.90 L180.50,607.86 L181.00,607.83 L181.50,607.79 L182.00,607.75 L182.50,607.72 L183.00,607.69 L183.50,607.66 L184.00,607.63 L184.50,607.60 L185.00,607.58 L185.50,607.56 L186.00,607.54 L186.50,607.53 L187.00,607.52 L187.50,607.51 L188.00,607.51 L188.50,607.51 L189.00,607.54 L189.50,607.60 L190.00,607.68 L190.50,607.78 L191.00,607.89 L191.50,608.01 L192.00,608.15 L192.50,608.32 L193.00,608.52 L193.50,608.76 L194.00,609.04 L194.50,609.37 L195.00,609.78 L195.50,610.28 L196.00,610.89 L196.50,611.64 L197.00,612.61 L197.50,613.95 L198.00,615.67 L198.50,617.61 L199.00,619.46 L199.50,620.83 L200.00,621.64 L200.50,622.07 L201.00,622.29 L201.50,622.39 L202.00,622.46 L202.50,622.51 L203.00,622.56 L203.50,622.60 L204.00,622.64 L204.50,622.67 L205.00,622.70 L205.50,622.73 L206.00,622.75 L206.50,622.77 L207.00,622.79 L207.50,622.81 L208.00,622.82 L208.50,622.84 L209.00,622.86 L209.50,622.88 L210.00,622.90 L210.50,622.92 L211.00,622.95 L211.50,622.97 L212.00,623.00 L212.50,623.02 L213.00,623.04 L213.50,623.07 L214.00,623.09 L214.50,623.11 L215.00,623.13 L215.50,623.14 L216.00,623.16 L216.50,623.17 L217.00,623.18 L217.50,623.19 L218.00,623.20 L218.50,623.20 L219.00,623.20 L219.50,623.19 L220.00,623.18 L220.50,623.17 L221.00,623.16 L221.50,623.14 L222.00,623.13 L222.50,623.11 L223.00,623.09 L223.50,623.07 L224.00,623.04 L224.50,623.02 L225.00,623.00 L225.50,622.97 L226.00,622.95 L226.50,622.92 L227.00,622.90 L227.50,622.88 L228.00,622.86 L228.50,622.84 L229.00,622.82 L229.50,622.81 L230.00,622.79 L230.50,622.77 L231.00,622.75 L231.50,622.73 L232.00,622.70 L232.50,622.67 L233.00,622.64 L233.50,622.60 L234.00,622.56 L234.50,622.51 L235.00,622.46 L235.50,622.39 L236.00,622.29 L236.50,622.07 L237.00,621.64 L237.50,620.83 L238.00,619.46 L238.50,617.61 L239.00,615.67 L239.50,613.95 L240.00,612.61 L240.50,611.64 L241.00,610.89 L241.50,610.28 L242.00,609.78 L242.50,609.37 L243.00,609.04 L243.50,608.76 L244.00,608.52 L244.50,608.32 L245.00,608.15 L245.50,608.01 L246.00,607.89 L246.50,607.78 L247.00,607.68 L247.50,607.60 L248.00,607.54 L248.50,607.51 L249.00,607.51 L249.50,607.51 L250.00,607.52 L250.50,607.53 L251.00,607.54 L251.50,607.56 L252.00,607.58 L252.50,607.60 L253.00,607.63 L253.50,607.66 L254.00,607.69 L254.50,607.72 L255.00,607.75 L255.50,607.79 L256.00,607.83 L256.50,607.86 L257.00,607.90 L257.50,607.94 L258.00,607.98 L258.50,608.02 L259.00,608.06 L259.50,608.11 L260.00,608.15 L260.50,608.19 L261.00,608.23 L261.50,608.27 L262.00,608.30 L262.50,608.34 L263.00,608.38 L263.50,608.41 L264.50,608.48 L265.50,608.53 L266.50,608.58 L267.50,608.62 L268.50,608.66 L269.50,608.69 L270.50,608.73 L271.50,608.77 L272.50,608.80 L273.50,608.83 L274.50,608.86 L275.50,608.88 L276.50,608.89 L277.50,608.90 L278.50,608.90 L279.50,608.88 L280.50,608.85 L281.50,608.80 L282.50,608.74 L283.50,608.67 L284.50,608.59 L285.25,608.53 L285.50,608.50 L285.75,608.48 L286.00,608.46 L286.25,608.43 L286.50,608.41 L286.75,608.38 L287.00,608.36 L287.25,608.32 L287.50,608.28 L287.75,608.24 L288.00,608.20 L288.25,608.15 L288.50,608.10 L288.75,608.04 L289.00,607.99 L289.25,607.93 L289.50,607.86 L289.75,607.80 L290.00,607.74 L290.25,607.67 L290.50,607.60 L290.75,607.53 L291.00,607.46 L291.25,607.39 L291.50,607.31 L291.75,607.23 L292.00,607.14 L292.25,607.04 L292.50,606.94 L292.75,606.82 L293.00,606.70 L293.25,606.56 L293.50,606.40 L293.75,606.19 L294.00,605.90 L294.25,605.55 L294.50,605.15 L294.75,604.72 L295.00,604.28 L295.25,603.84 L295.50,603.41 L295.75,603.13 L296.00,603.30 L296.25,603.46 L296.50,603.63 L296.75,603.80 L297.00,603.97 L297.25,604.14 L297.50,604.32 L297.75,604.49 L298.00,604.66 L298.25,604.84 L298.50,605.01 L298.75,605.19 L299.00,605.36 L299.25,605.53 L299.50,605.71 L299.75,605.88 L300.00,606.05 L300.25,606.22 L300.50,606.38 L300.75,606.55 L301.50,607.02 L302.50,607.62 L303.50,608.15 L304.50,608.64 L305.50,609.10 L306.50,609.53 L307.50,609.95 L308.50,610.35 L309.50,610.73 L310.50,611.10 L311.50,611.45 L312.50,611.80 L313.50,612.14 L314.50,612.48 L315.50,612.81 L316.50,613.13 L317.50,613.44 L318.50,613.75 L319.50,614.06 L320.50,614.35 L321.50,614.64 L322.50,614.93 L323.50,615.21 L324.50,615.48 L325.50,615.75 L326.50,616.01 L327.50,616.26 L328.50,616.51 L329.50,616.75 L330.50,616.99 L331.50,617.22 L332.50,617.45 L333.50,617.68 L334.50,617.90 L335.50,618.12 L336.50,618.34 L337.50,618.55 L338.50,618.75 L339.50,618.95 L340.50,619.15 L341.50,619.34 L342.50,619.53 L343.50,619.71 L344.50,619.88 L345.50,620.05 L346.50,620.22 L347.50,620.38 L348.50,620.53 L349.50,620.69 L350.50,620.83 L351.50,620.98 L352.50,621.12 L353.50,621.25 L354.50,621.39 L355.50,621.52 L356.50,621.64 L357.50,621.77 L358.50,621.89 L359.50,622.01 L360.50,622.13 L361.50,622.24 L362.50,622.36 L363.50,622.47 L364.50,622.58 L365.50,622.68 L366.50,622.78 L367.50,622.89 L368.50,622.99 L369.50,623.08 L370.50,623.18 L371.50,623.28 L372.50,623.37 L373.50,623.46 L374.50,623.56 L375.50,623.65 L376.50,623.74 L377.50,623.83 L378.50,623.93 L379.50,624.02 L380.50,624.11 L381.50,624.21 L382.50,624.30 L383.50,624.40"/>
</g></g>
<path class="tk" d="M66.50,625.40v-5.00 M66.50,341.60v5.00 M87.50,625.40v-5.00 M87.50,341.60v5.00 M109.50,625.40v-5.00 M109.50,341.60v5.00 M131.50,625.40v-5.00 M131.50,341.60v5.00 M153.50,625.40v-5.00 M153.50,341.60v5.00 M174.50,625.40v-5.00 M174.50,341.60v5.00 M196.50,625.40v-5.00 M196.50,341.60v5.00 M218.50,625.40v-7.20 M218.50,341.60v7.20 M240.50,625.40v-5.00 M240.50,341.60v5.00 M261.50,625.40v-5.00 M261.50,341.60v5.00 M283.50,625.40v-5.00 M283.50,341.60v5.00 M305.50,625.40v-5.00 M305.50,341.60v5.00 M327.50,625.40v-5.00 M327.50,341.60v5.00 M348.50,625.40v-5.00 M348.50,341.60v5.00 M370.50,625.40v-5.00 M370.50,341.60v5.00 M53.50,596.50h2.8 M383.50,596.50h-2.8 M53.50,568.20h2.8 M383.50,568.20h-2.8 M53.50,539.90h2.8 M383.50,539.90h-2.8 M53.50,511.60h2.8 M383.50,511.60h-2.8 M53.50,483.30h4.6 M383.50,483.30h-4.6 M53.50,455.00h2.8 M383.50,455.00h-2.8 M53.50,426.70h2.8 M383.50,426.70h-2.8 M53.50,398.40h2.8 M383.50,398.40h-2.8 M53.50,370.10h2.8 M383.50,370.10h-2.8"/>
<rect class="ax" x="53.5" y="341.6" width="330.0" height="283.8"/>
<text transform="translate(59.60,370.60) scale(1,0.975)" style="font-size:19.95px" text-anchor="start">(b)<tspan class="i">T</tspan> dependence at <tspan class="i">U</tspan>=1.8</text>
<text transform="translate(391.00,399.00) scale(1,0.975)" style="font-size:20.00px" text-anchor="start"><tspan class="i">T</tspan>=0.040</text>
<text transform="translate(391.00,427.50) scale(1,0.975)" style="font-size:20.00px" text-anchor="start"><tspan class="i">T</tspan>=0.017</text>
<text transform="translate(391.00,455.40) scale(1,0.975)" style="font-size:20.00px" text-anchor="start"><tspan class="i">T</tspan>=0.015</text>
<text transform="translate(391.00,479.10) scale(1,0.975)" style="font-size:20.00px" text-anchor="start"><tspan class="i">T</tspan>=0.013</text>
<text transform="translate(391.00,506.50) scale(1,0.975)" style="font-size:20.00px" text-anchor="start"><tspan class="i">T</tspan>=0.011</text>
<text transform="translate(391.00,529.60) scale(1,0.975)" style="font-size:20.00px" text-anchor="start"><tspan class="i">T</tspan>=0.009</text>
<text transform="translate(391.00,555.20) scale(1,0.975)" style="font-size:20.00px" text-anchor="start"><tspan class="i">T</tspan>=0.007</text>
<text transform="translate(391.00,580.80) scale(1,0.975)" style="font-size:20.00px" text-anchor="start"><tspan class="i">T</tspan>=0.005</text>
<text transform="translate(391.00,606.70) scale(1,0.975)" style="font-size:20.00px" text-anchor="start"><tspan class="i">T</tspan>=0.003</text>
<text transform="translate(391.00,630.60) scale(1,0.975)" style="font-size:20.00px" text-anchor="start"><tspan class="i">T</tspan>=0.001</text>
<text transform="translate(109.60,645.90) scale(1,0.975)" style="font-size:19.80px" text-anchor="middle">−0.05</text>
<text transform="translate(218.50,645.90) scale(1,0.975)" style="font-size:19.80px" text-anchor="middle">0</text>
<text transform="translate(327.00,645.90) scale(1,0.975)" style="font-size:19.80px" text-anchor="middle">0.05</text>
<text transform="translate(218.30,662.90) scale(1,0.975)" style="font-size:23.50px" text-anchor="middle" class="i">ε</text>
<text transform="translate(5.20,489.30) scale(1,0.975)" style="font-size:20.00px" text-anchor="start"><tspan class="i" style="font-size:23px">ρ</tspan><tspan class="i" dx="-0.9" dy="-9.5" style="font-size:14.5px">f</tspan><tspan dx="-0.4" dy="9.5" style="font-size:21.2px">(</tspan><tspan class="i" dx="0.4" style="font-size:23.5px">ε</tspan><tspan dx="-0.6" style="font-size:21.2px">)</tspan></text>
</svg></body></html>
